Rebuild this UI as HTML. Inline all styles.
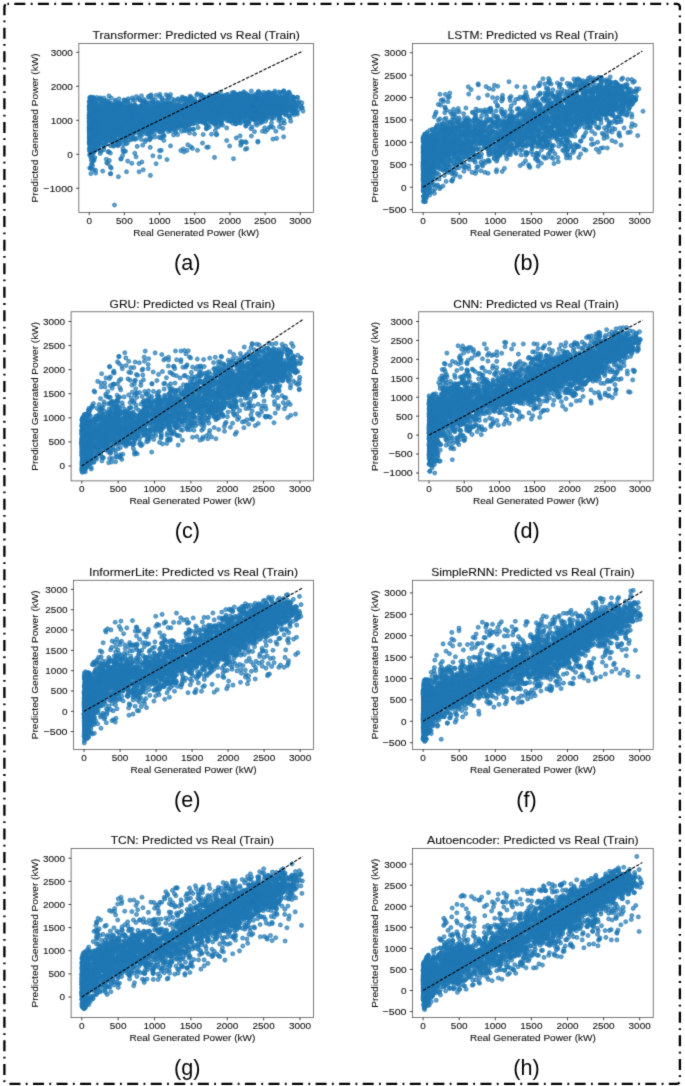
<!DOCTYPE html><html><head><meta charset="utf-8"><style>html,body{margin:0;padding:0;background:#fff}svg{display:block}text{font-family:"Liberation Sans",sans-serif;fill:#111;stroke:#111;stroke-width:0.1px}.sc path{fill:none;stroke:none;marker-start:url(#mk);marker-mid:url(#mk);marker-end:url(#mk)}</style></head><body>
<svg width="685" height="1086" viewBox="0 0 685 1086">
<defs><filter id="bl" filterUnits="userSpaceOnUse" x="0" y="0" width="685" height="1086" color-interpolation-filters="sRGB"><feConvolveMatrix order="3" kernelMatrix="1 6 1 6 36 6 1 6 1" edgeMode="duplicate"/></filter></defs><g filter="url(#bl)">
<rect width="685" height="1086" fill="#fff"/>
<defs><marker id="mk" markerUnits="userSpaceOnUse" markerWidth="1" markerHeight="1" overflow="visible"><circle r="20.4" fill="#1f77b4" fill-opacity="0.7" stroke="#1f77b4" stroke-opacity="0.7" stroke-width="9.1"/></marker></defs>
<clipPath id="ca"><rect x="78.85" y="43.35" width="234.65" height="169.1"/></clipPath>
<g class="sc" clip-path="url(#ca)"><g transform="scale(.1)"><path d="m1090 959 274 7 51-8 71 5 24-14 0 10 52-6 34 12 3-21 63 3 16 15 27-17 197 17 64-13 9-12 31 13 9 0 17 16 65-18 1 16 51-5 6-18 3 7 11-1 9 11 1-9 2 16 20 1 3-45 14 43 9-5 17 7 3-12 25-9 4 0 36 15 8-32 5 33 10-34 8-2 3 25 9-6 16 22 7-13 0 12 1-21 15-5 8-4 9 16 3 14 1-22 21-13 2-12 7 22 3 18 9-7 6-15 6 14 2 11 5-5 4 6 9-12 19 14 5-54 14 57 1-12 23-11 21 11 4-19 6-16 1 13 2-20 11 13 16 19 3 13 21-34 5 26 10-18 7 17 5 12 2-12 1 9 1 1 10-29 6-9 5 39 5-4 3-29 9 26 2 14 5-21 0 16 5-30 7 7 14 26 3-7 2-22 5-25 0 14 17 35 25-40 4 37 5-31 17 15 19-27 0 0 3-6 15 53 3-15 1 21 15-31 15 3 1-15 3-2 12 26 89 68-17-41-2-2-6 50-20 4-7 0-2-37-2-18-2 51 0-14-1-35-2 33-1 12-2-2-7-49-9 41-6-25-22 22-4-26-2 28-10-27-1 11-2 31 0-22-1-14-1 33-3-23-2 26 0 0-1-8-4-31 0 39-1-1-4-42-3 38-1-31 0 9-3-9-1 37-3-4-3 4-4-12-7 11-1-21-5-23-1 47 0-57-4 28 0 12 0-28-1 32-4-17 0 7 0 19-1-7-1-11 0-19-2 25-4-4 0 0-17-20-1 27-3-36 0 37-1 13-2-22-1-28-1 39-2-39-5 39-3-42-3 17 0 4-5-12-2 39 0 1-4-16 0-31-1 40-8 8-2-34-1 34 0-40-2 41 0 0-1-20-2-34 0 4-4 2-2-6 0 36-1 16 0 4-1-36-3-17-4 39-1-35 0 28 0 20-7-18-2 14 0-11-1-17-4-24 0 30-3 24 0-41-1 10-2-11-1 8-4 27-3-15 0 10-1 2 0-8-3-12 0 11-5 5-3-31-4-11-1 27-4 29-1-33-2 12 0 23-1-20-3-21-4-2-3 21-4-3-1 15-1-25-1 26 0-31-1 16-1 9-4-15-4-10 0 40-1-19-1 8-1 4-2 3-1-34-2 34-3-42-1 27 0-10-4-16-4 42-2-6 0 4-1 4-3-45 0 40-2-34-5 36-1-18 0-10-1 15-7-25-2 20-1 3 0-22-1 2 0 37-3-6-1 3-1-13 0 11-5-32-2-6-2 22-1 5-3 17 0-44-1 19 0-21-1 6-1-8-1 33-2-35-1 22-2 18-1 8 0-30 0-15-2 45-2-54-3 55-4-44-2-1-1 41-2-39-1-5-2 14-5 9-2 18 0-16 0-11-2 18-2-24-1 34-3-28-1 1 0 22-3-1-7 10 0-33-3 33-5-3-1-35-1 20-10 15-2-17-1-4-3 17-4-12-4 7-3-34-1-6 0 32-3-25-1 13-3 0-1 28-4-8-1-16-5 23-1-4-1-39-1 38-2-22 0 5-2-2-2-7 0 27-2-17-8 19-7-35-3-11 0 37-2 18-1-55-3 54-3-32-1 12-3-13 0 6 0 18-3-15-3 18 0-40-5 33 0 14 0 0-3-22-1-13-2 25-1-15 0 28 0-11 0-24 0 12-5 7-4-34-5 25-2-30-1 30 0 20-2-11 0 14-5-55-1 29-2 17-1 0-2-13-5 17-3-45-3 37-1-6-4-31-1 31-1 1 0 18 0-24-8-11-1 26 0-38 0 19-5 24-3 0-3-46-2-2-9 2-5 25-1-30-3 54-3-2-2-1-3-17-1-15-2-19 0 34-3 3-5-3-6-8-1 13-5 7-2 1 0-8-2-22-5 31 0-12-3-5-6-26-2-6-2 28-3 7-2-14-3 11-1 16-1-28-8 13-2-13-2 5 0-2-6 21-2-29-3 29-7-45-3 54-6-8-3-14-1-9 0-15 0 12-1 30-1-35-1-6-3 17 0 4-1 14-5-23-3 0-3-15-1 12-6 32-1 3-2-9-1 5-6 10-1-11-1 2-2 9 0-41-9 27-4-24-1 7-5-2-2 28-3-3-1 4-2-50-2 49-4 3-2-43-2 37-2-37 0 37-5-13-1-16 0 37-1-26-2 24-5-10-7-5-2-42-10 20-4 1-3 27-4-3-1 8-4 0-1-47-6 42-14-44-13 31-6-2 0-27-9 9-4 38 0-15-5 13-1 8-13-4-1-44-5 35-9 11-4-6-28 6-9-10 0 1-6-26-1 31-6 0-4 2-3-12-5 14-1 1-1-16-2 8 0 1-4-36-10-12-8 21-3 24-1-28-12 11-1 8-26-18-1-7-4 19-22-24-3 31-2-16-5-21-17 37-20-10-4-10-33 25-2-13-27-13-28-19-12 37-7-7-44 1-6-18-2 28-37 17-29-25-21 22-1-1-3-34-9 15-32-29-33 48-6-7-6-19-6 17-10 4-22-14-6-4-14-15-37 23-19-9-5-19-40 8-6 19-1 19-22-21-10 3-4-8-49 26-1-36-36 12-5 17-36-37-15 46-17-13-13-8-27-4-2-22-10 39-19-27-7 6 0-19-18 10-16-14-6 31-19-15 0 14-5 18-2-48-1 3-4 41-12-18-7-16-2-14-1 49-5-4-1-44-3 49-1-34-2 35 0-45-3 38-2-2 0 56 0-2 0 2 1-14 0 30 1-45 0 42 0-15 1-5 0 17 0-18 3 6 1-8 2-3 0 7 3-4 0 6 2-22 1 1 1 5 1 26 0-21 0 23 1 7 0-16 1-27 0 37 0-35 1 27 0-11 2-12 0 31 1-25 0 21 1-37 1-1 1 30 0 18 1-29 3 30 4-32 1 13 0-16 4 6 0-26 2 5 1 13 4 35 3-53 3 20 1 29 1 3 1-38 2 39 1-12 0 3 7-40 4 5 3 41 0-14 8 7 9-7 0 6 0-2 10-10 0-28 12 32 4-27 4 34 9-32 13 30 13-8 1 17 6-49 2 48 0-24 3-20 27 40 1-33 4 15 0 9 2-8 7-12 13-7 2 25 5 22 5-19 5 15 8-1 2-33 0 33 5-3 10-12 3-17 0-6 3 42 2-4 7-38 4 30 2-42 6 41 2 17 5-39 1 39 2-43 1 12 3 28 6-45 2 24 4 14 1-21 1-11 5 42 4-50 2 35 16-33 3 33 1-4 2 19 4-10 15-3 2 7 1-40 4 32 6-4 9-16 7 21 10-36 0 49 3-26 2 26 2 0 5-27 1 22 2-3 3 7 4-29 2 24 8-3 2-11 5 14 5-33 6 5 2 17 5 10 4-20 6 27 32-25 0 20 8-13 3-1 4-15 1 17 1-13 12 17 4-40 14 48 13-33 3 22 1-30 2 7 3-4 3 10 7-26 10 59 4-3 2-52 7 55 3-6 8-17 5-5 5-30 3 53 12-13 6-28 6 31 15 3 3-26 3 0 6-18 3 51 3-1 11-35 1 39 3-11 7-4 2-17 13-4 2 17 7 12 10-45 1 8 8 12 0-7 2 6 0 17 2-7 1 21 5-6 1-39 11 5 3 44 5-16 1-22 0-3 1 26 6 11 2-26 8-17 3-3 12 34 0-38 4 13 1-9 1 27 8 21 19-26 2-8 2 22 14 10 3-14 3 6 1-21 2-7 18 22 2-31 1 21 4-3 11 14 4 13 6-20 9 18 7-22 5-7 2-4 4 12 8 25 1-31 2 32 0 1 1-23 5-21 2 24 1 7 1-44 1 42 0-8 8-24 2 44 0-1 7-15 22 8 0-1 7-36 1-3 3 42 24 2 0 0 3-7 3-3 3-9 1-26 1 27 6 22 1-34 3 10 11-8 3 19 3-3 1-33 2 52 0-24 0-20 1 22 1-17 6 8 5 30 8-44 5 17 4-16 3 24 2-7 2-27 0 27 1-16 6 37 4-10 5-23 2 3 0 18 2 5 0 6 1-30 0 32 6-18 0-14 0 21 4 15 0-4 0-8 1 0 1-5 2 4 1-41 3-3 2 39 1-15 1-20 4 28 2-30 4 35 2 3 0 18 6-11 1 5 0-4 1-47 3 37 0 8 5-25 1-9 1 17 0-8 1 10 10 8 1 18 3-12 1-6 3-17 1 6 2-8 0-8 3-7 1 44 2-17 0-8 0 7 0 16 3-10 2 4 0 6 2-16 1 12 6-23 1-1 0-13 4 27 1-6 1 25 1 3 5-20 0 21 2-19 4-16 0 5 1-6 1 5 0-3 1-6 1 39 2-25 2 16 0-45 1 45 3-42 0 53 14-30 2-9 1-10 1 7 0 6 0 20 0-18 0 17 3-39 7 30 0-12 1 32 4-19 2 16 0 9 1-51 0 28 1 0 6 17 4-14 3-26 1 15 0-13 2-14 1 2 0 4 2 15 0-1 2 28 2 3 0-13 3-19 1-19 3 48 1-7 2-29 2 20 1 4 1 19 2-23 0-23 1 10 4 17 0 11 1-17 2-14 1-13 2 29 1-26 3 36 0-3 1 18 2-29 0 24 1-27 0-11 1 44 2-2 1-28 1 1 0-26 1 25 2 20 1-32 0 6 3 7 0-21 2 18 0 7 1-19 1 10 1 19 2-4 3 20 0-36 2 20 3 5 2-27 0-11 1-1 0 29 2-21 2-4 3 3 1 33 0-30 3 13 0 5 1-35 4 15 0 40 6 0 0-57 3 35 1-14 0-7 1 23 1 7 2-25 1 2 1 9 3-10 4 18 0 20 3-23 2-5 1-7 1-13 1 1 1 45 1-55 0 40 1-16 1 27 2-2 1-25 2 26 0-7 4-14 0-3 2-15 2 31 1-2 1 10 0-23 6 5 1 17 5-3 1-42 0 6 3 41 1-15 1-5 3-3 2 5 2-14 1 28 2-43 0 19 1 22 1 6 0 6 0-11 3 11 0-38 2 11 0-23 1 0 2 44 0-33 1 17 0-8 1 18 0-43 1-3 0 49 1-1 1-29 2 18 1 19 0-49 3 20 0 25 5-9 1-39 1 44 3-22 0-17 2 39 1 6 3-22 3-20 2 44 0 1 1-39 3-4 3 21 1-17 2 3 0-5 0 15 1-5 1-4 3 6 2 19 0-33 1-4 0 34 3-13 1 7 3 11 1-33 1 25 0 17 1-49 3-2 1 36 1 14 3 0 0-29 0 21 1-11 1-5 1-13 1 19 1 8 0-33 2 15 1-26 2 31 1-22 5 27 1-37 0 40 0-10 2-15 1 21 1 9 2-43 1 10 3 15 5-2 1 25 2 5 1-54 0 31 0-19 1 28 0-15 5 2 0-20 3 4 2 23 1-13 2 10 2-34 0 31 1 5 4-12 1 6 0-16 3 8 4 12 7-6 2-5 0 8 1-22 2-7 5 33 2-12 0-1 1 29 0 0 2-22 1 18 1-3 2-2 0-2 1 2 1-1 0-22 1 13 1 11 1 11 0-46 0 18 1-9 2 7 1-22 0 52 0-9 1 1 2 5 5 4 0-51 1 55 1-13 0-2 1-19 2 21 0-39 1 46 1-45 1 8 1 30 2-6 0 2 2-37 1 26 2-18 1-3 2 30 1 16 1-29 0-22 1 4 2 27 0 3 1-12 1-5 0-7 0-10 0 23 1 10 1-27 0 1 2 8 3-5 2 0 1 22 2-23 1-6 0 16 3-5 0-18 3 23 4-5 1 32 1-28 1 25 3-29 0 16 0 14 2 6 1-35 2 10 1 16 1-9 0-9 5 17 0-35 2 3 0 5 1 32 1-20 1 29 1-36 3 23 0 4 1-49 1 12 2-7 0 37 1 4 4-5 2-28 5-14 1 33 1 20 1-5 2-24 0 19 4-43 1 23 0-6 0-3 1 1 1-7 1 49 1-40 1 15 0 1 1-10 2-22 1 32 5-20 1 24 0-17 0-18 1 24 1-16 0 17 1-20 1 23 1-22 1 1 0 40 2-40 1 30 1 9 0-20 0 0 4 22 2-39 0 7 5 13 1-14 0-16 1 27 1 26 0-22 5 19 3-7 1-26 2-5 2 30 0 2 2-13 2-3 2-21 0 8 0 31 2-21 1 22 2-48 1 4 1 42 1 11 0-36 0 35 4-38 0 0 0 19 2-12 2 12 0-1 1-6 0-13 0-10 2 46 3-40 1 28 1 5 2 0 0-7 0-14 1 30 1-15 1-20 1 28 4-36 1-4 0 32 1 16 2-1 0-10 2-4 1 6 4-28 1-15 1 2 1 47 0-7 1-22 2 28 1-9 0-14 4 27 4-27 0 23 2-28 2 7 0-31 1 19 0-5 2 0 0 3 2-14 1 48 3-15 1-17 4 4 0 36 1-20 2 16 1-39 1 37 3-4 2-11 0 8 1-12 2 7 0-19 1-6 2 2 4-9 0 12 5 20 1-22 4-6 2 29 0-17 1 1 1-2 2-9 0 21 3 23 1-33 0 11 0-17 1-11 1 20 2-26 1-1 1 18 3 7 0 2 5-12 0-11 6 6 3 42 6-35 1-7 5 1 9 27 1-4 4-23 0 27 1 19 4-1 6-4 12-23 4 12 0 5 0-31 17 14 0 6 2-25 18 12 3 10 7-3 16-28 24 28 5 16 4-46 4 48 7 34-44-16-12 46-6-14-7 2-2-17-10-12-3 4-3 3-4-13-6 8 0 13-2 16-10 3-11-25-8-14-11 8-20 5-1-8 0-9-1 14-6 38-4-12-18-3-2-28 0 13-4-13-4 21-2-22-3 4-1-12-7 35-1 4-5-10-2-13-2-3-4 9-1-20-3 48 0-37-1 42-2-52-1-6-7 11-3 4-1 14-1 15-1-8-2-7-1-27-2 16-1 3 0 33-1-48 0 34-3-18-6-4-2 33-1-26-2-22-2 44-3-46-2 12-1-11 0 45-4-15-1-25 0 45 0-3-2-43-2 36-2 5-3-35-6 25 0-5-4-30-7 48 0-33-4 15-5 1-5-28 0 14-2-12 0 14-1 30-1-10-3-28-2 22-1 4-2-32-3-3-6-4-2 28 0 18-1-30 0 35-8-33 0-14-7 42-1-45-5 17-1-18 0 42 0-33-2 5-5-10-2 28-1-7-2 30-3-43-1-12-3 18-1-10-1 3-1-8-1 18-5 5-2-17-1 2 0 31-2-5 0-16-1 8-6 0-5-20-2 20-1-28 0 19-1-16-2 44-6-7-4 1 0-25 0-1-2-9-1 43 0-40-2 14-1 12-7-25-1-11 0 24-3 35 0-26 0-8-6 26 0-44-3 8-4 10-4-22-2 0 0 26-2-24-2 0-4 0-4 4 0 47 0-4-1-3 0 4-1-25-2-5 0 30 0-14-1-2-6-8-3 16-1-9-1-22 0 42 0-35-6-2-2-3-1 12-2-5-5 6-1-4 0 18 0-24-5 30-4-12-1-3 0-26-2 8-1 5 0 10-1-7-2-16 0 37 0-20-3 9-1-29 0 8 0 2-1 6 0 18-3-16 0-7 0 14 0-2-2-1 0 18-4-39-2-2-2 33-3 2 0 3-1-27-1 1-4 13 0-25-1 22-1 33 0-12-4-32-2 37 0-37 0-5-1 2-2-8 0-3-1 15 0-8 0 22-3-30-1 4-3 29-4 1 0-23-1-5-2 34-3-11 0-18-2 28-3-16-8 0-1 3-3 2-3-1 0 4-1 21-2-51-1 22-1 2-1 28-2 3-1-37-1 24-1-36-3 0-2 40-1-13-1-27 0 31-3 7-1-8 0-9-1-23 0 35-1 14-1-52-3 43-8-5-5-17-2 36-1-4-2-29-3-11-1 21 0 1-1-36-3 45 0-34 0 34 0-16-7-11 0 2-1-7 0 44-3-18-1 9 0-33-1 40-3-48-3 1-3 2-1 12-1 0-1-22-2 32-1-18-3 7-4-2-2 39-3-57-1 41-5 7 0-5-1 0 0 13 0-26-2 2-1-32 0 27-2-7 0 37-1-59-2 58-3-41 0 42 0-24-1-7 0 6-1-28-1-3-1-2-1 22-1 5-3 30 0-21-2-36-1-1-2 52 0-20-1-24 0 36-3-36 0 31-2-23-5 36 0-17-1-35-1 32 0-3-10 9-1-17 0-12-3 8 0-12-1 21-1 16-2 9-2-4-1-31 0 8-2-8-2 15-1-23-3 24 0 5-1-18 0-18-1 27-1-21 0 9-4-16-1 51 0-13-3-27-3-5-1 4-2 43-2-18-3-30-2 41-5-25-1 13-1-17-6-15-5-1-3 43-7-31-1-6-1 17-2-4-6 34-1-8-3-8 0-34-1 19-1 24-1-3 0-29 0 0-3-1-1 37 0-36-3-6-1 42-7-40-1-10-1 11 0-9-1 40 0-42-4 29-4-29-3 23 0 13-1 18-2 0-1-4-2-15-1-35-3-1-1 26 0 19-3-43-2 22 0 13-1 5-1 3-4-12 0 14-2-30-5 18-1 1-2 6-2-29-1 23-1-2-1-16-1 36-4-43-7 4-1-6-1-5-1 35-1-36-2 12-3 3 0 13-1 16 0-20-1 16 0-12-1-9 0-2 0 16 0-10-1 4 0-11-5-2-2 34-3-29 0-7-2 23-1-1 0 13-3-27 0 13-1 8-2 12-2 3-5-56-7 41-3-43-2 49-1-48-3 20-2-17-1 48-6-51 0 35-3-36-1 57-1-23-1-25-2 0 0 42 0-19-2-22 0 29-1-14 0-18-2 44-1-3-3 10 0-47-2 9-4-20-5 20-1 32 0-9-1-23-2 12-1-7-9 0-1-20-1-3 0 49 0-14-2-13-2-7-3-1 0 29-1 12 0-32-2-3 0-18-1-5 0 5-1 13 0 11-3 28 0-39-1 11-5 19 0-40-1 21-2 21-10-44-1 31 0-36-7 5-2 36 0 5 0-20-5 12 0 9-3-17-1 2-1-12-3-17-1 45-4-38-1 8-1-13-3 30-1 18-3-33 0 36-5-45-1 8 0 34-2-12-1-9-1-4 0 30-1-14 0-12-7 22-3 2-2-42-1 4-4-1-7 25-1 0 0 0 0-34-4 19-1 24 0-51-3 12 0-3-1 19 0-17-2 32-3-8-2-7 0-14-3 33-4 6-2-16 0-29 0 37-1-2 0-16-1 16-3 9-2-3-10-22-1-13-9 27-1 15-3-52-2 38-1-17-1-20-1 41-1 1-1 9-2 0 0-23 0 20-1-37-2 3-1 37 0-29 0 27-2-27-2-10 0 6-2 11-1 12 0 6-8-25-3 21-5-24-2 5-2 13-1-43-1 36-1 14 0-41 0 45-4-27-1-11-2 39 0-8-1-15-6 25 0-30-1 14-2 0 0-14 0 12-1 13-1-38-3 13-1-22-2 9-1 40-1-26 0 1-2 12 0-39-2 49-3-5-1 0 0-7-2-31 0 42-2-30-1-12-2 43-1-16-1 13-2-44-8 10-1 21-6-2 0 11 0-32-7-10-3 46-1-25-1 28-7-13-8 0-3 17-4-20-2-3-4 16 0-32-2 24-3 14-3-24-3-24-1 21-1 17-6 7-2-44-2 7-1-1-3 38 0 5-7-11 0 9-3-18-2-13 0 34-12-3-6-47-3 32-5-9-4 24-1 4-2-52 0 52-2-43-1-8 0 7-8 21-2 19-5-5-4-3-3 12-7-23-5 8-4 14-9-31-1-15-4 28-1 10-1-36-2 26-3-11-5-6-6-1 0 9-1-16-2-10-1-1-2 34-6 14-3-13-1 5-1-42-5 9-4 42-3-4-2-10-4-38-3 0-3 57-1-26-3 21-7-9-4 1 0-35 0 38-6 12-1 0-1-31-4 26-1-19-4 16 0-7-3 0-1-6-1-13-4 23-4-28 0-17-5 11-6 31-7-9-7-27-3 45-1-13-1 1-5-30-2 25-9-33-10 42-7-14-1 15-1-39-2 19-2 11-1 10-3-47-6 4-5 9-1 27-3 0-3 0-4-19 0 17-4-20-3 37 0-54 0 36-9 15-10-4-5 5-1-4-12-43-3 17-5-19 0 27-5-16 0-16-1 32 0 8-1-27-1 8 0 22 0-42-1 36-2-27-1 38-1-48 0 57-3-22-2-2-2-23-2 14 0-16-5 7 0 1 0-8-7 15-2 33-1-17-1-1-16-32-1 18 0 16-1-21-1 33-3-31-2 28-1 7-8-1-4-36-2 7-3-19 0 18-4-21-1 12-3 40-8-51 0 54 0-1-1-36-5 17-3-15-1 30-2-3-1-20-11-17-8 27-2-28-1 34 0-14-2-6-3 32-2-53-2 33 0 12-3-38-1 9-1 33-3-16 0 5-5-24-2 30-6-38-1 23-2-10-4-6-4 21-1-18-10-12-6 42-2-14-5 12-4-38-4 11-5 17 0-13-2-22-5 19-2-14-1-9 0 37-3-33-7 23-5 25-1 6-5-4 0-29-1-12 0 42-8-37-1 34-4-25-1-1-4 32-3-14 0-39-4-5-3 34-1-29-4 11 0-3-2 7 0-12-3 38-1-32-5 5-1 14-1-13-3 33-3-14-2 7-3 9-1-28 0-6 0 31-12-22-3-6-1 24 0-49-3 0-2 26-2-18-1 32-7 3-5-4-4 10 0-45-3 10-3 31-2 9-2 0-2-37 0 15-1 27-3-2 0-33-3 11-2-10 0 8-1 5-1-11 0-15-1-4-2 30 0 13-2-13 0 18-2-22-1-23 0 46-1 0-1-53 0 24-1 2-4 20-1-14-1 20 0-9-1-36 0 17-1 14 0 1-4 5 0-10-1 12 0-31-2 17-1-1 0 22 0-7 0-36-1 14 0-22-2 23-1 17 0-25 0 37-1-17 0 13 0-37-2-1-1 31 0-37-1 38 0 2 0 3-2-18-2 15-1-23-1 12 0 6 0-24 0 13 0-11-1-3 0 6 0 7 0 24-2-26 0 26 0-52-6 43-1-14 0-28 0 15-1 24 0-13-1 12 0-21-1-13 0 42 0 0 0 7-1-39 0 15-1 13 0-5 0-13-1-17-1 45 0-43-1 43 0-49 0 42 0 8-1 0 0-27-1-21-1-4-2 2-1 45 0-12-1 53 1 20 0-40 0-5 0 23 0-12 0-16 0-3 0 26 1-18 0 18 1 4 0 17 1 0 0-29 1 38 0-52 0 39 0-6 1-32 1 5 1-9 0 45 1-13 1 16 1-44 0 41 1-27 0-21 0 29 1-6 0-12 0 21 0-31 0 22 0 8 1 10 0-32 0-4 0 23 0-3 0-14 1 27 0 11 1-34 0 6 1-2 0-1 1 40 1-55 0 13 1 26 0-8 0 24 1-10 0-29 2 24 0-40 1 5 0 2 1-4 2 45 0-27 0 20 0-14 0 25 1-50 1 12 0-4 0 35 1-2 1 13 0-25 0-9 1 23 1-1 2-46 0 11 1-4 0-3 0 46 0-29 1-22 0 56 1-26 0-22 1 9 1 12 1-11 0-17 0 28 1 16 0-37 0 12 3 24 1-31 1 25 0-30 1 48 2-1 0-32 1 4 0 7 1 15 0-15 0-7 3 25 1 3 2-15 2-38 2 51 1 1 5-1 0-24 2 1 1-2 0 23 1-33 3 24 1-41 1 34 2 19 0-52 3 32 1 6 1 5 0 0 2-24 2 6 4 1 4-9 0-18 5 35 1-1 0 19 0-7 1-23 4-24 0 56 7-18 2-16 2-10 3 41 4 0 2 6 6-34 1 2 1 0 3 12 6-16 1 27 7 6 1 1 0-50 4 14 4 23 1 9 2-34 1 14 4-33 3 30 0 10 0-6 6-8 0 27 2-26 0 6 5-23 2 44 4-4 5-9 0-3 1-10 1-15 6-1 1 35 2-46 0 57 2-31 4 10 1-25 1 43 0-47 2 33 0-34 5 36 1-20 2 14 0-6 0-8 2 10 1 0 1-23 1-10 8 36 4 7 1-11 1-27 3 38 1-20 0 29 3-15 3 12 0-38 3 30 0 13 2-2 0-7 1-5 4-13 0-13 3 17 1 5 2-18 1-17 1 46 1-30 2 5 2 14 0 6 3-22 2 38 4-11 0 0 1-18 1 5 0 7 1 13 1-28 4-22 1 21 1-6 3 19 2-30 3 43 0-23 2-3 2-1 0 11 0 2 5-29 2 33 2-27 2-3 1 20 1-4 1 22 0 2 1-16 3 11 1 7 3 2 2-38 6-3 5 35 1 3 1-3 0 0 0 4 11-35 0-8 1 11 3-3 1-3 1-9 1 43 1-3 2-24 2 14 1-10 1 31 5-29 0-20 0 23 2-10 2 32 0-45 7 39 2 10 5-3 1-34 2-1 1 7 5-12 0 39 1-49 5 3 1 11 2 2 6-19 3 52 9-30 2 18 2-28 1 15 1-12 3-3 9-9 1 54 0-10 0 6 2-10 3-37 4 51 1-46 1 45 1-37 2-16 3 10 11 16 3 1 4 4 0-33 5 49 4-46 1 4 9-6 6 47 10 3 1-10 6-20 2-20 4-1 0 31 4 5 0-4 0 23 4-20 0-18 8 1 0 11 4-9 1 36 2-46 0 30 5-2 3-28 4 27 2 8 1-5 2-32 2 31 7-30 0 1 0 4 3 5 0-1 1 8 1-1 3-26 1 55 2-24 2 0 1-30 3 6 1 35 0-22 0-9 4-5 4 9 9-4 1 24 4-35 0 36 5-24 6 3 1 1 4 19 4 16 1-28 5-21 5 45 0 2 5-15 0-4 2-30 5 30 4 17 2 5 4-43 3 19 0 9 1 16 1 5 1-39 1-18 0 28 5-15 4-15 0 48 4-19 1 24 0-44 1 11 0-17 1 47 4-2 2 3 3-22 1-17 1 8 1 13 2 20 2-52 6 55 2-15 2-37 1 33 2-7 1-26 5 35 2-10 0-14 1 17 2-7 2-21 1 46 0-18 7-25 5 1 4 19 1-19 9 50 4-33 0-4 2-15 0 52 2-52 1 44 3-40 6-8 2 45 2-30 0 22 1 9 1-38 4 33 1 12 0-33 1 34 0-32 0-4 8-10 1 28 4-21 11 15 2 10 1-20 2 35 3-36 0 10 2-2 1-10 1-3 1 35 3 5 14-50 1 7 0 41 4-46 9-2 0 27 3 3 1-4 4-25 1 42 0-40 1 49 1 0 2-19 0-39 1 0 1 54 2-3 10-29 1-18 4 30 0 10 1 8 1-13 6-34 2 19 0-24 1 26 1 7 1-27 1 29 11-17 2 11 0-18 1 23 0-20 7-12 3 39 0 3 0-37 2 22 6-9 9-14 2 14 3 13 5-2 5-8 0-22 1 3 3 11 0-12 0 35 5 20 1-9 4-2 1-47 1 34 7 19 1 0 1-19 2 25 0-20 2-35 1 14 0-8 1 3 1 21 4 8 2 15 2-54 4 37 11 2 6 0 2-22 2 0 6-20 3 34 3 13 4-25 2 6 2-13 3 21 2-33 5 15 4-4 1 17 0 8 3-7 1-9 1-22 8 13 4 9 1-10 1 46 17-38 0 2 1 9 6 4 5-22 3 33 5-39 2 39 4-34 0 9 1-18 3 30 7-25 4-2 1 23 1 19 5-2 5-21 0-21 3 25 1-10 2 14 2-6 2-12 0 38 1-46 0-7 1 24 1 10 4-35 4 51 0-44 12 24 1 15 3-31 3-11 5 13 2 22 4-31 3-2 1 16 2-11 4 29 1-38 0 53 1-55 2 26 4 1 1 26 10-51 7 51 2-39 4-3 2 33 3 10 0-36 2 25 10 15 2-8 1-45 1 16 2 31 6-22 7-27 1 21 3-23 2 4 1 26 3 26 1-27 0-25 9 16 1-18 6 48 1-40 1 4 2 30 2 4 2 1 0-35 1-8 1 7 0-13 0 45 10-9 12-7 4 14 2-40 16 20 10-21 5 14 1 19 1 23 1-51 8 21 2 25 3-32 11 32 0-53 7 1 0 14 0 17 2-24 1 15 13-2 4 3 0-25 6 23 1 35 3-48 2 13 2-2 1 22 2 7 5-34 0-9 1 37 3-17 1-4 3-8 4-1 2-6 6 0 4-1 10 50 8-18 2-2 3 8 1-13 1-14 4 11 4-14 3 0 0-15 2 39 6-16 0-19 2 18 5-2 6 12 9-25 1 7 7 5 2-16 0 20 20 0 0-21 2 5 5-6 7 1 3 4 3 37 7-15 13-11 2 24 3-18 1-23 21 38 2-31 0-1 0 37 4-9 1 16 6-6 5-37 5 34 1 1 0 17 8-59 6 7 5 12 8 11 5 6 2 2 1 9 6-13 1-4 12-20 4 4 1 44 1-58 6 2 0 21 4 23 3-33 3-1 0 20 0-3 4-15 2 7 2-5 2-5 0 21 8-11 5-15 7 36 4-38 3 11 7 9 21-24 17 41 4-13 18 4 12-25 37 15 0 34 6-17 1-25 5 16 6 4 34 24 13-58 34 16 8-6 8 22 41-32-36 64-64 20-33 0-95-2-6 36-55-53-32 8-12 0-14 12-28 18-9-18-62-23-10 26-5-9-5-7-17 36-1-12-1 17-4-46 0-5-3 1-30 4-17 17-8-9-15-13-14 21-3 6-12 2-26-8-18-19-12-1-70 41-10-31-4 13-6-3-1 17-22 19-11-51-12 19-1-10-6 5-8 13-1-8-13-24-14 14 0-8-14-5 0 6-26 35-7 13-12-25-5-6-3-4-23-9-2-7-16 3-14-4-24-2-2 20-31 0-3 4-15-5-5-21-14 7-6 33 0-4-3-8 0-28-10-1-5 36-14-3-2 8-2 8-1 4-7-7-1-7-5-40-1 7-7 37-7-18-4 26-1-11-1 11-1-51-5 42-12-20-6-7-3 24 0 12-4-33-7 19-2-23 0-14-5 40-2-33-3 11 0 26-1-21-4 28-2-29-9 30-1-39 0 17-5 3-3-33-7 52-10 5-2-57-2 14-1 27-3-8-4 24-4-52-18 14-3 15-1 14 0-16-1-29-3 47-6-27-6-8-2-8-8 18-7 10-4-11-5 0-2-23-4 14-8 1-3 14-1-17-5-12-9 56 0-55-1 48-10-2-2-43 0 29-6 4-4-34-13 48-1-32-1 5-5 23-3-22-1-20-3 4-5 40 0-14 0 9-2-23-6 21-2-2-2-36 0 19-7 26-1-16-1 16-1-34-2 37-5-24-8-7-1-15-1-6-1 33 0-16-5-1-3-12-2-1-3 51-3-14-5 17-2-51-2 39 0-43-1 39-1-25-4 3-2-10-2 11 0 35-8-21-6-7 0-26 0 6-8 3-8-11-2 22-1-23-5 3-1 37-2-10-1 4-1 18-2-18 0 24-4-47-1 47-4-37-1-11 0 3-4 19 0 5-2 4-6-7-1 18 0-44-2 23-1-2-1-16-6-7-2 35-2-38-6 35-4 12-1-7-3-40-5 5-5-8-6 32-1-23 0 31-10-7-5-31 0 11-1 21 0-31-12 1-1 32-2-8-2 14-2-12-2 18-2-35-2 14-3-26-1 40-7-33-9-7-3 36-2-16-3 4-4-12-7 28-1-39-1 18-2 4 0 18-1-25-4 36-2-21-2 3-5-29-4 47 0-33-1 3 0 7-2-27-7 23-2 9-1-13-5 12-2 20-1-23-4 20 0-42-6 45-3-3 0-47 0 17-1-21 0 16 0-16-1 55 0-33-2 22-1-17 0 13-3-28-4 5-3 9-2 13-3-1-1-38 0 43-1-36-1 50-1-23-2-9-1 18 0 1-1-12-1 13-6-43-1 51-1-32-4 21-4 11-1-41-1 14 0-2-7 21-1-2-2-26-2 25-2-8-1-17-1 21-6 17 0 3-7-54-4 41 0-7-5-13-2-15-3 3-5 26 0 5-3-42-2 45-1-13-1-8 0-20-3 38-1-32-1 3 0 29-5 15 0-7 0-2-4-23 0-20-7 41 0-22-3 29-1-34-2 28-2-13-3-5-5 6-2-26-2 23-1-14-1 34 0-30-2-13-3-3-2 49-6-53-5 5-1 28-5-10 0 8-2-24-3 1 0 13-1-6-2 8 0-14 0 21-1-6-1-11-1-4-2 30-8-31-3 5-2 0-1 37-1-25-1-3-3-21-4 20-3 15-1 17-5-43 0-8-6-1-3 19-2-15-5 19 0 23-4-8-2-19 0-3-1 30 0-4-2-19 0-17-2 15 0 23 0-13-1 8 0-24-1 18-2 20-1-4 0-13 0-22-1 18 0-5-3-30-1 55-1-1-1-39-2 31-1-25-1 27 0-29-1 17 0-3 0-13-2 20-2 14-2-2-1-36-2-7 0-5-3-3-1 50-6-6 0-8-1-4-1-14-2 29-3-26 0 22-3 3-1-1-2-44 0 28 0-32-1 15-2 38-1-29 0 26 0-12 0 0-1-14-1 8 0-15 0 40-1-10 0-26-1 16 0 1-1-13-2 8-1-6-1-27 0 40 0-35-1 1 0 44-1-22 0-27-1 48-2-40-1-1 0 16 0 24 0-18 0 28-1-26 0-7-1 30-1-3 0-30 0 14-1 16 0-20 0 17 0-25-1 25 0 10 0-31-1 13 0 7 0-39 0 38 0-45-1 40 0-30 0-6-4 52 0-54-1 49 0-43-1 1 0 40-1-26-1 8 0 21 0-45-1 32 0 10 0-50 0 38 0 13-1-52 0 41 0 14 0 3-1-55 0 44-2-37 0 11-1-3 0-13-1 54 0-41 0 15-1 19 0-16-1-13 0 32 0-7-1 6 0-25-1-26 0 49 0 4 0-56 0 3-1 55 0-26 0 12 0-13-1 11 0-11 0 6-1-30 0 32 0-2 0 22 0-16 0 5 0-9 0-35-1 14-1-17-1 43 0-6 0-10-2 5 0 13 0 1 0-42-1 37 0-19-1-23 0 3 0 38 0 15-1-39 0 32-1-47 0 15 0 18-1-30 0 35 0-32 0 8-1 67 1 25 0-4 0-42 0 8 0-2 1 2 0 7 0 10 0-26 0 20 0-11 1 10 0 15 0 10 0-8 1-35 0 10 0-5 1 51 0-37 0 34 0-34 1 1 0-1 1 21 1 7 1-10 0 19 0 1 0-19 1 16 1-15 0-27 1 36 0-45 0 23 1-26 0 22 0-14 2 5 0 10 0-20 0 20 0 0 0-7 0 15 1-9 0-7 1 11 0-13 1 40 0-50 1 22 0-8 0 8 2 19 0-6 0 6 0 2 0 1 2-43 0 44 1-45 0 39 1-21 0 31 0-38 2-3 0 26 0-21 0 4 1 20 0-37 0 49 1-13 1-31 0 7 1 20 0 14 0-50 1 25 2-19 0-5 0 2 0 20 1 13 0-8 1 14 2-20 0 18 0-32 0 34 0-34 0 32 1-32 1 28 1-32 0-1 2 1 0 11 0 26 0-39 0 44 2-25 1-6 0 12 0-22 1 16 1-22 0 59 0-12 1-17 1 25 3-22 1-3 0 7 1-26 1-3 2 35 1 6 1-29 1 0 0-17 1 49 0 2 4-44 1 9 0-15 5 30 5-12 2-10 3 42 0-22 1-21 0 35 2-20 4 3 0-10 4-7 1 22 1-17 1-4 1 23 2-11 2-5 1 1 0-11 0-6 2 3 5 48 3-14 1-40 2 52 0-26 1 3 0 15 5 9 0-52 1 55 3-10 0-18 2 24 0-4 1-19 1 14 0-15 0-15 2 13 0-8 2 1 1-14 1 30 1-16 1 15 2-31 5 24 1-2 0-23 0 16 7 18 1-15 0 28 2 5 3-4 1-34 4 19 0 11 1-23 0-2 1-1 5 21 5 6 2 7 1-34 0 28 2-41 3 2 5-2 0 38 0-45 2 27 0 9 6-31 6 24 3-6 2-6 1 33 0-49 2 10 3-3 5 6 2 19 1 8 2-23 0 37 4-22 1 17 3-48 1 40 2-8 2 10 5-36 2 39 5-37 3 27 0-36 2 39 1-6 5 22 0-39 0-10 1 13 6 18 1-16 0-16 0-5 5 3 6 14 4 24 1-13 1-23 0 19 6-2 2 28 0-49 3 37 0 10 1-29 0 37 1-14 2-40 0 9 0 0 1 41 2-11 13 6 1-43 0 42 2-4 1-4 8-2 3-37 2 56 1-26 3 23 0-22 1 25 4-29 2-19 2 26 2-20 5-14 1 44 1-35 4-10 1 1 2 27 4 24 2 3 2-2 2-6 8-18 7-24 1 41 2 1 2-24 13 14 2 8 6-26 5 14 0-6 2 26 5-37 1 29 1-18 2 2 4-25 4 27 1 3 3 8 0-22 0 2 2-13 1 20 7 18 1 10 8-41 5 3 0 25 3-23 13-3 8-2 0 15 14-3 2 11 2-37 17 13 1-4 1 1 4 42 5-17 14-5 9 18 2-29 15-6 2-8 3 14 3-21 11 4 5 33 16-35 4 50 1-2 2-23 5-12 2-7 10 27 10-10 16 9 1-18 6 3 13 13 18 16 1-27 4 5 3 27 10-13 6-1 2 2 16-24 1 14 2-7 6-3 3-4 5-12 13-4 13 16 4 30 11-30 0 13 4-1 11 13 11-38 11-1 7 23 7-17 7-5 3 34 2 17 23-54 12 13 24 31 22-44 5 38 15-21 5 20 30-7 3-7 35 0 3 1 46-18 83 13 4-3 5-9 22-6 59 38 10-36 104 7 242 8 11-18 25 47 80-4 22-33 6 38 21-20 20-23 38 1 27 37 36-44 33 15 8 85-70 16-252-24-113-1-38 20-195-37-4 6-49-6-83 3-87-5-49-10-120 16-40 4-96 5-2 8-8-26-15 40-7 2-16-6-43-2-6-31-31-8-2 40-4 11-10-20-9-32-1-1-1 8-6-2-11 3-43 6-22 14-7-15-14-14-12 51-38-35-4 25-9-28-1 0-3-4-24 6-3 13-6-8 0-3-5 4-10 19-11 10-3-14-1-3-12-17-1-6-5 14-12 18-17-39-1 9-1 29 0 11-6-37 0-10-2-2-4-5 0 6-3 12-7-1-1-1-13 2-6-15-5 15-1 18-1-32-6 39-1-28-3 43-2-46-6 7-3-11-6-8-1 35-1-26-1-8-13 17 0 21 0 20-5-27-1-18-2 7-2-13-9 27-1-6-2 2-10 1-1-9-2-3 0 36-5-8-1-16-4 18-4-10-5 18 0-57-2 41-1-26-8-2-1 41-2-19-4 22-2-33-2-23-1 16-6 2-2-8-1 1-3 22-1 5-6 10 0-33-9 29-5-25-1 13-1 23-2-23-7 18 0-7-2-19-4 9-2-1 0 0-2-21 0 29-1-11 0-11-1-11 0-2-3 20 0 2 0 16 0-15-1-11-1 15-3-9-5 21-1-26-6-10-1-4-2 33 0-5-3-16-4-14 0 8-2 39-1-31-1 26 0 4-1 5-1-1 0-43 0 7-1 6 0 6-2 20-3-26 0-20-1 9 0 19 0-24 0 32-2-40 0 15 0 32-1-1 0-6-1-18-1-15 0 35-1-35-1-4 0 27-1 11 0 18-1-8-1-32-1 31-1-45 0 22-1-22 0 43-1-38 0 28 0 3 0 2-1 6 0-5 0-29 0 17-1 9 0 4-1-28 0 0-1-9 0 31-1-14-1-1-1-19 0 42 0-10-2-18-2 39 0-15-1-5 0 20 0-10 0-34 0-4-1 32 0-41 0 46-1-33 0 34 0-31 0-9-1 24-1-22 0 18-1 0 0-26-1 4 0 26-1-12 0-16 0 7-1 19 0 16 0-22 0-13-1 0 0-1-1 7 0 14 0 18 0-29 0-8-1-7 0 53-1-47 0 1 0 46 0-7-1-22 0-25 0 31 0-24 0 10-1 21 0-10 0-31 0 5 0 43-1-29-1-18 0 49 0-2 0 58 0-8 0-14 2-25 0 7 1 36 0-10 1 0 0 14 1-4 0-6 0 6 1-33 2 21 1 17 1-46 0 48 0-19 1-31 0 3 1 49 1-13 0-19 1 35 1-10 0-41 1 17 0-17 1 8 1-9 0 13 0-16 1 49 0-2 0-25 1 3 0-22 0 34 1-10 0-22 1 16 1 32 3-25 0-5 1 8 0-27 2 16 1 32 2-13 2-8 1-31 1 38 0 7 1-10 0-2 1-21 2 1 0 43 1-38 2-11 0 42 1 10 1-35 0 28 1-45 0 7 1 39 0-47 2 36 1-23 0 30 3-39 2 2 11-4 2-8 11 34 0-21 3 6 1 19 9 16 7-18 6 1 0-12 2-25 2 48 10-39 25 49 5-42 3 32 3 10 2-15 2 6 4-4 3-20 2-23 11 7 8 14 16-8 17-14 2 29 5-9 10 4 6-16 20 16 10-16 6 38 3 6 2-37 12 9 3 30 6-11 7-21 29 32 7-44 1 5 16 34 3-35 13 28 21-32 17-4 16-5 20 1 6 0 60 4 37 22 9-19 36-6 0 5 143 8 386 26 242-26 141 11 6 22 8-20 31-1 10 8 115-4 1-8 150-22-261 94-14 7-47-39-111 7-213 11-16 2-92 30-51-19-16-17-30-19-8 56-38-14-23 16-104-47-92 45-18 2-93-32-75-22-55 12-143 20-48-28-8-3-36 9-6-9-1 1-25 3-63-1-3 14-1 27-29-46-20 15-6-13-7 40-15 2-3-32-4-9-1 1-6 14 0 7-6-5-2 23 0-20-2-11-3 0 0 44 0-31-3 26-1-44-4 46-1-56-3 49-3-11-3-36-2 12-6-12-2 2-1-2 0 29-1 1-2 18-1-49-2 54-1-43 0 26-4-3 1 28 3 41 2-9 9-6 1-23 10 49 8-26 7-23 5 7 62 14 4-22 6-3 69 8 7 0 16 13 122 25 4-45 14 4 11-3 93 20 181 26 312-39 494 68-190-13-475 22-73-27-178 51-58-52-84 43-65-22-4 0-115 16-26 22-4-35-115-16-8 29-2-14-8 15-17-5-3-25-13 104 10-1 3 6 5-38 5-18 5 26 154-20 24 34 10 12 205-48 72 3 171 1-129 61-41 20-126 0-158 20-3-1-77-26-70 20-2-28-21-7-25 40 275 31 320-13-359 296"/></g></g>
<line x1="89.2" y1="154.3" x2="302.84" y2="51.08" stroke="#000" stroke-width="1.1" stroke-dasharray="3.38 1.46"/>
<rect x="78.85" y="43.35" width="234.65" height="169.1" fill="none" stroke="#444" stroke-width="0.7"/>
<path d="M89.2 212.45v2.7M124.39 212.45v2.7M159.57 212.45v2.7M194.76 212.45v2.7M229.94 212.45v2.7M265.13 212.45v2.7M300.31 212.45v2.7M78.85 188.3h-2.7M78.85 154.3h-2.7M78.85 120.3h-2.7M78.85 86.3h-2.7M78.85 52.3h-2.7" stroke="#000" stroke-width="0.73"/>
<text x="89.2" y="223.65" font-size="9.5" text-anchor="middle" textLength="5.55" lengthAdjust="spacingAndGlyphs">0</text>
<text x="124.39" y="223.65" font-size="9.5" text-anchor="middle" textLength="16.64" lengthAdjust="spacingAndGlyphs">500</text>
<text x="159.57" y="223.65" font-size="9.5" text-anchor="middle" textLength="22.19" lengthAdjust="spacingAndGlyphs">1000</text>
<text x="194.76" y="223.65" font-size="9.5" text-anchor="middle" textLength="22.19" lengthAdjust="spacingAndGlyphs">1500</text>
<text x="229.94" y="223.65" font-size="9.5" text-anchor="middle" textLength="22.19" lengthAdjust="spacingAndGlyphs">2000</text>
<text x="265.13" y="223.65" font-size="9.5" text-anchor="middle" textLength="22.19" lengthAdjust="spacingAndGlyphs">2500</text>
<text x="300.31" y="223.65" font-size="9.5" text-anchor="middle" textLength="22.19" lengthAdjust="spacingAndGlyphs">3000</text>
<text x="72.85" y="191.7" font-size="9.5" text-anchor="end" textLength="29.5" lengthAdjust="spacingAndGlyphs">−1000</text>
<text x="72.85" y="157.7" font-size="9.5" text-anchor="end" textLength="5.55" lengthAdjust="spacingAndGlyphs">0</text>
<text x="72.85" y="123.7" font-size="9.5" text-anchor="end" textLength="22.19" lengthAdjust="spacingAndGlyphs">1000</text>
<text x="72.85" y="89.7" font-size="9.5" text-anchor="end" textLength="22.19" lengthAdjust="spacingAndGlyphs">2000</text>
<text x="72.85" y="55.7" font-size="9.5" text-anchor="end" textLength="22.19" lengthAdjust="spacingAndGlyphs">3000</text>
<text x="196.18" y="39.05" font-size="11.4" text-anchor="middle" textLength="207.38" lengthAdjust="spacingAndGlyphs">Transformer: Predicted vs Real (Train)</text>
<text x="196.18" y="235.85" font-size="9.5" text-anchor="middle" textLength="125.87" lengthAdjust="spacingAndGlyphs">Real Generated Power (kW)</text>
<text x="38" y="127.9" font-size="9.5" text-anchor="middle" textLength="149.05" lengthAdjust="spacingAndGlyphs" transform="rotate(-90 38 127.9)">Predicted Generated Power (kW)</text>
<text x="187.3" y="269.6" font-size="21.6" text-anchor="middle" fill="#000" style="fill:#000;stroke:none">(a)</text>
<clipPath id="cb"><rect x="412.5" y="43.35" width="240.7" height="169.1"/></clipPath>
<g class="sc" clip-path="url(#cb)"><g transform="scale(.1)"><path d="m5090 817 310 11 30-40 55 34 1-37 10 20 126-13 117-2 12 31 15-24 5 20 9-29 17 10 1 11 34-2 2 18 37-12 0-2 13-28 16 19 3-29 25 42 9-29 3 21 0-4 23-12 24-17 10 3 3 16 11 24 2-41 6 36 0-27 31 31 14-19 6 15 1 4 20-8 7 11 4-49 13 54 34 2 3-3 6 1 58-30 10-13 51 14 40 0 12 28 15-9 44 75-24-2-92-41-1 25-1 5-12-29 0 22-22-12-5 23-16-17-13-1-3 25-3-2-1-7-3 8-3-8-2-11-9-25-1 11-1 24-1 0-9-12-2-4 0-25-1 31-14 10-6-1-9-26-13 37-2-8-8-44-10 35 0-34-13 27-2 21-12-30-2 24-3-7-5-15-6 22-22 6-6 1-2-9-15-26-6-14-2 41-6-28-3 40-7-28-13 18-6 6-1-32-8 35-13-11-3 7-2-8-15-39-22 24-24 15-6-26-7-5-6 19-10-16-9-9-9 4-1 1-3 38-11 5 0-25-4 16-2-36-13 12-3 12-10-9-22-4-20-4-5 15-16-1-10 8-14-24-2-9-10 22-17-26-68 7-8 10-2 20-20-41-62 10-18-6-16 50-15-2-15-41-54 15-10 3-45 22-90-11-80-5-192-2-33-11-53 34-30-20-78-17-2-10-98 29-283 75 54 1 44-13 189 10 24-45 221-2 327 29 141 19 1-12 47 1 18 6 13 9 2-48 1 27 30 7 9 8 8-42 48 22 15 19 13-12 12-33 9 48 19-30 24 31 4-25 26-16 4 47 8-7 12-5 3-15 4 14 9-15 24 7 8-27 14 3 33 0 12 29 7-29 4 18 2-24 4 31 1-29 0 43 3-2 0-37 23 7 10 29 1-21 10 1 3-8 1-2 1 9 3-23 13 17 0 32 9-5 1-43 2 29 3 14 1-48 5 19 27 11 2-28 1 10 4 1 4 9 6 28 3-28 1 32 0-21 11-23 1 16 3 24 4 5 3-3 9-20 1-3 0 12 2 9 10-33 1 15 2 24 3-22 8-10 1 28 2-10 9-31 2 8 5 2 3 30 2-48 2 18 1 1 1-9 9 34 6-29 2 20 2 1 9 15 2-43 0 28 1-2 2 10 4-40 7 22 12 20 4 0 2-30 13 3 14 8 1-31 4 44 6-3 1 14 6-27 2-16 12 12 3 5 2 7 0-6 1 28 6-56 1 14 8 1 2 35 3-23 2 21 2-39 14 28 6 7 3 8 27 0 2-33 7 6 11 20 0-40 10 21 3 28 0-54 23 30 13-9 20 4 4-10-2 56-8 28 0 11 0-23-5 16-12 7-2-7-4-3-1-10-5-14-1 38-4-37-2 2-8 33-10-4-10 6-10-17-7 2-2-26-1 0-8 14-1-27-17 54-12-24-1-31-1 42-5-35-5 39-1 3-7-27-2 22-4 13 0-42-8-14-4 20-1-7 0-8-3 15-3 18 0-31-1 12-9-20-8 12-8 43-2-51-4-1-2 31-10-8-3 4-2 5-5-3-2 20 0-40-3 24-2-13-1 16 0-10-4 19-5-7-1-33-6 25-2-12-1 5-7-28-1 42-2-27-1-5 0 2-4 27-1-28 0 13-4-18-2 34-5-30-3 4-2 14-4-22-1 1-2 50 0-42-3-9-1 11-5 21-1-1 0 18-1-22-2-28-1 43-1 6-1-44-1 13-1 4-1 3 0 12-2-27-10 11 0-13-4 43-2 1-11-4-6-12-11-13-6 27 0-45-7 30-1-11-6-28-4 16-15 12-1-5-3 26-9 1-1-5-1 2-2-10 0 7-7 14-6-16-1 14-4-38-1 40-7-36-1 16-2 3-8-9-1 9-4-10-1 27-2-30-3 9-6 15-1 5-6-25-1-3-17 27-9-42-6 43-1-33-6 6-5-21-1 46 0-6-1-45-4 54-7-18-4-35-7 53-4-1-11-2-2 2-2-30-1 1-11 4-2 7-6-20-4 35-2-52-1 47-1-34 0 39 0-31-6-22-9 25-2-23-2 31-7-31-2 27-2-14-6 32-8-43-6 15-5 6-7-8-8 38-4-7-8-24-8-22-9 23-15 20-1-22-1 26-6-1-4-3-41 4 0-19-3 8-2 1-8-32-15 30-2 10-6-8-1-13-1-20-4 16-11 24-7-32-12-3-1 3-34 39-6-22-8-33-17 49-6 0-5-44-8 23-14 12-7 1-41-38-21 38-39 14-45-13-9-32-10 42-9-50-6 23-11 8 0-12-33-1-14 18-29 7-48-30-8 40-6-26-70 14-1-39-1 25-50 0-48-4-51-23-90 27-291-11-14 7-50 22-18 6-28 41 23 7 28-36 44 2 476 1 18 34 4 11 40-52 95 48 33-29 134 36 3-25 9-7 25 26 6 7 5-50 16 29 9 3 7-17 1 9 1-30 1 50 10-5 7-10 0-25 20 17 2 11 5 8 38-45 23 48 9-48 4 33 6 2 4 12 0-21 4 8 21-3 0-3 5-12 4 9 8 26 25-50 10 48 3-6 1-16 2 23 5-43 1 15 12-16 7-6 5 14 1 31 6-9 0 2 1-1 8-21 1 37 9-2 40-38 1 42 0-14 0-39 3 5 6 49 8-39 9 14 1-3 5-22 1 4 2 27 4 15 3 1 1-32 0-3 12 8 0 29 4-30 0-21 3 51 9-39 3-7 4 10 2-20 2 8 3 21 4-12 1-17 2 51 1-34 6 40 5-36 4 16 3-11 4 18 1-7 1-5 0-31 2 50 1 2 4-46 3 15 2 28 2-32 2 31 1-23 2-27 2 5 5 35 11-34 4 6 2 4 0-10 0 26 5 11 9-40 1 2 6 6 3 41 1-15 1-4 0-20 2 24 3-26 1 32 11-36 9 40 1-35 2 23 3-35 0 3 2 19 0-15 3 19 6-12 0 17 9-7 0 8 0-18 1 30 2-4 14 14 0-33 3-8 2 29 2-5 1-36 1 14 2-8 1 27 1-19 3 6 3 36 0-16 1 12 0-4 3-11 1-34 2 50 4-22 0 6 1-13 2-12 5 36 4-40 1 2 0 13 1-3 16 22 2 10 2-52 7 16 4 15 1 8 0-25 0-8 3 42 5 1 3-37 3 41 1-52 2 8 3-2 1 49 10-23 12-28 0 3 1 32 4-2 1 19 1-55 6 20 9 33 2-16 1-37 1-2 0 55 1-42 3 24 1-27 7 28 1-7 3 27 2-13 9-44 1 54 5-32 4 4 2-27 3 12 5 40 5-4 6-25 0-20 3 54 1-46 3 17 1 22 2-49 2 2 6 12 3-14 3 6 0-6 2 31 1-23 1 11 1 11 5 24 3-49 1 11 6-16 4 49 25-10 7 12 8-32 4 26 0-35 2 47 2-13 9-43 1 37 4-29 4-3 1 28 20-29 5 13 7 19 2-28 5-7 0 27 6 27 15-31 8-9 6 19 11-11 4-15 98 91-132-36-12 12-1 23-18 15-22-52-11 28-1-15 0 13-1-7 0-3-15 29-10-20-5 30-7-57-7 5-2 41-5-41-9 12-2-6-5 3-8 2-2 12-19-11-2 8 0-24-9 7-4 16-2-22-5 26-2-21 0 44 0-27-6 19-1 0-1-3-1-9 0 22-3-51-1 13-14-15-1 26-6-6-4-13-2 32-1-39 0 18-4 17-4-35-5 16-2 34-2-3-3-40-9 14-4 10-11-6-4-13-2-8-1 15-5 16 0-2-2 5-3-32-2 46-1-45 0 42-2-20-5 27-11-38-1-7-4-8-2 19-8 29-3-32-14 31-6-41-16 17-2-24-3 53-7-54 0 18-2 13-2-31-3 15-7 8-1 1-8-22-2 38-1-35-1 13 0-1-2-12-1 11-8 31 0-31-8-17-2-1-2 45-4-4 0-15-3-13-2 37 0 3-8-54-1 6-11 2-1 14 0-13-1 6 0 11-5 10-13-8-5 14-10-2-3-8-3 11-4-32-2 19-5-7-1 17 0 4 0-21-4 9-2 25 0-39-1 8-5-9-2 13-4 18-4-33-2 44-4-9-3 1-1-13-1 7-3-13-3 17-2-48-5 31-3-24-3 8-1 14 0-14-3 28-1-32-6-5-2 15-10-6-3 37-1-39-1 19-19 6-3 4-1-29 0 43-1-57-2 15-1 42-1 2 0-15-1-8-5-35-1 58-4-20-2-3-6-22-1-11-1 4-2-2-5 3 0 38-2-30-3 34-1-45-2 14-2 33-3-29-9 18-7-23 0 17-10 12-9-45-2 57-7-41-16-2-2 3-4 14 0 24-12-46-2 18-1-19-15 13-12 32-3-30-12-5-11 27-1 11-4-29 0-22 0 25-4 2-1-24-1 13-5 13-2-20-30 2-8-13-3 53 0-9-5 10-9-11-8-29-1 15-18 20-4 1-6-26-3-16-4 23-17-9-44 19-7-38-1 47-23-33-3 31-8-14-29 14-7-33-20 24-1-8-42-11-4-9-14 5-51 27-18-23-50 24-36-25-3 22-53-7-46 11-4-21-3-17-9 6-2 26-4-22-39 25-4-19-17 22-20-15-27 1-25 16 0-31-26 34-11-1-64-44-67 38-10-33-11 31-35-24-34 26-37-18-13-17-2-12-3 56-86-6-18 47 11-27 44 48 62-7 55-42 15 31 6-37 9 12 12 29 31 3 49-40 6 42 32-3 73 2 7-19 0-8 6 33 55-27 48-24 2 29 72-10 16 14 14 3 6 15 3-20 47-35 0 6 12 30 1-30 22 21 10 24 29-19 1 22 6-39 2 24 9 13 1-3 6-10 8 18 5-20 3 2 26 11 9-22 7-9 9-14 7 6 19-9 4 40 2-38 12 4 6 28 17-18 5 30 5-24 11-20 18 35 8 0 4-11 13-20 2 9 10 20 0-8 11-22 0 7 9 4 1 32 1-38 2 46 1-14 2 14 0-46 2 18 3 2 24-24 0 30 2-17 1 1 1-21 3 21 2 14 3 10 2-14 9 27 7-2 6-10 8-26 11 20 9-36 1 26 3 4 5 11 2-19 3 6 4 12 2-41 13 50 20 1 13-33 1 0 2 13 17-27 2 31 1-3 3 12 9-44 1 44 13 11 0-13 6-24 0 14 2-33 2-1 1 23 2-4 4 23 1-11 0-18 0 17 6-26 1 37 3-6 3-18 2 38 1-1 2-11 8-9 1 4 2 10 14-27 10 1 4 20 0-30 3 19 7 18 5-8 14-30 5 2 0 3 1 25 2-31 1 44 2-32 5-12 1-8 2 27 1-25 2 42 1-41 9 22 9-24 2-3 2 57 7-22 13-31 7 45 10 3 5-37 5 42 7-36 5-23 6 30 5 8 1-24 21 27 4-40 0 43 1 4 3-12 10 22 2-48 6 38 3-9 2-32 15 39 4-45 5 13 5-6 3 14 7 32 1-22 2-9 11-23 1 22 8 13 1 19 0-19 0-27 13 42 16-35 8 17 3-5 16 18 1-41 0 32 11-13 6-7 0 41 0-7 9-35 14 44 1-51 2 6 2 24 13-31 17 9 12-2 11 7 5 28 3-41 1 0 19-3 4 4 22-4 3 3 2 13 11-16 1 18 19 16 30-1 8 1 8 3 26-37 15 7 31 11 3-7 48-4 1 28 4 67-110-40-3 20-31 3-14 5-7-33-12 15-29 22-21-10-3 13-23-34-59 31-1-35-63 40-3-24-9-17-13 24 0 10-13-20-4 5-27 19-1-36-1 6-1 27-4-16-29 20-2-15-15-16-11 40-2-47-9 50-2-52-6 17-2-3-4 22-3 11-12-15 0 8-1-11-18-18-9 2-4 22-3 7-1-43-2 31-8-26-3 28-4 16-9-30-2 10-1-7-21-11-1 8-3-11-6 29-2-5-3-9-5-22-1 53-3-37-3 27-9-36-2 3 0 29-2-10-5-9-4 8-11 16-5-29 0 38-4-31 0-15-5 22-14 6-11 11-1-25-7-20-15-2 0 25-1-25-4 27-6-22-1 7 0 45-4-44-1 22-4 16-5-1-4-6-20-25 0 17-8-34-9 50-12-30-7-9-6 21 0-10-2-15-23 10-2 32-2-16-8-22 0-11-2 22-2 6-4-7-2-5-4 30-6-9-6-1-3-29 0 13 0 11 0 20-3-24-3 8-3 3-6-8-3-21-5 32-1-12-4-13-2 3-1 21-1-23-5-10-2 6-3-15-3 6-4 14-9 22 0-34-1 45-1-20-3 19-5-25-9 6-6-34-1 3-6 14-7 26-3-3 0 11-12-42-3 32-5-14-3 1-6 20-7-37 0 21-10-24-1 51-7-46-5 1-16 2-5 24-16 18-8-39-8 39-2-20-12-13-1-9-5 35-1-12-1 20-11-14-21-22-5 36-8-39-5 3-6 14-6-23-3 25-2 14-3-49-4 52-10-47-4 24-7 14-1-4-2 0-1 12-7 2-2-1-7-24-2 7-4-4-11-13-5 7-2 17-3-17-2 5 0 14-9-18-5 28-15-46-15-2-12 15-1 11-1 14-8 4-7-23-14 13-7-17-1 30-11-22-10-31-4 1-10 18-8-21-22 23-7-18-2 31-18 7-2-12-5 25-9-6-7-14-6-3-10-33-6 42-14-18-10-6-17 32 0-52-8 46-14-33-1 4-31 9-2 31-9-49-10 18-7 29-6-43-2 26-1-15-6-12-3 45-6-36-5 17-12 20-2-18-12 13-22-44-14 20-10-1-2 1-6 29-20-49-19 28-3-28-1 37-19-12-14-4-17 9-25 16-3-50-11 45-9-3-26 12-14-44-86 99 25-9 3 3 29-17 9-12 1 5 6-22 6 50 1 6 14-31 18 27 7-23 1-25 1 36 8-3 6-3 11 11 11-16 2 2 7 8 2 2 2 9 3-1 0-16 1-20 1 9 7 18 9 17 9-32 6-22 3 52 9-25 9 6 6-12 3 18 0-41 12 37 0-15 7 19 1 13 11-30 13 12 11-32 0 28 1 0 3-16 10-18 2 10 0 48 0-31 5-26 29 19 4 16 6 21 0-30 9-15 4 41 14-35 6 3 5 30 0-6 1-33 11 40 6 6 5-40 1 40 14-51 16 43 9-24 2-2 6 5 23-13 4 41 4-55 20 22 1 5 4-24 2 6 4 24 7 20 15 4 1-58 10 6 2 28 12 11 27-30 1 16 7-17 14-2 7 30 32-28 14 6 8-4 24-14 8 43 4-44 18 49 7-38 3 0 4 23 14-8 0 14 0-13 1 11 4-32 0 50 4-58 5 10 2 11 8 19 2-27 6-6 0 3 24 4 1 6 4-3 1 22 4-12 24 21 3 6 3-49 1 18 15 6 6-22 3 30 3-3 10 11 2-36 7 49 1-33 6 25 6-34 3-11 3 20 1-2 13 10 20 0 1 24 9-11 0-43 2 53 7-4 5-4 1 0 1-22 2-4 1 20 6 11 6-5 8-41 1-7 3 7 6 51 0-12 8 4 9 8 1-35 2 13 7 13 1-47 14 12 2 13 6-9 1 22 3-34 10 50 5-2 5-4 1-1 19-29 11-1 4 5 17 16 8-32 0-6 2 21 3-8 1 14 1 9 1-11 5 6 3 21 4-30 1 9 2-10 3-6 12 5 1 15 2-16 1 11 3 6 13 7 1-16 6 9 4-1 11-29 5-7 6 9 10-7 11 10 7 26 15-27 5 24 2-28 0 0 1 25 1 1 2-29 1 44 1-5 7-13 11 4 7-20 0 23 2 10 5-4 6-10 0-27 4 45 8-8 1-34 18 49 9-20 19 18 3-6 2-46 4 10 3-1 1-6 15 27 6-9 27 11 0 11 1 11 10-16 4-25 2-8 21 10 56 3 24 7 8-25 13 21 10-4 1-12 63 8 19 14 3-12 57 7 18 26 17-39 6-8 8 51 30-25 25 9 92-12 72-11 38-15 26 103-74-35-24 5-81 36-7-33-2 19-70-27-54 23-31 3-11-13-74 4-32-26-58 13-17 31-93 6-2-41-27 38-10-37-1 24-13-16-19-10-1 14-3 25-17-28-1-15-10 7 0-10-3 27 0-19-11 12-3 29-8-39-1 6-5 3-4 16-3-18-16 22 0-14-4-1-10-1-2 2-7 30-1-53-16 27-5-12-14-3-4-11-2 14-4-14-4 37-4-36-2 11-1 16-2-15-3 27-9-4-5-41-1 0 0 51-8-39 0-8-4 2-17 14-19 2-1 14-6 22-10-50-19 44-13-34-3-2-4 35-3-20-7 9-4-41-5 10-10 28-24-7-2 4-16 19-3-10-2-31-1 7-6 21-14-31-16-10 0 23-5 34-3-5-10-32-6 14-2 24-5-39-3 25-11-10-4-22 0 45-5-21 0 2-4 1 0-23-3 29-2-18-3-13-1 20-10 14-5-8-10-28-8 4-2 37-4-50 0 17-2 4-6-9-11 9-1-14-7-10 0 17 0 31-9 3-1-18-3-8-4-6 0-16-1 45-7-26-10 22-2-2-2 5-1-42-2 11-4 34-3-42-5 9-1 23-3 11-4-23-1 26-3-11-4-10-1 3-5 23-1-17-4-15-5 21-9 11 0-54-6 16-5-2-10 33-2-23-2 10-5 16-5-54-12 58-6-12-1-29-5 11-6-28-17 37-4-21-10-8-2 41-18-44-11-4-3 3-3 42-3-35-2 8-3 9-2-12-5-5-2 7-5 27-7-27-1 34-10-45-1-2-1 33-2 20-19-5-7 1-5-2-3-49-4-1-5 44-3-25-5 25-1-12-2 11-1-9 0-11-5-12-1 34-5-20-3 16-4-31-10-6-1 23-2-22-3 42-6-7-1-39-1 34-1-35-2 29-3-21-7-1-2 21-5-21-1 35-1 0-1-40-4 22-5 11-1 7 0-44-3 51 0 5-3-31-5 23-1-31-10-10-8-4 0 44-7-17-2 22-7-34-2-4-9-3-4-3-2-9 0 1-3 50-5-12 0-31-1 50 0-48-3 30 0-15-6-7-5 11-1 15-1-29-5 23-9-26-4 23-3-5 0-20-9 36-1 2-7-37-4 2 0 25-7-27-1 1-1 34-1-6-6 6-11 10-1 1-3-4-14-50-1 11-5 42-7-40-1 41-1-56-4 26-20 8-6 10 0-37-14-2-2 18-3-13-5 47-1-41-6-8-10 30-8-11-7 8-2-20-3 12-3 23-3-42-10 1-4 14-6 19-2-12-3 28-6-48-9-8-4 13-5 26-2-23-15 12-8 16-4-17-5 7-12-8 0-10-1 29-8-46-18 31 0 17-1-28-18 25-2 9 0-8-5-2-6 10-13-1-12-44-3 16-15 3-3 1-4 19-3-17-10 22-4 44 0-21 0-9 1 30 0-26 2 17 2-10 0 14 2 17 2 4 0-39 1 11 1-20 2 9 0 25 0 10 1-13 4-37 2 37 0-11 1 23 1-22 1 23 1 3 0-28 1 18 1-43 3 54 0-11 3 12 0-6 4-47 12 42 2-38 4 1 1 47 1 4 5-42 12 36 5-22 1 19 1 8 6-9 0-35 13 20 6 0 5-15 5 28 1-28 10-10 0 30 4 12 0-30 3 3 1 17 9-11 2-7 1 23 3 8 1 3 2 2 2-29 0-16 7 11 1 23 4-17 7 14 16-30 2 16 1-30 7 2 6 48 2-32 5-10 3 9 0 36 1-34 5 4 5 35 1-49 2 23 0-15 4 9 1 5 7 23 6-50 5 43 1 3 17-21 0 20 3-41 0 39 3 5 2 2 4-20 7 9 3-19 3 2 6 23 6-46 5 41 6-38 1 7 1 0 5 6 2-18 2 31 6-16 6 42 2-25 1-33 21 15 4 8 0 32 6-21 1 10 3 6 6 8 21-55 8 42 9-3 3-20 0-21 4 10 4-3 14 37 2-45 1 19 12 22 1 7 8 1 6-8 9-4 7 15 7-25 1-17 13 36 5-13 1-4 4 1 0 11 2-12 7-23 26-4 0 51 8-16 2-18 6 36 2-1 3 1 7-21 1-32 0 8 1-4 1 39 0-25 3 1 4 14 7-20 0 11 3-17 7 27 1-27 2 1 13 41 0 3 4-9 17 3 3-22 8 31 1-1 5-32 5 16 5 15 8-5 3-29 4 28 6-23 6-9 4-13 15 6 9 7 1 4 8-17 9 11 2-10 2 37 1-17 2 10 4-29 0 7 3 1 8 29 10-12 1-12 15 33 1-47 27 28 3-26 0 51 0-23 2 10 2-10 0 5 14 0 4-13 1-13 5 0 2 12 9 25 2-49 16 28 10-16 2 1 4-15 6 19 4 4 1-14 2 26 15 6 4-42 5 47 10-45 9 9 2 5 1 39 10-52 6 50 0-36 7 22 8-2 0-24 4 6 18 27 7-32 2-14 3 9 11 50 10-45 12 7 13 5 10-16 9-5 1 46 3-18 3-18 1-8 0 23 4-5 0 4 2 29 2-54 3 23 6 25 5-5 5-46 30 18 0 38 7-19 6 20 0-35 4-16 1 18 25-3 1 6 3-11 3 9 7 9 0 22 2-57 3 2 6 2 4 5 1-8 1 53 3-3 14 1 10-38 7 37 23-45 31-6 9 8 9 17 13 23 20-19 8 5 9 23 20-55 18 23 9 11 0 2 10-34 6 36 16 18 106-17 6 0 21-39 83 20 62 30 64-38 32-12 48 34 35 14 56 30-138 30-43-3-22 6-71-45-22 7-124 21-18 2-2-13-1 6-1 3-19-19-32 14-13 8-24 19-9-51-10 30-3-7-10-25 0 31-33-22-29 20-51-7-18 2 0 1-3 31-40-45-1 15-5 17-5-29-13-5-16 28-4 1-16-18-6 11-13-29-15-3-2 22-7 14-47 0 0-37-3 33-3 25-6-37-2-11-23-9-19 17-3 12-19 0-13-12-10 10-5-17-16 9-19-15-2 19-3-18-3 15-2 10-1-18-1 40-29-2-1-33-4 40-21-9-2-35-8 18-11-3-13 19-9-20-12-22-15 36-3-40-6 12-5 20-1-30-9 43-14-10-4 0 0-1-7-25-1 25-17-34-6 19-13 1-14 25-14-39-9 49-10-47-4 3-5-2-4-11-7 12-6 33-1-3-5 4-8-31-3 20-1 20-5-52-2-4-5 13-9 31 0-9-5-28-3 40-1-30-40-3-21-6-15 42-4-37-23 5-8 36-17-16-1-35-1-2-1 3 0 13-3-6-2 10-6 9 0-7-8-5-8 36-1-41-15 37-3-39-7 15-8-15-3 4-6-7 0 2-2 9 0 39-12-34-1-1-4-17-1 12-2 30-3-8-2 11-1-48-1 55-2-50-6 26-6-34-5 27-4-4-2-14-1-2-3 12-5 12-8-6-8-15-3 14-5-12-13 21-1 5-2-17-1 31-1-28-1-1-3 36 0-55-1 48-3-5-15 0 0 12 0-48-8 3 0 12-1-3-5-18-5 37-3-2-2-27-1 42 0-29 0 17-1 12 0-37-7 12 0-26-7 36-1-36-8 18-1 13-1-32-1 49-4-10-1-6-3-32-6 53-8-3-1-45-1 47 0-15-6-17-6 30-6-21-2-2-4 8 0 15-3-23-2 27-3-36-5 37-6-19-1 14-1-11-2-25-3 3-1 33-2-2-3-8-2 0-10 1-3 3-1-15-6-14-2 36 0-41-10 20-9 23-2-4-2-9-1-29-1-10-3 43-5-34-7-11-5-1-4 48-4-26-1 19-1 8 0-41-3 13-1 14-9 9-1 3-2-3-6-8-2-18 0 7-1-8-1 19-1 8-3-41 0 8-1 17-4-26 0 26-1-15-1 44 0-12-1 10 0 1 0-18-3-25-2 8 0 34-1-1-1-51 0 51-1-33 0-22 0 27 0 30-1-44 0 30-1-38-1 51 0-25-2 15-1-44-1 31 0-2-1 18-1-26-1 21-1 14-1-35-1 15-2-34-1 27 0 19 0-39-2 33 0-1-1-17-2 12 0 8 0 8-2-19 0 52 1 6 0-33 1 35 1 12 0-2 0-37 0 10 1 7 0 10 2 21 1-37 0-19 1 55 1-43 1 31 0-32 2 5 1 26 3-21 0 31 1-26 0 0 1-6 0-5 0-4 1 26 0-29 1 25 0 9 1-20 0-5 0-2 1 28 0-13 0-11 2-15 0 11 0 24 0-17 2-21 1 10 0 17 0-12 1 9 1 6 1 27 1-59 0 2 3 54 1-31 2 34 0-49 2 42 1-2 2 4 0-3 1 8 1-14 1 2 0-19 1 7 1 19 0-13 1-18 0 0 5-17 1 10 2 38 2 2 2-14 4-24 6 40 6-39 3 38 1-13 2 3 3-23 1-13 8 30 0-27 5 28 0 15 3-34 0 0 10 8 4-1 3 27 1-50 7 37 0-18 2-3 3 4 3-11 2 17 1 3 3 14 1-19 1 16 3 8 1 4 7-26 3-24 1-4 3 25 1 28 17-17 1-4 12-8 4 3 1-30 2 46 3-26 3 26 2 9 2 1 1-18 0 7 4-38 3 12 0-20 2 15 2-2 1-11 2 50 5-16 4-1 1 15 0-6 2-42 3 17 1 16 0 22 3-36 3-17 4 40 0 8 4-23 7-18 4 18 4-18 0 6 2 20 2 8 1-2 3-16 3-6 4 1 2 5 4-22 12 15 2 24 1-34 2 33 4 9 5-26 2 12 5-14 1 15 5 18 6-30 4 1 3-18 1 1 8 13 4-17 2 41 8-28 2 34 3-37 1 11 4-10 3-7 6 31 6-10 5 9 0-1 0-14 9-25 3 47 7-21 4-17 9 36 9-27 1-13 2 46 1-25 2-18 0 29 26 8 5-47 11 12 4 15 5 12 0-16 0-20 2 12 1 2 6 34 2-49 7 51 25-46 9-6 24 3 15 48 72-18 2-19 0 44 1-23 0-32 1 27 2 18 4-38 4 28 24 13 10-51 3 43 4-19 13-6 9 6 5 18 1-38 6 16 1 11 11-22 12 41 3-27 1 11 21 2 7-29 4 24 4-9 6-21 13 12 23 39 9-5 1-39 12 49 3-27 14-19 35 24 6 8 41-30 9 45 9-52 36 31 7-5 3 13 6-3 42-18 13 31 39-13 1 1 19 2 27-35 69 41 13-15 9-28 21 8 23 30 78-36 11 6 20 34 9-39 7 8 58 15 2-21 10-10 63 46 33-48 19 10 105-10 26 29-202 53-89-24-1 30-26-28-8 27-87-4-45 11-21-14-45 6-18 4-15-14-51 37-1-51-13 14-10 9-3 14-97-38-3 55-187-20-6-32-62-2-16-4-8 23-1-11-1-2-2 34-6-34-22 24-3 0-55 21-7-3-70-29-18-22-4 21-8-8-12 6-14-13-9 46-12-2-1-27-35 26-5-13-5-33-20 10-19 7-3-1-17 16-18 23-7-35-2 16-4-4-19-5-2 5-14 8-8-23-4 22-10-28-24 39-5-30-3 33-20-44-1 38-1 8-2-49-9 39-15-28-9-14-7 14-3 36-11-10-12 7-3-23-2 25-2-26 0 28-6-53-5 4-2 26-2-35-8 24-4-6-3 2-1 39-1-38-9 7-1 13-5-29 0 20-5 26-2-50-1 37 0-38-10-5-4 27 0-27 0 6 0 28-5 10-3 2-6-32 0 43-2 0-1-54-1 0 0 50-10-14-4-13-1 26-1-49-1 38 0-16-3 0-2 26 0-29-2 24-4 4-1-1 0-22-2 2-3 5-2-12 0 17 0 4-1 3 0-12 0-13-1-4 0 15-1 6-1 19-1-55-1 5 0 7-1 14-3-7 0 21-1-13-1-30 0 5-1 2 0 19-2 1 0 3-2 16 0 9-1-20 0 9 0-17 0-8 0-5 0 14-1 12-3 17 0-40 0-2 0 28-1-12 0 17 0 7 0-52 0 21-1 2-1-5-1 30 0-27-2 17 0-21-3-12 0-7 0 48-2-43 0 26-1-26 0-6 0 47 0 5-1-3 0-11 0 11-1-50 0 54 0-7-1-24 0 4-1-24 0 24-2 30-1-5 0-19 0-27 0 8-1 13 0-13 0-7-1 38 0-15 0 12 0-21-1 37 0-56-1 11-1 1-1 7 0 11 0 4 0-4-2-8 0 19-2-27 0 33-1-10-1-6-2-27 0 36 0-20-1 51 0 30 0-24 1 26 0-10 0 21 1-35 0 28 0-44 1 26 0 24 0-15 0-7 1-33 1 53 0 6 1-32 0-25 1 22 0 10 0 19 0-15 1-25 0 4 0-5 1 3 0 17 1-13 1 30 1 0 0-25 0 30 0 5 1-8 1-11 1-3 1-35 0 27 0 21 1-16 0 3 1-35 0 28 0-29 0 11 0 20 1 14 0 4 1-8 0-18 1 21 0-2 1-22 1 1 0-9 1-7 1 1 1 29 0-5 1-17 0-11 0 11 1 4 0 17 1 18 1-45 0 47 0-53 1-1 0 31 0-2 1 25 0-28 0 15 1-25 0-13 2 55 2 0 1-31 0 18 1-2 0-6 0-27 0 6 0 39 1-50 2 43 1-41 0-7 0 43 1 11 2-31 0 9 0 24 0-8 0-7 1-25 1 13 1-13 0-9 8 8 1-16 1 54 1-6 2 2 1 6 2-32 6 35 1-19 1-10 0-5 3-21 0 16 1 29 0-42 0 33 1 0 5 12 1-46 2-3 2 24 1 27 6-20 6 2 3-8 3 29 4-19 2 9 0-34 4 3 1 43 3-46 1 2 10 35 3-40 14 41 4-12 2-10 1 26 9-5 2-46 14 26 2-25 4 7 14-12 0 10 4-5 2 2 3 39 1-25 3 11 0 6 7 0 2 1 1-24 19 21 2 11 9-2 25-18 29-7 12 8 9 7 8 8 6-31 22-4 4 4 7-2 17 6 5 39 15-29 42 22 67-35 25 44 31-43 11 23 7 12 12-46 16 14 38-12 73-3 235 44 32-21 54 13 4 15 88-50 3 50 31-30 127 3 43-19-284 57-255 10-22 31-56-17-2 20-115 5-40-15-41-36-5 36-42 16-32-36-32-14-11-4-7 43-49-37-25 5-23 20-11 28-3-56-11 44-22-14-6-32-7 53-12-18-7-2-8-14-4-2-2-14-12 28-4-25-4 25-25-17-2 6-25-17-7 4-2 51-25-11-3-14-5 24-1-4-12-16-1-6-4-23-3 27-2 4-3-32-1-5-2 49-6 6-2-19-1 19 0-47-1 14-1-15-1 12-4-14-2 15-1-20-1 7-2-4-2 51-2-35-1 9 0 16-2-15-4 17 0-33-2-14-2 3-1 25 0-12-2 16 0-21-1 25 0-15 0 4-1-9-1 4 0-5-1 16-1 16-1 8-1-28-2 19-1-43-1 18-1 31-1-43 0 20-1-29-1 20-2 21-3 13 0-33-2-17 0 8-1 16-1 25-1-1-2-27-1 24 0-29 0-16 0 53 0-38 0 2-1 28-1-10 0 7-1-30 0 23 0 3 0-16-2-27-1 9 0 18 0-20-1 22 1 44 0 16 1 21 0-46 0 16 1 0 0 33 1-5 2-1 1-23 0-25 4 36 1 18 1-35 1 17 0-25 2 11 0-14 0 47 1-51 0 38 1-38 1 34 1 20 1-17 1 6 4 5 0-3 1 9 1 0 1-5 2-35 0 31 2 9 1-45 3 18 1 18 0-8 0-4 1 15 1-30 0 1 1-19 5 19 2-4 1 35 0-8 6 0 1 8 1-49 0 30 1 10 3-35 1 9 3-7 2 43 8-32 5 34 10 2 2-35 3 5 4-22 13-3 7 22 36-12 6 45 51-33 78-19 8 52 22-34 9-18 40 31 154-34 126-1-357 78-8-4-54 7-109-21-13 53-22-20-1-32-7 24-13-13-3 1-3-14-3 53-3-9-5-23 0 22-3-4-1 1-3 17 0-9-4-19-4-26-1 14 0 15-1 14 0-18-5 6-1-1 0 4-1-6-1 23-9-31 0-21 0 49-1-6 0-37-1-6 0 11-2 4-1 12 0-14-2 26-1-22-5-16 0 23-1-23 3 62 1-4 0 35 0-15 0 23 2 4 0-42 1-8 0 19 1 31 2-26 2 32 1-51 6 0 0-5 3 49 10-48 9 1 0 16 3 8 9 21 2-38 8 26 3-2 30-30 21 39 19-34 9-8 21 36 7-12 26-14-86 73-17-21-28 11-1 27-11-25-4 4-16 39-8-10-9-13 0-28 0-3-1 45-8 1-5-1 0-44-1 50-3-54 2 104 5-29 2 15 3-19 4 34 6 0 6-31"/></g></g>
<line x1="423.12" y1="187.2" x2="642.27" y2="51.09" stroke="#000" stroke-width="1.1" stroke-dasharray="3.38 1.46"/>
<rect x="412.5" y="43.35" width="240.7" height="169.1" fill="none" stroke="#444" stroke-width="0.7"/>
<path d="M423.12 212.45v2.7M459.21 212.45v2.7M495.3 212.45v2.7M531.39 212.45v2.7M567.49 212.45v2.7M603.58 212.45v2.7M639.67 212.45v2.7M412.5 209.62h-2.7M412.5 187.2h-2.7M412.5 164.78h-2.7M412.5 142.37h-2.7M412.5 119.95h-2.7M412.5 97.53h-2.7M412.5 75.12h-2.7M412.5 52.7h-2.7" stroke="#000" stroke-width="0.73"/>
<text x="423.12" y="223.65" font-size="9.5" text-anchor="middle" textLength="5.55" lengthAdjust="spacingAndGlyphs">0</text>
<text x="459.21" y="223.65" font-size="9.5" text-anchor="middle" textLength="16.64" lengthAdjust="spacingAndGlyphs">500</text>
<text x="495.3" y="223.65" font-size="9.5" text-anchor="middle" textLength="22.19" lengthAdjust="spacingAndGlyphs">1000</text>
<text x="531.39" y="223.65" font-size="9.5" text-anchor="middle" textLength="22.19" lengthAdjust="spacingAndGlyphs">1500</text>
<text x="567.49" y="223.65" font-size="9.5" text-anchor="middle" textLength="22.19" lengthAdjust="spacingAndGlyphs">2000</text>
<text x="603.58" y="223.65" font-size="9.5" text-anchor="middle" textLength="22.19" lengthAdjust="spacingAndGlyphs">2500</text>
<text x="639.67" y="223.65" font-size="9.5" text-anchor="middle" textLength="22.19" lengthAdjust="spacingAndGlyphs">3000</text>
<text x="406.5" y="213.02" font-size="9.5" text-anchor="end" textLength="23.95" lengthAdjust="spacingAndGlyphs">−500</text>
<text x="406.5" y="190.6" font-size="9.5" text-anchor="end" textLength="5.55" lengthAdjust="spacingAndGlyphs">0</text>
<text x="406.5" y="168.18" font-size="9.5" text-anchor="end" textLength="16.64" lengthAdjust="spacingAndGlyphs">500</text>
<text x="406.5" y="145.77" font-size="9.5" text-anchor="end" textLength="22.19" lengthAdjust="spacingAndGlyphs">1000</text>
<text x="406.5" y="123.35" font-size="9.5" text-anchor="end" textLength="22.19" lengthAdjust="spacingAndGlyphs">1500</text>
<text x="406.5" y="100.93" font-size="9.5" text-anchor="end" textLength="22.19" lengthAdjust="spacingAndGlyphs">2000</text>
<text x="406.5" y="78.52" font-size="9.5" text-anchor="end" textLength="22.19" lengthAdjust="spacingAndGlyphs">2500</text>
<text x="406.5" y="56.1" font-size="9.5" text-anchor="end" textLength="22.19" lengthAdjust="spacingAndGlyphs">3000</text>
<text x="532.85" y="39.05" font-size="11.4" text-anchor="middle" textLength="170.66" lengthAdjust="spacingAndGlyphs">LSTM: Predicted vs Real (Train)</text>
<text x="532.85" y="235.85" font-size="9.5" text-anchor="middle" textLength="125.87" lengthAdjust="spacingAndGlyphs">Real Generated Power (kW)</text>
<text x="378.1" y="127.9" font-size="9.5" text-anchor="middle" textLength="149.05" lengthAdjust="spacingAndGlyphs" transform="rotate(-90 378.1 127.9)">Predicted Generated Power (kW)</text>
<text x="526.5" y="269.6" font-size="21.6" text-anchor="middle" fill="#000" style="fill:#000;stroke:none">(b)</text>
<clipPath id="cc"><rect x="71.1" y="311.8" width="242.5" height="169.1"/></clipPath>
<g class="sc" clip-path="url(#cc)"><g transform="scale(.1)"><path d="m2443 3471 67 5 11-40 2 7 44-1 24 6 49 24 37 10 2 2 8-51 34 9 15 43 24-51 62 8 5 34 20 16 9-31 60-26 15 29 47 88-71-37-1 13-5-13-17-14-3-3-4 39-1 12-7-50-4 29-45-8-4 8-6 14-17-7-2-39-5 17-20-14 0 40-1-10-9 7-6-9-12 15-2-44-11 22-8-10-10-4-7 33-9-28-2 35-2-53-11 47-16-45-4 45-21-30-5 11-9-8-26-12-4-1-7 13-5 18-6-18-15 31-8 7-7-54-51 21-24 26-64-9-67 9-37-26-417-10-23 31-15-34-35 5-55 0-137 35-67-16-99-18-204 16-60 39 2-2 68 15 184-8 44 16 152 12 17-14 30-13 0 27 81-2 44 1 85-28 11 9 67 12 63 4 61-14 56-8 59-10 3 7 68 32 43 10 1-25 38-5 32 23 10-3 4-35 20 17 11-8 0 25 13-44 15 23 25-2 3-14 5 15 0-24 8 31 3 5 6-4 3-26 3 0 2 46 0-7 14-9 3-21 0 37 2 3 9-24 4 3 6-31 11 52 4 0 10-54 9 43 9 1 0-40 19 42 9 8 1-23 6-22 8 31 1-14 1 11 0 18 1-11 1-10 0-32 0 31 4-3 6 1 17-29 3 41 9-26 12 39 6-57 7 21 0-11 4 42 0 4 4-44 3 29 4-24 6 14 2-22 7 21 18 17 3-49 0 15 3-10 10 54 0-35 11 1 9-23 2 24 3 10 5-35 18 48 35 1 12-41 2 16 10 24 23-4 2-6 6-12 5-25 4 20 4 11 4 16 5-35 59 12 11 4-11 41-4 13-31-24-7 31-4-14-15 14-1 20-9-4-9-39-6 28-9-8-1-3-4 25-3 8-7-38-5 9-1 28-3-28-22 27-5-14-1 16-3-39-8 2-3 28-12-8 0-17-1 5-4 16-2-1-10 15-1-57 0 53-8 2-6 2-3-40 0 25 0-15-1 30-1-13 0 13-4-45-5 35 0-21-1-12-1 29 0 12-2-40-2 21-4-30-2 30-3-19-2 13 0-6-6 21-1-25 0 36-4-16-2-16 0 16-4 1 0-39-2 3-6 32-2-3-2-9-6 14-5-23-1 17-2 11-4-42-1 27-9 17-2-13-5-8-1-18-5 46-5-7-2-43-1 50-1-32 0 30-2-19 0 2 0-20-1-11-6 50-1-17-1-35-2 46-1-17-3-23 0 23-1-18-1-4-2 29-1 14-4-41-10 3-1 38-2 1-1-45-1-4-3 41-8-28 0 8-3-8 0 16 0-26-3-3 0 53-5-49-2 49 0-29-4-2-1 9-1-14-2 21-4-19-1 26-1-20-3-26-1 53-1-32-2 30-9-2 0-44-8 50-1-31-1 21-2-7-2-5-4-29 0 5-6-3 0 28-1 7-1-13-1 8 0-36-3 55-11-16 0 6-2-2-3 1-5-33 0 18-3 13 0-6-2 6-4 12-3-1 0-28-4-18-4 28-6 1-4 5-2 0-15 12-3-2-3-34-1 38-2-8-5-32-6 10-16 8-21 17-10-1-4-11-5-20-2-1 0-6-2 43 0-19-12-3-11 11-4-30-12 0 0 22-5-3-2-8-1-11-5 0-1 19-11-8-2 12-34-30-10 37-11-11-2-28-29 36-20-9-7-8-15-2-20-18-16 31-1-34-48 9-94 40-32-4-11 0-24 3-49 5-55-22-7 12-9 12-26 0-21-55-68 46-6 2-51-5-201-15-37-32-52 15-41-8-65-7-26 42-43 5-28-25-15-18-78 51-2-2 40 57 3-13 4 20 81-43 66 36 19 3 0-49 30-1 83 25 7-10 54-4 50 33 92-4 75 8 48-38 166 38 45-34 37 33 7 9 5-40 63 37 18-11 49-27 10-9 6 43 4-15 13-22 10 43 10-6 0-23 4-24 2 42 14-12 12-26 7 12 3 24 24-24 11 14 2 12 8-42 6 38 7-9 13 12 0 12 1-40 6-11 17 50 3 1 5-18 37-27 10 9 1 35 8-19 12 20 2-29 0 19 2-23 10-18 10 39 0 7 7 4 2-57 5 51 2 3 19-24 6-6 3-23 10 54 5-33 3 9 3-1 1 20 1-47 3 22 4 19 5 2 2 13 0-40 12 27 4 1 1 5 0-4 3-35 4 46 2-7 5-6 3-27 0-4 7 22 2-3 1-26 11 2 1 25 1-5 0-6 2-11 1 15 3-7 1 34 1-21 1 3 6 20 0-13 2 11 2-28 2-17 13 43 2-42 7 37 2 0 7 1 3 10 0-19 4-2 14-27 3 39 6-10 2 12 2-30 5-4 2 6 2-24 4 35 1 21 1-45 0 4 2 36 2-30 1-1 0 31 2-46 3 53 3-54 1 30 7-5 1-28 2 36 1 2 3-16 0-6 6-14 2 13 12-10 2 9 5 19 2 23 1-36 10 11 0 3 10-3 6-13 1-9 5 19 5 9 6-34 2 19 2-2 1-11 1-1 6-9 1 16 1 23 2 4 7-29 4 8 6 3 0-9 3-11 0 28 2-11 3 33 2-26 3-7 1-15 0 21 3-4 10 15 4 6 3 6 2-14 2-32 2 38 5-13 1-5 13 3 3-17 6-9 7 7 0 30 24-31 1 43 11-24 11-2 16 18 7-41 9 52 1-5 2-18 1-5 8 18 12-1 19 57-92-6-10-18-4 43-25-30-1-6-14 19-2-34-2 12-7-2 0 14-6-24-9 9-1 33-3-13-7-7-4 9 0-34-8 18-1-22-2 35-3 1-9-27-6 29-4-18-1-7-7 43-2-8-6 3-2-29-2-17-5 41-1-26-10-16-14 27-2 14-5-35-11 24-3-25-7 28-3 5 0-42-9 34-2 16-1-26 0 11-2 0-5-10-2-4-10 4 0-9-8-2-4-8-1 8 0-13-1 19-12-18-2 33-1 18-2 1-1-49-10 33-13-15-5 6-2-7-10-11-1-12-15 12-4-10-1 1-3 26 0-24 0 17-3-21 0 10-4 25-9 1-4-20-4 36-1 5-3 1-4-53-2 18-9 29-2-53-5 34-8 22-7-43-4-10-6 8-5 36-5-34-1 45-3-53-5 6-5 5-1 21-4-6 0 26-1-12-4-4-2-33-5 40-1-26-1 31-1-26-1 30 0-53-6 23-1-16-5 10-9-5-9 22-7-30-2 27-8 17-1-2-12 0-7 8-3-21-13-18-1-1-2 14-18-4-4 13-3-26 0 19-7 21-6-45-1-10-5 53-4-49-1 54-1-11-3 3-2-7-6 4-2-29-4 39-1-38-2 27 0-10-5-5-2-2-1-5-8 19-4-2-2-38 0-3-1 27-18 20-3 9-1-33-5 29-8-18-1-6-2 8 0 23-9-4-2-16-8-21-12 14-3 11-3-43-3 8-1 12-23-9-9 4 0 2-4-6 0 19-5 19-26 10-4-8-1 3-5-8-8-37-6 37-25-13-8-11-5 20-13-42-26 4-12 19-7 1-16-1-5 1-26 10-14 20-23-23-3 27-38-16-29-20-8 3-41 21-37-21-29-9-18-16-53 44-79-33-157 7-52 2-12-8-84 44-71 2-105-23-10 18-34-7-44-42-39 77 33 16 37-1 85 13 1 1 8 0 34-4 17-33 110-3 18 48 24-13 2-31 8-4 56 18 25-23 84 38 1 4 49-34 69 32 9-5 59 5 44-7 85 17 32 4 1-2 33-2 2-30 18-1 2 27 33-7 2 6 9-12 6 10 4-39 4 38 15-30 3-2 1-2 1 16 27 9 0 1 13-21 1 29 10-42 1 46 2-2 12-22 1-22 19 49 6-39 7 38 5-35 1-9 4 18 2-15 8-1 11 41 3-42 7 44 1-33 18 28 7-14 3-1 1-13 17-1 11-5 2 25 4 15 2-46 7 26 3-27 3 26 1-13 1 20 1 14 1-42 0 41 0-21 5 26 6-9 15-8 3-34 0 48 3-9 11 5 8-48 2 0 2 37 1-39 10 40 2-4 11-9 5-9 5-18 9 12 1 21 8 8 2 16 5-59 8 47 3-22 6-19 6 16 3 6 1-4 2 9 3-11 3 27 11-6 3-39 4-2 3 37 3-30 3 22 7 20 1-26 2-20 1 16 1-7 0 27 0-23 1 38 3-31 0-23 9 23 0 28 1-25 0 15 3-12 1 20 2-45 1 4 3 6 2 14 4 26 6-24 5 10 4-38 2 34 1-36 22 4 3 42 1-10 4 12 5-37 2 45 8-26 11-2 4-3 6-7 2-17 2 9 8 43 1-48 2 30 1-35 0 41 6-5 0-1 7-29 14 51 8-31 3-1 1 5 1-20 6 13 2-8 5 25 2-1 0 13 6-22 1-22 6 26 6-5 3 0 9 2 2 8 16-28 5 5 4-14 9 4 7-3 4 12 7 16 18 8 4-28 2-4 8 11 2-12 2 8 21 11 14-8 9 3 2 1 2 36 11-32 31-21 17 6 1 3 51-5 11 11 19 37 27-41 22 21 20 14 16-9 2-34-1 88-1 7-88-18-105-22-7 52-4-36-4 28-22-27-5 2-6 31-18 3-23-39-2 6-46-18-1 26-9 13-3 5-11 0-8-2-5-43-11 30-13-31-11 1-15 19-8-9-6 9-29 2-16-16-11 23-4-21-3 33-7-21-23 1-1-6-2-17-1 32-4-10-2 1-8 31-17-10-17-8-4-20-4-4-1 8-1 36-10-34-3 10-1-33-14 50 0-50 0 3-4 45-5-4-1-16-1-1-3-12-1 40 0-24 0-28-1 35-3-26-1-5-6 11-1-5-5 12 0 31-9-47-1-10-6 59-2-28 0 2-2-15-5-6-15 0-1 2-1 6-7-14-8 28-5-15-9 37 0-19-4 16-1-39-4 5 0 2-3 38-1-23-3 15-2-20-5-29-1 38 0-2-2-8-4-26-10-2-14 28-3 11-12-31-3 42-1-46-6 42-5-27-3-3-1-11-1 39-7-12-25 9-24 14 0-32-10-22-24 12-3-3-1 15-3 23-4-50-6 28-1-6-5-13-1 3-16 23-3 2-1-3-2-28-17 32-11-11-1 3-4 9-7 8-4-6-9-14-12 2-1 18-2 8-10-32-1 28-22-11-1-8-8 8-7-17-5-22-13 23-2 15-23-1-4-31-6 36-3-16-3-25-1 57-7-40-1 3-5 17-15 12-39-23-22 30-4-11-27 3-8 9-24-27-3 23-9-7-9-12-14-32-44 34-157 18-77-55-51 33-150 12-8-22-77 6-17-27-55 14-38 0-72 40 8 9 110 24 2 18 19-46 2 54 21 3 69-20 15 19 11 1 44-3 46-20 36-27 24 28 16-19 4-1 28-4 26 39 26-50 16 26 1 0 25 13 27 11 19-51 37 40 4-26 6 37 8-50 1 56 1-8 53 3 2-13 27 18 12-30 13-9 0 1 14 34 17-8 19-36 5 1 6 38 14-2 40-19 1-7 1 13 5-6 10-12 1-9 11 21 2 25 3-27 0 17 11-7 3 5 6-7 1-23 0-6 8 33 3-36 1 20 2-10 0 2 4 30 2-6 1 4 2-11 3-9 16-22 11 25 4 10 0-7 2 26 6-32 5 7 40 7 7-30 0 27 5-28 1 14 1 35 5-36 29 40 4-50 7 44 4-35 3 0 9 3 10 16 8-33 0 20 9 11 1-25 2 25 10 8 0-22 3 6 9-2 0-7 2 16 1-23 3 8 1-17 2 3 3 29 0 12 4 14 0-43 5 1 4 33 1-15 2 12 11-7 3-10 0 21 6-2 1 3 8-22 2-5 4-16 7 19 3 0 0-16 8-8 0 0 0 1 4 7 1-6 4 45 2-27 0 18 6-32 1 26 4 10 0-43 8 50 7-48 8 31 5-31 4 33 18-6 10-18 2 10 1 12 2-9 1-24 0 14 7-13 8 32 2 11 8 8 2-34 2-6 2 35 8-13 2-36 1 7 3-8 4 7 7 37 3 4 4-20 11 8 1-24 12 33 10-30 6 1 18-4 5 24 1-21 3 4 1-15 1 25 3-23 2 30 7-21 7-5 2 12 5-20 1 35 1-11 7-18 7-8 0 31 14 13 7-6 5-3 3-34 16 7 48 44 0-26 13 20 70-43 6 35 2-31 98 35 15-27 74 29 63 65-25-45-14 0-11 49-58-50-30 39-104-5-133-20-12 35-24-45-18 2-48 23-45 12-6 4-2-19-9-3-23 18-5-34-23-6-11 53-5-21-4-32-10-3-18 11-4-5-1 39-5 7-6-40-6 38-1-42-17 47-3-31-6-25-10 57-2-52-14 26-1 24-2-51-4 44-3-3-3 11-1-48-8 41-1-30-2-8-2-5-3 6-2-5-33 4-6 31-1-7-3-19-20-13-5 37-2-34-6 40-4-33-19 0 0 4-4 26-8-16 0 5-6-16-5 37-1-24-14 7-5-8-4 2 0 19-1 8-8-24-2-17-7 34 0-38-5 6-3 30-1-12-16-18-1-17-6 36-1-33-3 1-7 52 0-19-1 14-5-8-5-21-4-7-4 9-6 32-10-11-6 5-7-29-1 16-6-19-7 14-3-10-3-6-6 11 0-24-4-1-29 45-7 5-8-22-5 6-1-16-3 27-2-19-9-13-14 38 0-18-1 22-7-19-9-23-2 10-25 26-1 0-8-14-1-28-11 6-4-11-2 45 0 2-3-47-13 47-5 7-2-31-5 8-19-10-6-3-16-4-11 28-1-10-1-4-22 5-6 0-2-3-1-16-2 22 0-22-10-4-2-5-2 38-3-19-17 3-5 14-9-7-29-24-5 33-18-3-1-17-8 19 0-28-18 14-21 0-7 15-3-3-63-45-26 37-7 17-16-20-5-25-13 44-80 2-41-18-3 13-2-31-11 16-14 18-23-11-12 1-3 10-1 5-20-57-51 45-35-33-115 97 22 0 9-25 7 7 6-30 36 47 21-37 15 33 4 6 17-10 11-27 44-10 9 53 7-55 20 42 0 7 8-49 2 12 24 38 2-15 3-15 12 30 1-24 8 17 2 1 5-14 12 23 29-30 66 22 9-2 10-2 50 6 1-32 49-9 26-2 3 45 5 8 2-23 7-18 1 37 0-6 2-11 7-7 10 6 8-33 18 37 9-30 1 26 0 20 3-56 2 53 0-34 0 1 37 29 6-18 9-13 1 28 4-30 6 21 1-37 7 16 5 3 1 36 3-16 5-26 1 23 10-21 4 38 2-50 3 42 9 11 5-10 22-31 1-9 7 42 2-39 2 48 4-26 8 2 6-10 0-16 11 34 5-21 9-10 0 1 4 37 28-28 10-7 3 32 2-23 7 30 2-28 1 24 1-45 4 21 5 12 0-21 4 10 1-19 10 22 7 23 12-36 5 23 4 19 5-9 2-41 5 24 8-7 2 9 28-4 1 25 13-37 1-10 7 16 6 2 2-7 1-17 3 20 2-10 0-2 1 15 0 17 3-40 8 21 2 16 9-35 1 25 5-7 4-8 8 0 2 18 14 14 2-44 6 32 1 22 7-48 4 35 4 11 1-25 3 5 1-19 8 28 1-6 6-2 2 0 2 21 9-23 2-6 4 24 1-17 3-15 12-18 6 12 1 28 6-27 6 5 10 0 4 35 3-40 6 13 18 7 2 17 4-51 5 33 1 6 0-22 5 20 0-20 8 22 0 15 1-40 1-12 0 20 2 29 5-49 3 50 0-35 2-2 1 27 1-15 4-20 6 41 20-20 5-5 0 10 7 16 6 5 13-13 4-26 3 5 1 35 0-4 21-2 4-12 1 0 7-15 11-21 35 24 12 7 5-3 3 1 2-29 5 31 4 5 14 22 10-38 10 12 2-28 11 34 51-22 20-5 19 41 24-53 6 49 2-18 13-5 31 0 45-16 34 44 7-28 31 2 8 30 85-46 34 40 5-26 59 29 14-33 44-10 53 96-203-10-137-11-40 15-54-26-12 38-112-42-30 33-31 3-9-27-47 7-49 31-5-7-10-1-5-27-5-15-19 43 0-13-17-22-9-11-7-1-3 13 0-7-5-7-2 4 0 31-17-5-1 5-1-29-25 43-2-23-1-3-1 7-4-30-1 20-1-7-4 10 0-7-6-6-4 10-10-20-15 34-6-32 0 48-24-21-5 7-8-7-15-27-7 28-12-20-14-1-22 25-2-13-2-19 0 9-7 8-2 36-7-16-32-24 0 24-3 9-1 2-29-38-1 34-5 8-1-44-1 45-16-18-2 1-3-20-10 31 0-20-8 7-8-17-6 13-6 10-3-3 0-40-5 53 0-14-10 6-1-12 0 2-3-24 0 25-3-14-3 12-6 4-3 0-14-33-10 36-1 15-3-47-5-6 0 33-2-35-4 50-4-52-3 8-28 35-2-26-1 33-11-46-5 23-4-7-2 8-2 17-2 11-1-7-1-47-9 28-3-26-5 38 0-19-6 3-5 16-11-18-3 26-9-7 0 2-6-32-1-6-1-2-4 8-1 8-1-23-2 6-1 18-2 9 0-33-4 33-6-5-4 1-1-15-5 14-12-20 0 26-4 7-3-16 0 24-2-9-3-5-5 11-2 1-20 4-15 6-1-23 0 20-8-48-6 20-2 7-2-11-2 15-7 2 0-16-1 1-4 15-6-2-1 6-3 2-14-2-5-25 0 4-14 30-2-27-7 27-8 5-7-46-36 46-21-27-1 4-11 18-12 2-8 3-8-14-5-11-1-5-6-5-26 35-1-27-4-29-2 23-1-2-3 15-34-4 0-8-10 22-4-23-1 20-6-2 0 2-2-41-8 48-9-18-2-7-11 15-1-14-2 23-2-28-12 20-7-23-13 28-18 4-1-32-6 10-5 28-1-17-17-5-25-17-13 40-4-2-2-6-9-47-9 17-15-11-1 42-94-36-4 44-2-54-5 37-1-4-4-25-13 33-22 4-2 5-2 4-24 51 3-9 0-6 4-11 0 25 0 8 0-3 5-16 1-14 0 26 0 8 1-20 6-25 0 44 2-48 11 23 4-6 4-3 4-9 2 37 7-45 2 5 9 40 2 7 17-54 0 48 20-10 15 7 4-7 2-5 11-26 1 41 6-14 5-20 10-16 2 39 2-10 3-1 0 2 2-19 0-5 6 25 3 14 10-26 4 6 2 5 9-7 9-14 0 43 12-11 19-21 1 7 3 10 6-16 6 22 0-44 10 25 1 11 5 9 15-21 10 17 2-40 8 42 3-36 4 36 0-6 9-36 3 29 7 6 3-8 5 10 1-7 0 7 9-30 5 6 2-7 4 20 8 15 2 10 3-6 5-20 8 16 9 1 9 9 3 0 4-47 4 36 0-8 11 18 3-29 0 0 1-12 7 6 6-17 4 31 1 9 13 15 2-5 0-24 0 27 6-52 6 3 0 40 3-12 1-1 3 26 0-53 5 37 5-22 1 6 0 6 5-10 1 3 1 23 5-46 2 33 6-14 3 1 2 37 22-55 8 12 6 13 6 11 1-23 5 15 12-17 3-14 4 50 1-16 1-7 4 28 14-40 0 37 6-9 9-42 1 36 2-14 7-23 1 20 2 17 5-26 8 46 1-52 19 3 0 29 11-37 2 3 19 17 5 28 12-15 10-28 5-4 0 58 13-22 3 13 5-36 9 33 7-43 0 25 2-8 0 32 7-24 4-22 5 51 13-9 4-25 5-13 0 6 4 29 1 5 27 0 2-46 2 49 1-25 1 0 3 7 1-34 0 4 1 13 5 2 1 23 4 9 11-10 3-9 2-7 1-26 8 50 2-1 7-41 11 22 8-21 2 6 10-12 5 10 4 35 1-36 24 30 4-20 5 9 0-15 1 26 21 16 7-12 6-25 12 35 11-39 2 13 7-14 1 37 32-28 10 19 6-9 27-28 1 12 1-4 1-7 13 9 4 39 30-32 15-24 1 41 18-22 8 27 5-34 20 43 13-30 14 24 3-24 12-4 48-18 2 9 1 1 15 30 8-17 0 8 7-20 4 8 10 3 42-14 45 2 74-12 28 40 12-20 81 23 40-10 15-1 2 7 65-39 60 8 5 8 12-5 15-3 19 9 176 4 29-22-167 73-158 8-29 21-67-14-40-26-22 3-98 13-65-8-10 13-8 29-155-35-46 25-10-23-13-5-5 21-6-36-35 23-17 21-20-32-9 29-4 4 0-42-12 18-14-6-2 34-14-28-2 33-24-52-1 47-30-43-2 0-5 31-24-27-7 39-12 2-12-39-1 10-3-12-2 27-2 21-4-17-13-2-6-36-8 1-15-2-7 51-4-45-6 25 0 16-3-4-1-21-4 19-3-17-9-7-27 37 0-25-7-31-4 44-11-14-12 25-4-51-1 13-4 22-25 9-3 1-4-21-3-19-1 5-2 34-4-39-2 50-9-10-12-49-12 29-4-23-6 12-5-16-11 15-17 12-17-14-3 5-2 8-13 19-5 7-5-19-9-25-2-9-3 19-2-17-2 29-2-19-10 44-1-47-5 27-7-4-3 18-6 6-6-25-5 15 0-23-1-21-1 4 0 13 0 28-4-29 0 32-1-25-7-15-4 9 0 35-2-13-1-32-2 40-2-36-8-10-3 12-11 41-2-45-2-3-2 5-5 21-2 15-8-17-10 1-8-9-1 22-6-43-1 25-5 26-1-7-10-17-3-16-5 24-2 9-3-31 0 7-2-6-29 37 0-53-12 49-1-23-3 27-4-26-6 4-2-10-10 31-1-45-1 10-3 22-3-41-8 58-4 0-4-21-2-25-2 21-3-2-10-21 0 1 0 27-1 18-1-32-7 25-1-1-1-14-5-9-3 16-1-9-7 15-2-12-8 21 0-19-1 22 0-30-5-10-7 9-3-13-1 40-2-20-1-24-6-4-4-6-2 45-3-19 0-9-4 12-2 8-1 14-6-45-1 33-7 6-4-17-1 2-1 15 0-38-1 6-2 32-2 12-1-8 0-22-1-18-1 0-1-8-2 42-1-2-4-3-7-22-2 22-1 14-1-27-2 24-2-7-20-33-4 36-1 3-2-4-6 3-17-16-9-31-11 18-1 25-6-27-2-7-10 5-11-3-5 29-2-12-1-19-6 22-4-27-4 48-4-43 0 49-1-43 0 21 0-24-3 26-7 3-7-4-1-8-1-30-1 29 0 7-2-20-2-3-1 36 0-18-3-29-2 24-1-14-1 47-1-12-1-32-2 37 0-43-1 36 0-28-3 38 0 4-6-47 0-2 0 19-1 30 0-49-2 42-2-25-2 3-1 17-1-47 0 50-2-37-1 8 0-5 0 10-1-2-2 7 0 20-1-23-1 15-1 9 0-4-1 49 1-11 0 7 1 24 0-24 1 11 1 12 1-1 1-29 0-1 2 4 0 12 1-19 0 27 1 6 1-51 1 49 1-14 1 20 0-5 1-15 1-11 3-8 1 14 0 11 0-41 2 17 1 4 0 22 2-3 0-40 0 54 1-6 1-14 1 15 1-33 1-20 4 52 1-5 3-32 1 7 0 33 1-43 1 38 0-17 1-6 3-5 0 20 1-38 0 52 1-27 0 22 1-31 0 16 4 22 2 0 0-42 1-12 1 8 4 31 0-8 4 5 1-6 4 18 1-20 2 10 0-28 1 3 2 13 1-1 7 16 2-35 0 44 2-25 4-18 2 48 1-20 17-11 1-20 2 50 0-26 10 1 1-12 4-13 2 45 1-50 4-1 2 52 1-7 1-4 1-12 2 21 0-8 2 15 1-57 5 28 8 12 0-7 0 7 6 7 1-40 6 40 7-16 3-19 8 18 1 24 0-55 1 24 9 10 0-15 0-15 5 54 6-32 1-21 0 47 1-38 0-12 4 25 1-28 1 38 1-17 1-17 1 25 3-13 3 1 9-12 5 26 4-18 0 5 3 3 0 10 4-22 10 21 0 22 12-11 4-19 4 33 1-23 0 24 5-24 1-21 3 28 3-37 2 32 1 13 4-21 3-26 4 27 3 13 1-27 4-6 2 5 2 14 7 28 10-29 0 4 3 19 2-5 4-36 4 34 0 5 5-30 0 9 2-25 0 19 5 38 11-34 6 14 1-15 1 36 7-20 5-17 5 31 3-47 1 4 17 48 1-54 1 32 5-25 2 4 4 45 3-2 0-31 0-13 11 7 5 1 5 23 7-41 8-3 6 18 2 18 3 8 17-31 4 6 6-13 8 31 7 13 1 7 9-47 23 24 4-3 2-19 1 24 9-26 6 1 1 38 1-45 2 24 5 2 6-16 3 13 16-9 2 38 10-41 4 1 0 19 6 14 9-19 7 3 11-2 17 0 2 11 0-35 4 28 12-34 18 20 13 9 3-13 2 19 12-14 9-19 14 39 1-40 14 32 0-11 6-3 10 3 6-23 48 57 13-49 6 14 3-14 9 11 7 37 7-8 20-6 21-39 11 0 37 21 16 6 45-19 6 13 26 1 38 5 78 0 16-17 64 19 45-29 45 19 58 18 59-40 61 49 74-45-87 66-193 44-44-18-23-35-14 53-14-29-36 14-2 19-58-25-42 6-130-13-23-6-3 0-26-18-26 7-16 43-31-33-56-15-3 22-1 9-1 14-53-28-20-11-22 22-16-27-6 30-3 18-8-9-4-19-5-19-20 12-9-2-5 2-30 10-16 27-15-41-3 16-1 2-5-32-4 42-3-12-4 12-7 1-5-37-8-4-4 17-5 28-8 1 0-48-7 44-1-5-4 7-16-29-4 42-4-42-2 4-1-7 0 30-5-27-6 28-4 5-6-26-1-24-2 59-7-3-4-47-5 49-7-37-14 37-2-1-1-46-4 30-5 8-8 4-6-49-6 9-4 26-4-21-8 14-13-21-4 2-2-10-1 55-6-12-3-7-4-12-1-10-9-12-8 0-3-1-3 11 0 31-12-5-7-40-3 33 0 5-5-39-1 14-1 19-2 26-6-35-9-10 0-6-4-7-5 48-1-12-2 0 0-12-1 7-2 6-1-2-2-30-2 38-2-33-5 41-4-49-1 5 0 16-9 16-1-17-6-3 0-19-8 13-1-10-1 36 0 19-3-15-1 1-9-2-5 10-1-34-1 40 0-27-9 16-3-45-1 50 0-15-1 7-5 2-1 5-6-50 0 44-11-7-4-28-2 30-1-16 0-11-1 2 0-10-2 3-5 19-4-3-2-18-4 8-1 19 0-18-4 38-6-20-6 0-9 24-1-36 0 24-6-33-3-13-1 50-1-23 0 16-3 0-2-2-1 14 0 4 0-16-2-11-1-9 0-20-3 53-1-46-1 1-1 28 0-12 0-15-1 22 0 8-1 7 0-22-1 14-2-8-2 19 0-3 0-10-1-2-1-34-1 22 0 6-1 26-1-27 0-23-2 24 0 19-1-27 0 25-2-48 0 55-1-31 0 5-1-28-1 45-1-31 0-7 0 3 0-3-1 51-1-15 0 0-1 13 0-4-1-49 0 34-1-18 0-19 0 18-1-17 0 52 0-36-1 33-1 2 0 3-1-5 0-2-2-5 0-39-1 27-1-16-1 17-1 3 0-29 0-1-1 43 0-35 0 19 0-13-1 37 0-43 0 32 0-10 0-27-1-2 0-1 0 14-1-19 0 11 0 21 0-10 0 14-1 14 0-15 0-9 0 32-1-22 0-24-1 39 0-30-2 8-1-4 0 16 0-6-2 9 0-45 0 26-1 22 0 7 0-6-1 6 0-10-1-29 0 27 0-7-1-11 0-4 0 31-1 7 0-27-1-16 0 24-1 9 0 2 0-33 0 40-1-47 0 44 0-55 0 22-1-14-1-2-1 43 0 27 0 21 0 7 1-30 0 4 0 19 1-6 0 5 1 17 0-12 0-22 0 13 1 21 0-8 0-44 1 39 0-4 0-4 2-26 0 3 0 30 3-26 0-5 0 27 0-4 0-16 0 39 1-35 1-5 0 0 1 8 0 22 0-16 0 8 0-17 1 14 0-18 1 12 0 30 0-14 0-22 0-3 0-8 2 3 0 16 0 28 0-49 0 31 1 11 0-37 1-12 0 12 0 6 1 33 0-43 0-3 0 8 1 42 0-23 0-5 1-1 0 27 2-12 2-10 2 21 0-3 0-50 0 56 1-37 0 29 1-13 1-27 0 5 2 31 1-23 0 5 0 13 1 11 0 8 1-52 1 30 0-33 0 30 1 6 1-13 0-18 0 14 1-4 0 2 4 16 0 2 1-26 1 31 1-28 0 40 2-1 2-26 3-2 1-14 1-2 1 10 1 33 0-40 1 41 8-17 1-29 2 14 1 31 1-39 3-4 1 3 4 2 4 26 0-6 3-13 2 32 3-40 5 1 2 3 5 27 1-10 1 24 0-46 3 9 2 23 11-24 7-2 2 20 29 19 4-16 1-39 2 2 5 37 2-21 16-13 9 8 2 17 7 18 1 2 5-28 1 23 1-5 6-5 2-3 1-18 3 10 1 1 1 28 0-6 15-46 1 29 3-20 1-5 6 21 1-22 4-6 4 28 1 4 0 2 4-24 2 39 10-46 19 8 2-6 1 35 4-19 15 4 2 21 2-20 8-9 11 2 2 2 3 29 6-33 5 24 10-31 1-3 9 13 1-10 0 27 13-8 15-10 0-20 10 51 5-26 4 4 13 14 0 10 8-29 9 22 1-46 9 29 3 12 4 1 30 12 2-15 7-7 8 14 7-46 1 11 46 35 6-14 20 22 43-28 7-26 11 17 54-16 59 30 29 16 42-6 7-35 10-6 7 6 12 2 79 50 42-49 176-1-590 56-77 25-73-20-57 15-23 12-30 13-20-30-3 26-25-3-20-22-3 23-3 16 0-43-16-6-3 35-10-19-13-15-2 5-3 25-7-26-15-10-2 3-10 40-10-46-2 34-7-36-2 30-3 26-1-24-7-28-6 20-5-23 0 20-3 1-12-15-1-1-6 42 0-32-10 20-8-4-1 16-13-3-1-22-7 20-1-18-2 9 0-23-2 15-2-26-4 38-1-19-2 28 0-35 0-3-5 26 0 12 0-1 0 2-1-27-1-17-2 1 0 10-2-7 0 27-2-24 0 24-1 11 0-11 0-7 0-10-1 25 0-20-1-11-1 11 0 33-1-18 0-7-3-13-1 20 0 12-1-32-1 12 0 11 0-17-1 7-1-6 0-22 0 18-2 5-1-22 0 4-2 32-2-4 0-28 0-5 0 37 0-38-1 52-1-18-2-16 0 28-1-30 0 27-1-9 0-5 0 26-2-41 0 3 0-14-1 46 0-37 0 9-1 13 0-30 0-2 0 35-1-28-1 22-1-1 0 19 0-34-1 30 0-45 0 35 0 22 0-47-1-9 0 42 0-9 0-1-4-35 0 8 0 43-2-31-1-3 0 10 0 17-1 13-1-19 0-13 0-20-1-5 0 101 0-26 1-13 1 30 0 10 0-30 2 30 1-25 2 23 0-5 1 16 1-3 1-46 0 30 1-11 0-17 1 27 0 4 1 23 1-54 1 41 0-21 1 20 0-43 2 14 0 41 2-45 0-4 1 52 1-14 2-31 0 5 4-15 0 43 1-31 0 0 0 25 1-15 0-6 1 8 3-12 1-8 0 50 0 1 0-10 2-14 0 7 1-41 0 28 0 24 3-29 0 23 0-38 0 21 0 14 3 13 0-24 0 18 0-48 1 27 1 4 0 13 0-30 1-6 3 9 3 24 3-1 1 14 1 1 1-11 2 5 2-25 1-4 13-22 0 45 11-20 0-1 9 31 4-45 9-4 9 12 5 37 9-4 15-46 10 17 6 4 10-6 5-13 6 8 0-12 5 16 8 38 83-40 6-14 1 14 53 6 2 34 13-3 30-19 1 10 23-17 117 0 1-26 9 15 17 6 145-16-299 73-15-17-47 41-35-36-5 38-19-35-10 42-52-49-9-4-7 35-54-17-1-17-18 14-7 34-5-3-20-31-4 36-4-8-1-33-3 46 0-20-2 21-1-37-1-16-13 35-1-11-2-7-6-11-4 45 0-24-9 10-2-1-1-4-7 1-1-7-1 18-2-8-4-13-1 14 0-38-1 43-1-31 0-1-1 13-1-4-1-22-2 43-1-2-1-41 0 19 0-6-1 23-1-34-2 48-1-4 0-30-1-17-1 56-2-13 0-1 0-10-2 12-1-27 0 24-1-35-1 47-1-16-2 74 1-50 1 30 1-16 1-6 1 28 2 20 3-57 2 24 1-12 6-12 0 53 1-36 2 30 2-5 0-40 0 2 7 13 0 4 1 35 0 1 1-14 2-34 1 0 5 19 3 13 0-2 2-1 10-28 1 19 3-24 9 12 17-17 7 40 2 16-59 27-17 0-8-10-5-5-2 21-3-25 0 9"/></g></g>
<line x1="81.8" y1="466" x2="302.59" y2="319.77" stroke="#000" stroke-width="1.1" stroke-dasharray="3.38 1.46"/>
<rect x="71.1" y="311.8" width="242.5" height="169.1" fill="none" stroke="#444" stroke-width="0.7"/>
<path d="M81.8 480.9v2.7M118.16 480.9v2.7M154.52 480.9v2.7M190.88 480.9v2.7M227.25 480.9v2.7M263.61 480.9v2.7M299.97 480.9v2.7M71.1 466h-2.7M71.1 441.92h-2.7M71.1 417.83h-2.7M71.1 393.75h-2.7M71.1 369.67h-2.7M71.1 345.58h-2.7M71.1 321.5h-2.7" stroke="#000" stroke-width="0.73"/>
<text x="81.8" y="492.1" font-size="9.5" text-anchor="middle" textLength="5.55" lengthAdjust="spacingAndGlyphs">0</text>
<text x="118.16" y="492.1" font-size="9.5" text-anchor="middle" textLength="16.64" lengthAdjust="spacingAndGlyphs">500</text>
<text x="154.52" y="492.1" font-size="9.5" text-anchor="middle" textLength="22.19" lengthAdjust="spacingAndGlyphs">1000</text>
<text x="190.88" y="492.1" font-size="9.5" text-anchor="middle" textLength="22.19" lengthAdjust="spacingAndGlyphs">1500</text>
<text x="227.25" y="492.1" font-size="9.5" text-anchor="middle" textLength="22.19" lengthAdjust="spacingAndGlyphs">2000</text>
<text x="263.61" y="492.1" font-size="9.5" text-anchor="middle" textLength="22.19" lengthAdjust="spacingAndGlyphs">2500</text>
<text x="299.97" y="492.1" font-size="9.5" text-anchor="middle" textLength="22.19" lengthAdjust="spacingAndGlyphs">3000</text>
<text x="65.1" y="469.4" font-size="9.5" text-anchor="end" textLength="5.55" lengthAdjust="spacingAndGlyphs">0</text>
<text x="65.1" y="445.32" font-size="9.5" text-anchor="end" textLength="16.64" lengthAdjust="spacingAndGlyphs">500</text>
<text x="65.1" y="421.23" font-size="9.5" text-anchor="end" textLength="22.19" lengthAdjust="spacingAndGlyphs">1000</text>
<text x="65.1" y="397.15" font-size="9.5" text-anchor="end" textLength="22.19" lengthAdjust="spacingAndGlyphs">1500</text>
<text x="65.1" y="373.07" font-size="9.5" text-anchor="end" textLength="22.19" lengthAdjust="spacingAndGlyphs">2000</text>
<text x="65.1" y="348.98" font-size="9.5" text-anchor="end" textLength="22.19" lengthAdjust="spacingAndGlyphs">2500</text>
<text x="65.1" y="324.9" font-size="9.5" text-anchor="end" textLength="22.19" lengthAdjust="spacingAndGlyphs">3000</text>
<text x="192.35" y="307.5" font-size="11.4" text-anchor="middle" textLength="165.53" lengthAdjust="spacingAndGlyphs">GRU: Predicted vs Real (Train)</text>
<text x="192.35" y="504.3" font-size="9.5" text-anchor="middle" textLength="125.87" lengthAdjust="spacingAndGlyphs">Real Generated Power (kW)</text>
<text x="38" y="396.35" font-size="9.5" text-anchor="middle" textLength="149.05" lengthAdjust="spacingAndGlyphs" transform="rotate(-90 38 396.35)">Predicted Generated Power (kW)</text>
<text x="187.3" y="538.2" font-size="21.6" text-anchor="middle" fill="#000" style="fill:#000;stroke:none">(c)</text>
<clipPath id="cd"><rect x="418.7" y="311.8" width="234.5" height="169.1"/></clipPath>
<g class="sc" clip-path="url(#cd)"><g transform="scale(.1)"><path d="m5988 3324 11 7 67-34 51 22 31 12 8-5 5-38 18 46 21-54 14 36 18-39 2 50 32-51 3 52 30-19 30 6 34 15 32-13 1 73-31-51-3 49-2-1-1-20-2 1-5 6-16 2-2-21-24 35-2 0-11 0-9-35-9-18-9 5-1 43-11 1-4-34-22 37-1-21-3 7-2 18-3-21-3 19-1 3-17-40-4 38-8-25-1-26-8 5-7 39-15 3-9-41-15 17-4-12-8 41-2-29-30-20-36 12-3 21-50-14-6-4-10 21-5-43-20 4-1 32-45-14-28 13-2-10-20 13-1022 65 203-17 12 3 78 19 97-5 106-2 32 4 125-10 114 17 49-22 80 16 3 1 5-18 22 6 5 11 48-22 22 19 60-3 5-39 33 31 3-1 7-31 4 40 7 18 8-18 11-31 6 35 8-22 6-12 5 39 1-23 33 4 0 12 1-36 1 36 10-21 3 21 6-28 0 40 2 4 1-16 6-14 4-2 3-18 2 16 0 8 4-15 1 13 4 3 3-9 1 13 1 13 1 2 0-41 2 36 0 3 3-9 1-23 10 36 0-40 1 25 1-19 9-16 0 14 4 27 1-5 14 16 0-34 3-4 5 21 4-27 2 44 2-1 0-12 6 12 4-12 8-12 5-26 3 43 4-42 8 27 0-12 2 33 2-32 8-11 4-5 3 39 1-28 6 4 1 4 1-24 3 19 17-2 6 17 1-31 5 2 3 26 1 18 2 4 6-3 0 0 1-47 3 32 4 12 7-26 6-5 9 20 2-20 0 9 9 28 7-12 6-4 2 1 5-39 20 28 0-6 10 3 5-9 10 16 3 4 12-25 2 20 14-31-19 97-3-30-6 18-1 21-2 10-40-22-3-13-2 26-2-42-3 29-1-6-1 20-17-29-3 29-3-37-1-1-1 31-8-23-1 34-1 3-2 0-1-51-3 52-2-5-4-33-3 28-9-29 0-2-2-15-9 22-1 35 0-23-1-6-4 28-3-42 0-7-1-8-3 9-1 2 0 30-2-31-1 0-5 16 0 0-7 11-14-27-3 32-6-23-2 12-2-29-3 52 0-2-4-30-3 18-1-17-1 16-4-30 0 34-1-17 0 11-1-6 0 0-3-1-8-23-2-2-1 41-2-28-4 34-5-12 0-16 0-19 0 39-5 12 0-35-2-1-4-11-1 38-2-38-3 15-4 18-2 0-1 7-3 8-4-44-1 32-8-39-2 52-1-11-1-30-2-13-3 11-5 7-1-18 0 27-2 5 0-3 0 15-5-47-2 30 0 18 0 1-7-10-3 14 0-19-8-26-4 38-11-41-1 34-4-8-2-25-1 1-2 50-2-38 0 37-3-16-1 13-4-7 0-1-2-22-6 35-1-13-12-40-2 1-3 15 0-17-2 32-6 18 0-19 0 13-2-32-10-1-2 43-4-59-3 33-4-32-22 42-5-39-17 48-4-8-26-37-8 23-2 29-3-35-3 31-2-21-22-33-12 53-20-30-10 6-36-16-47 13-4 24-23-51-59 7-23 47-35-22-67 19-33-14-46-37-14 19-5 7-48 4-264 4-66-22-185 19-131 28-1-20-27-20-18 1-6 36-19-24-13 1-24-29-9 32-36-34-112 73 125 43 9-17 34-27 115 23 32-22 0 13 91 8 13-18 28 20 21-7 32 8 0-36 48 14 167 8 107 32 35-54 21 1 7 52 27-33 12 25 14-23 6 27 50-13 1 1 19 10 26 6 6-36 42 34 26-35 27 33 15-9 1 13 10-5 7 8 4-54 1 13 3 2 3 26 5-2 11-37 0 44 4-44 23 26 10-2 2 22 30 1 10-42 10 33 6-19 3 23 3-11 13-7 8 1 5-20 7 19 25 0 0 26 7-36 22-3 4 25 3-33 2 24 8 3 0 11 2-27 6-15 1 51 5-35 4 36 5-2 1-17 5-37 1 57 3-7 2-10 4-40 1 5 9 43 5-9 2 11 0-7 1-32 0 17 2-19 2-3 10 42 5-19 2 7 0 18 4-13 0-31 0 12 1 19 1 6 10-26 3 28 0-27 1-10 3 36 3-5 5-3 1-35 4-5 1 12 6 12 1 20 2-44 2 12 3 11 0-7 1-6 0 24 2-11 1-8 4 29 13 3 4-43 1-6 1 38 1 11 1-7 2-26 2-16 6 7 0 18 1-25 4 50 6-37 1 33 0-18 1-13 0 31 4-18 0 21 3-22 0-1 1 23 1-47 2 4 1 45 4-19 1-29 4 20 0 14 1 2 2 7 4-39 0 32 8 3 0-42 0 2 0 54 2-47 1 4 1-1 4 13 2 20 3-32 14 38 0-32 3 11 0-15 2-1 5-13 2 3 3 42 2-36 1 8 5-1 1 31 11-36 0-12 4 14 0-8 6 43 4-9 1 0 1-35 1 33 1-25 3 38 2-5 5-46 1 12 0 12 6-14 2-2 6-1 1-7 0 18 6 16 3-26 15 4 2 32 6-12 0 17 7-12 15-3 2-18 7-3 6 45 37-9 12-28 3-11-73 57-7 34-26 5-15-21-4-21-3 2-7 8-2-14-3 4-18 14 0 2-12 8-13-15-1 15-1 16-14-28-3-4-6 10-9-5 0 21-1-18-6 18-1-15-6-8-1-11-1 7-4 22-8 7-8-27-1-8 0 39-1-19-5 24-3-32-4 11-11-1-2-27-2 17-3-8-2-5-2 3-7-7-3 44-4-42-1 39 0-23-2-5 0 17 0-4-1-15-4-5-1 50-1-52-3 1-1 8 0 21-1 15-4-37-5-10-3 49-2-2-4-41-2-7-5 4 0 36-3-4-3-16-1-11-3 41-2-1-1-38-1 31-1-38-1 45-1-43 0 42-1-17-2-5-1-14-1 25-3-8-10 21 0-7-7-22-4 19-8-20 0 1 0-9-5-2-1 3 0 29-1-3-2-7-1 25-10-45-3 40-2-24-1-3-4 32 0-47-6 4 0 31-15-38-6 24-5 4-1 21-2-35-11 4 0-7-2 2-2-18-8 46 0 9-11-39-1 11-1-21-4-4-2 14-1 31-1-2-2-47-1 57 0-50-1 5-6 44-3-17 0 16-2-43 0 31-4 3-1-28-4 2-10 30 0-48 0 36-1 19 0-30-2 5-3 1 0-10 0 19-2-35-2 5-5 20-7 17-2-38-8 27-5-25-3 43-3 2-19-42-3 6-9-4-1 15 0 14-1-3 0-18-9 6-3-18-5 11-1 8-3-34-5 15-1 1-5 17-4 9 0-14-3-6-2 31-2-43 0 33-2 15-18-39-2 16-3 16-2-21-5 7-6-2 0 12-6-36-6 40-3-38-7-9-4 7-1 40-7-47-9 28-2 1-5 2-2-2-4-25-7 30-9 16-1-19-11-6-4-3-3-15-12 12-2 10-6-11-17 24-7 0-3-43-1 51-10-29-8 20-13-28-2 17-3 4-1 4-26 4-3 10-2-14-22-14-1-19-2 5-6 17-15-24-10 6-22 9-17 0-7-13-2 43-28-47-84 34-15 15-217-16-88-3-54-23-109-6-34 20-15 24-55-28-1 29-9-33-45 32-32-13-82 21-20 61 20-1 10-53 50 11 82-12 30 46 57-48 50 52 96-12 10 0 98 3 4-23 37 17 131-33 49 29 5-6 6-25 4 55 9-36 42 7 2 22 20-51 11 58 8-48 29 36 3-5 5-2 18-37 0 44 20 3 13-49 1 34 13-26 1 11 8-3 2 0 14 29 3 8 9-26 1-10 9 19 0-8 7-15 15 15 0 0 3 26 8 4 15-3 10-34 12-17 1 8 1 17 8 5 1-23 1 25 1 20 8-38 6-8 9 34 7-26 5 33 0-14 7 14 5-10 4-24 0 17 7 18 3-8 2-19 1-5 2 3 3 31 2-24 6 25 1-27 2 13 4 13 4-20 2-11 2-22 0 57 2-17 4-8 1-25 2 40 0-16 0 1 0-31 3 52 4-2 0-10 3-15 2 30 0-54 3 43 3-15 1 7 2 1 4 11 3-42 3 12 1 10 8 24 2-27 3-21 5 52 0-9 3-25 4 14 1-24 6-10 5 52 5-51 2 25 5-2 2-27 5 39 3 1 3 4 2 11 2-34 3-21 0 18 1 21 0-12 3 10 0 11 2-36 0-13 2 54 1 1 1-9 3-38 11 50 5-37 1 13 2-24 3-4 0 5 1 30 5-31 1-7 5 18 1 15 3-24 3-8 5 26 0 18 1-37 1 11 1-16 2 49 2-37 0-15 2 25 4-28 10 55 1-24 4-30 1 12 1 13 1 6 3 15 6-27 4-15 4 22 10 22 2-50 2 4 7 22 0 32 1-2 4 0 1-24 1-30 6-2 0 28 5 27 0-39 0-4 1 42 13-49 3 13 1 31 8-38 4 0 4-1 1 44 3-16 5 12 1-22 7-18 6 24 1 8 9-35 2-1 6-1 6 6 2 19 0-21 1 13 0 14 7 11 1-34 3 24 0 6 2-19 4-13 7 15 3-26 11 17 2 14 8-15 3 20 0 20 7-2 1-19 0-31 1 19 1 35 0-19 1-9 0 15 0-15 5-18 2 13 4 1 7-17 0 43 3-6 1 2 6 9 3-6 3-40 5 11 1-1 5 7 17 29 10-25 6-27 0 35 21-12 18 25 46-40 19-8 13 40 14-19 15 10 2 16 35-32 103 51-3 10-10-16-57 38-1-29-99 10-9 4-7 19-22-23-14-18-14 16-30-5-34 26-2-29-22 5-6 10 0-1-18-15-3 0-11 20-1 22-8-44-3 20-16-22-4 33-3-37-1 38-6 15-1-3-8-54-2 56-10-39 0-8-1 29 0-22-1 21-1-17-1 17-11-26-5 18 0-11 0 17-7 16-1 5 0-55-1 56-3-2-2 0-2-32-1-10-13 18-3-30-1 20-9 5-13-8-3 27 0 12-7-24-2 21 0-41-15-10-7 41-4-19-1 27-5 3-1-34-4 0-1-3-1 17 0-23-2 7-3 39-1-10-4-9-1 6-1-7-2 17 0-47-5 26-1-21-1 45-2-14-6-5-8-11-1 6-8-27 0 49-1-44-1 43 0 2-4-43-1-13-4 43-3-39-9-1 0 49-2-9-12-35-2-10 0 20-4 30-1 8-1-39-3-12-1 38-2-13-8 14-4-15-2-4-5-18 0 40-1-37 0 24-4-9-2-19-7 17-1 34-1-3 0-46-2 0 0 41-3-23-1 21-4-24 0-8-4-4-1-7-4 41-1-45-2 31-1 1-2-31-1 2-1 15 0-8-10 2-5 0-2 26-1 4-1 0-3 2-6-9-2-24-4-5-3 32 0-9-7 14-7-39-3 36-2 11 0-28-4 27-2-35-4-3-4 19-1-25-1 32 0-38-2 56-9-13-2 8-1-50-8 56-5-4-2-7-2-47 0 28-4 11-1-20-6 9-2 11-6 1-3-39-3 24-8 6-14 13-1 12-2-10-4 5-6-8-5-2-3 3 0-31-3 21-1-22-1-9 0 53-3-55-9 21 0 11-6-16 0-10-1 34-5-21-4 2-6 27-2-48-4 30-12 8 0 6-7-8-4-26 0 10-4 34 0 2-6-41-4-11-1 21-4 19-1 9-13-49-4 41-3-1-8-15-4 22-4-3-2-43-10 25-2-14 0 33-6 2-17-7-9-14-6-15-2-7-6 30 0-33-23 2-4 31-38 9-8-33-2 43-5-54-23 37-11-10-1 2-13 13-14 1-9 11-1-31-13 27-5-7-15-44-14 32-13-10-3-11-11 43-11-52-8 0-27 30-40-20-13 19-9 12-48-20-41-10-29 41-3 0-20-17-17-1-34-21-20-14-47 44-10-39-2 7-5-14-15 46-84-40-23 45-81-2-12-29-54 67 20 5 1-33 4 44 8-23 14-11 13 34 12-34 33 47 47-40 53-4 12 1 6 17 11-28 2 45 2-19 30-30 24 26 1-22 94 27 35-7 19 17 4-9 7 17 2 2 16-11 61 2 33-42 10 45 3 4 11-26 20 19 8 1 2-29 16 15 1-22 18 32 2-9 13-19 15 39 4-29 8 35 3-15 22-4 2-21 12 17 10-33 14 28 9 20 5-13 4 20 16-50 3 39 8-16 13 28 3 2 3-4 21-26 5 22 12-30 1-17 2 19 12 7 1 14 0 3 1 4 1 4 19-5 8 9 0-58 4 1 0 31 1 6 2 8 3-36 4-6 4 18 0 36 2-18 0-4 1 17 0-40 0 35 2-4 0-28 1-16 0 56 1-11 1 6 2 2 3-30 4-6 4 31 1-32 1 10 8 4 3-2 0-29 2 30 3-23 7 33 2-39 1 51 3 2 0-48 1 6 0 31 5 14 5-35 2 24 1 9 1-12 3-43 3 10 4 35 6-25 8 36 1-48 1 15 2 34 4-48 3 45 2-37 14 2 2 16 1 21 3-5 3-7 6-8 5-23 2 6 2-17 1 24 1 31 11-11 2-38 1 37 3 7 1-52 3 28 8 30 3-52 11-2 5 22 2-11 3-12 3 51 0-28 0 10 1-3 6 4 2 10 5 12 4-37 3 28 7-28 1-2 1 7 4 5 0 4 2 10 1-38 3-4 0 22 4 14 0 3 1-18 6 0 3 1 0 26 0-52 22 50 7-8 2 4 3-40 3 22 2 5 1 6 10-19 1-6 1 10 8-4 2 7 5 23 0-38 5 17 2 10 3 8 1-42 3 31 1-27 0 45 0-13 2-10 2-15 5 7 14 7 1-29 5 50 9-21 7-30 8 1 8 36 2-31 0 17 3-4 15-3 0 24 2 8 4-48 1 8 8 9 4 28 3-23 2 0 7 10 1 4 8-18 1 8 3 20 3-16 8-27 1 11 7 19 8-17 6 32 8-29 1-13 12 9 31-9 3-5 4 51 3-3 4-48 14 3 0 33 3-24 4 11 4 0 5 12 0-21 4-13 14 54 14-36 8 16 2 5 10-26 5 37 10-48 10 7 6 22 52-33 29 46 1 13 25-3 12-2 14-18 13-20 17 17 33 5 21-6 115 11-177 47-109-12-31-1-153 0-7 9-1-22-5 20-6-14-5 17-20 27-1-47-9 21-3-21-10-6-6 9-33 1-9 14-21 9-5 7-6-6-1-12-4 10-6-11-14 5-18-2-23-20-14 36-4-38-4 35-13-7-3 10-1-37-5 21 0 30-7-2-1-49-6 18-14 5-4 25-1-20-5-10-9-12-1 7-4 32 0-15 0-29-1 51-14-1 0-45-5 35-3-19 0 3-8-21-3 4-6 5-8 29-12 1-11-35-2 26-4 1-2-30-2 22 0 2-2 6-6-3-6-14-13 27-3-26-9 18-1 9-5-14-6-8-7 18-10-9-13-10 0-17-3 20-5-28 0 11-1 2-1 15-1-14-1 34-27-17-10-7-1-9-10 0 0 6-2 30-1 0-1 2-11-48-5-2-7 22 0-18-3 3-10 0-7 15-6 27-3-47-13 46-5-37-16 10-2 2-5 23-3 8-1-15 0-18-2 16 0-22-1 12-1-29-11 33-3-1 0 7-2-8-3 23-1-43-7 32 0-27-23 11-1-2-3-19-5 38-9-5-11 9-4-31-5 1-1 30-1-50-1 36-2-18-4 37-11-53-4 34 0-22-4 13-24 1-24 25-1-22-1-14-3 9-4-12-5 0-2 10-3 18-9-2-2 13-6-22-4-13-8 36-5 0-10-32-6-9-9 38-14-11-12-9-10-1-12-31-4 35-1-20-10 44-20-2-5-31 0 17-8-27-4-6-1-1-10 2-5 34-1 4-23 0-1-45-5 8-8-10-9 56-24-37-15 18-10 8-16-13-5-6-8 13-17 2-17-36-21-1-9 3-12 32-12-23-2-1-2 17-18-19-8-10-16 8-17 10-9 4-6 26-2-8-2 5-4 1-2 6-3-36-1 36-3-16-7-10-2 11-6-20-5 27-11 7-16-27-42-18-5 25-28 23-4-48-29 27-12-29 14 60 24 6 6 31 1-19 3-23 7 30 5-2 1 3 5 14 13-19 1 16 1-28 4-8 0 37 2 2 13 0 1 9 3-26 5-25 5-1 0 5 1 1 9 5 8 32 3-27 20-11 0-3 5 37 1-22 4-13 2 27 1-18 10 25 5 10 6-33 2-3 3 29 3-46 2 23 2 11 1-14 7-5 1 3 3 4 3-2 13 36 3-40 5 14 7 10 1 10 7-9 3 10 6-5 4-35 1 16 5 29 10-47 0 9 3 14 11-31 0 2 7 34 4 20 0-24 10-1 18 4 0-2 7-5 6-29 4 44 3-6 3-2 6 15 0-15 11 15 2-6 13-16 0-24 4 8 1 24 0-26 2 21 1 6 29-5 13 1 21-34 3 8 1 23 2-27 4 54 0-47 0 35 2-13 2 0 7 6 1-13 1 21 4-2 2 8 2-30 0 13 18-33 6 17 13 28 5 4 15-9 2 5 1-18 3-31 4 38 9 0 3 3 3 4 1-17 2 23 1-20 5-3 0-3 8 32 2-10 7-25 0 18 1-9 4-18 9 12 2 14 1-1 3 12 7-48 1-1 7 57 4-46 5-8 8 10 2 34 7-8 0-34 3 11 2-11 0 31 1-9 0 23 5-10 2 15 1-1 1 0 2 4 10-10 1 5 6-21 1 25 1-22 6-7 4 7 4 1 5 13 3-20 7 3 4-22 2 24 2 12 4-25 3 24 2-29 13 29 3-42 1 29 0-33 3 27 3-2 2 23 5-30 4-5 3-1 3-8 1 9 4 35 1-37 0 27 0 15 3-8 1 7 8 5 8-25 4 27 2-40 5-9 7 33 4-21 2 7 3 14 14-19 1 1 7-6 5-3 1 19 3 12 3-2 3-29 5 31 4-26 9 22 8-2 1-36 10 6 4 45 0-23 2-10 3 4 2-16 4 42 2-7 6-44 4 46 2-9 3-38 0 25 4-15 10-2 18 46 3-41 2 38 8 6 5-54 0 9 1 21 5-20 4 37 6-15 5-23 0 46 1-57 16 26 6 23 9-27 0-13 2 26 10-24 12 14 1 32 15-16 13-36 12 14 4-18 4 12 3 40 3-53 23 15 8 0 10 8 0-2 11 0 10 32 5 4 14-43 4 29 41-23 12 30 13-35 0 18 1 4 6-21 1 33 8-35 9 32 9-46 3 53 4-20 19-2 16 23 9-3 16-47 1 2 16 4 3-11 42 20 85 2 36 29 39-4 68 6 36-40 70 5 0 4 126 18 16 5-147 15-31 39-32-20-9 5-32-14-46 36-6-14-4-18-164 14-72-20-20 12-3-19-3 22-10-15-61 41-61-22-5 5-11 4-7-6-34-23-48 36-22-33-3 47-13-31-41-18-5-5-19 55-6-47 0 7-2-7-13 39-13 3-15-7-12-5 0-19-13-14-15 19-2 8-3 16-2-48-1 2-3 22 0-7-12 32 0-30-8-22-5 28-10 16-1-30-1 21-8-14 0 10-5 19-5-27-3-6-5 4-1 6-2 16-4-9-3-23-1 5-1 14-1-30-5 24-6 28-1-7 0-13-2-24-19 40 0-35-4 1-1 31 0-9-9-26-5 6-3-17-5 13-4 42-1-40-2-10 0-5-1 9-5 22-4-27-12 1-1 11 0 29-4-15-16 11-5 10-3-25-1 12-5-18-4-4-8-2-8-1-5 17-2-5-12 32 0-13-4 13-2-15-24-41-2 44-2-36-3 50-3-36-5-5-5 27-10-27-2 10 0 15-5-27-2-10-2 38-3-32-3 14 0 0-4-2-7-11-8 6-2-2-5-17-4 14-2 30-7-12-2-18-1 31-2-36-7-3-7 36-2-3-4 1-2 17-1-18-6 9-4-8-5-31-1 43-3 6-3-41-16 1-9 20-2 19-1-20-4-5-1 3-1-12-1 17-7 3-3-29-7 6-9 8-1 11 0-18-1 28-15-4-5-30-1 9-2 32-3-24 0 5 0 7-4-37-11 22-2 10-2-23-6 32-7 0-20 4-2-45-15 5-3-7-13 30-11-5-5-8-6 34-8-46-5 34-9-15-2 18-1-34-7-6-10 3-1 28-3 1-7-9-2 20-1-2-1-3-2-32-9 38-5-42-10 16-4 19 0 8-12-23 0-11 0 16-3-3-6 18-17-19-3 24-1-48-1 23-2-16 0 6-1 0-2 36-1-9-10-6-2-36-6 40-3 0-3-10-2 15-7-43-2 52-1-6 0-7-5-26-5-1-1 38-4-38-16 39-18-26-9 0-7 2-18-25-2 35-11-39-1 19-4-10-1 44-1-12-3-40-7 31-19 21-12-20-13-8-4-27-11 54-11-42-3-9-4 46 0-27-3-1-7 14-4 8-5 5-9 8-6-17-4-19-1 72 1 17 1-18 0 5 1-23 0 37 1-44 1 14 1 35 1-18 0 7 1-13 0-15 1-14 1 43 2-26 0-20 18 25 0 0 3 27 1 3 5-44 3 24 0-14 4 27 3-16 4 17 1-13 9-20 9 8 3 9 1-6 7 1 1 4 3 19 3-44 4 11 9-2 2 30 0-16 0-2 4 23 0-9 1 10 2-45 1 13 0 29 0 3 3 1 4-33 2-2 4 24 6-16 1 25 3-29 1 18 1-30 8 30 1 10 1-26 7 33 6-41 2 40 0-7 1-19 2 3 3-5 5-22 7 8 1 20 6 8 7-35 2 25 5 4 8 16 4-11 1-24 2 7 3-2 4 36 1-25 8-22 2 44 2-33 2 22 5-22 5 34 2-3 5-27 11-21 6 30 4 0 3-24 1 45 2-7 6-43 2 17 2-17 1 37 6-4 6-14 0 15 3 6 0-37 6 6 2-4 2 41 3-33 2-6 4 21 5 0 0 19 7-41 5 30 8-20 4 33 5 1 0-50 4 43 0-18 2 6 9 1 2 16 10-8 5-9 3-34 1 53 7-50 2 14 1 7 6 3 1 7 6 15 4-47 10 42 0-6 11-7 0-11 7-8 9 34 0-32 20-17 8 27 5 26 2-48 3 16 1 35 1-40 18 1 10 13 3-31 1 27 2-22 3 2 3 41 7-3 5-44 3 34 9-6 3 0 2 27 2-3 4-26 10-6 1 3 1 14 2-17 0-15 7 49 3-4 1-30 3 14 0-18 5-9 0 6 6 42 16-44 5 28 11-6 16 0 1 8 0-33 10 40 6-1 0-2 3-33 2 12 7 2 10-27 5 4 6 12 3-4 6 45 1-20 0-28 5 29 1 7 6-37 4 35 3-42 9 48 1-31 1-2 3 33 4-5 8-20 2 8 5-18 12-11 5 3 0 34 7 19 1-20 6-4 7 0 9-7 4-15 14-5 3-7 11 30 24-11 0-7 1 0 13 7 12 15 4-18 8-17 3 34 15-26 9 34 34-35 13 33 9-25 7 5 10 34 14-46 6 11 12 11 50-23 10 39 37-32 33 2 62 36 7-45 76 13 96 31 53-37 37-6 109 6 4 22-256 62-31-32-152 40-33 2-11 3-46-29-26 2-4-21-11 18-6 16-165 18-14-7-28-22-19 25-3-15-4 7-1-24-18 16-13 4-25-3-42 10-13-28-20-9-2 3-11 15-7 6-1-28-5 54-1-10-3-26-10 16-12 14-2-52-24 22-2-13-16 47-20-1-4-43-26-3-4 20-12 19-1-5 0 0-4-18-25 4-13-15-4 27-7-33-4 5-4 14-4 1-1-26 0 25-2 0-11-7-2-2-3 5-1-10-2 7-1 26-8-24-7 35 0-8-5-13-12 11-13-27-3 24-4-30-4 27-2-41-2 5-3 29-3 14 0-2-8-9-6-16-6 26 0-4-1-13-6 12 0-8-2-8-1-6-4-17-1 4 0 24 0 24-3-19-1 6-3-27-1 4-1 1-1 7-1 23-5-35-4-6-1-5-2 51-6-22-2-5-1 12-3-5-3-33-2 49-1-33-2-14-10 46 0-39 0 46-2 1-1-54-3 13-6-9-3 17-2-3-5 31-16-23-2-27-4 0-9 51-1-33-9 1-1 25-2 1-1-40 0 46-6 4-2-19-10 16-14-37-2 7-1 25-1-23-8 24-1 5-2-11-6-24-4-9-1 22-2 15-6 6-2-1-2-26-7-18-1 4-2 32-5-11-4 3-1-25-3-7-9-4-11 43-1-5-2-6-2 19-1-5-5 6 0-22-2 23-4-28-3 7-15 8-1 9-1-19-2-27 0 39-6-41 0 41-3 2 0-1-2 4-9-12-2-5-1-9-2-13 0 12-4 29-1-22-3 10-3 12 0 1-1-23-3-24-2 27 0 25 0-50-1 10-2 33-1-10 0-16 0 5-1-1 0 24-1 4-1-6 0-36 0 20-1-4-2 8-1-5-1-18 0 4-1 12-2 5 0 72 0-26 1 20 1-33 0 8 1 14 0-14 0-4 1 36 0-18 1-9 0-12 1 22 1-3 2 14 0-3 0 6 2 2 0-8 1 0 0 10 1-24 1 15 0-37 3 35 0 10 0 0 1-23 3-6 0 14 1 10 1-35 1-9 1 36 1 11 0-24 1 17 0-23 0 9 0 10 1 5 0-33 1 3 0-8 0 27 1-20 0 43 1 0 1-17 2-6 1 14 1-12 0-22 5 2 2-13 0 23 0-5 4-17 2 56 4-42 2 39 2-23 0-5 0 22 5-4 2 8 1-29 9-10 1 4 0 22 1-24 0 1 2 5 4-12 0 35 11-11 8-14 7 32 1-26 5 14 9-7 0 9 15-10 2 14 3-41 2-4 5 25 2-3 0 17 1-24 1 1 3 9 0 22 5-14 1-26 3-5 2 29 0-31 8 13 0-13 1 40 0 9 3-16 1-10 1 32 7-7 8-20 1 4 2 24 9-24 5 7 1-25 11 23 1 9 5-9 3-23 14 15 16-14 0 6 5 16 1 22 1-58 2 10 9 27 7 15 4-6 8-37 13 32 4 9 1-17 1-15 3 3 11 30 0-49 4 34 1-32 2 39 17 11 11-5 1-47 13 53 3-31 1 23 2-8 6-2 1-18 2-19 16 55 7-2 11-7 5 2 28-10 4-26 0-10 2 9 10 10 2 7 8-22 9 48 7-55 14 10 11 10 24 2 18-21 25 15 99-6 11-3 20 1 34 27 65 8 70-38 13 38 22 8 65-38 37 28 70 17 13-46-96 63-126 0-95 42-24-40-13 18-87-5-35 28-3-8-8-35-27-10-42 23-61 0-28-12-5 5-12-12-3 6-14 13-39 11-15-28-1 13-10-1-13-17-3 14-2-14-3 44-12-5 0-1-2 4-17-17-4 6 0-21-2 30 0-4-7-7-12 19-1-27-1-25-8 12-1 43-2-20-2 13-7-23 0 2-3 8-2-22-1 14-2 25-4-44-22 8-18-1-1-1 0 27-10 9-2 6-4-12-18-4-21-28-2 38-2-51-1 32-4-28-1 36 0 6-2-16-2 26-13-30 0 31-5-46 0-11-5 10-5 29-9 11-5-21-13 28-1-12 0-24 0 35-3-11-2-7-9-25-3-14-3 5 0 5-1 24-2 12 0-2 0 0-2-13-1-7-3-3-1 6-1 19-2-16 0-12-1-2-1 27-2 8 0-16-2-26 0 2 0 30-1-26-4-3-6 33 0-41-1 54-1-47 0 41-3 5-1-4-1-28 0 27-2-40 0-7-1 3 0 25-1-15 0-12-3 15 0 16-2-1 0 23-1-43-1 20-1-13-2-15 0-4-1 9-1-2 0 11-3-19 0 20-4 33 0-27 0-14-1 11 0 11-1-10 0 24-1-18-1 3 0 5-1-13 0 24-1-12 0-19 0 38-2-3 0-49 0 20 0 22-2-7-1 3 0 6 0 3-1-25 0 16 0-28-1 9-1 28 0-16-1 21 0-14-1-37-1 20-2 86 1-34 0 33 0-42 0 30 1 4 0-2 0-16 3 28 1-30 0 24 0-15 0-21 3 31 1-43 0 39 0 18 1-2 1-40 0-1 1 28 0-31 0 7 1 31 0-5 1-19 1 5 1-4 0-25 0 22 0 21 0-39 0 8 1 21 1 22 1-40 1 8 0-22 0 11 3 39 0-12 1-25 0-13 0 9 0 38 1-14 1-17 0 26 0-10 0 11 1-4 0-42 0 29 1 4 1-17 0 15 0-7 0 33 1-32 0 11 0-14 1-2 0-15 0 40 2-35 0 34 1-4 0 18 2-10 0-21 2-16 0 2 1 31 0-39 1 24 0 21 1-29 1-10 0 35 1-20 1 15 1 7 0 0 1-30 5 2 2 25 3-8 3 10 3-46 2 3 1 50 1-48 1 15 0 21 2-41 0 50 3-37 3-4 0-10 5 41 1-4 3-18 4 12 1-25 2 37 7-38 0 50 1-19 1 7 4-23 7 32 1-24 2 28 5-19 7 22 4-48 1 25 1-2 5 5 0-31 8 24 0 6 2-22 2-15 5 22 2-4 1-2 3-7 2 22 5-27 0 22 15-26 2 10 6 10 8 33 17-51 13 24 3 16 7 1 3-30 7-13 4 4 8 35 33 16 9-39 9-6 8-1 9-6 12-3 17 7 18 40 7-23 0 8 2 24 13-11 11-46 2 42 5 9 3-18 19-2 10-1 17-18 3-3 29 19 3 17 24-14 7 25 88-43 0 17 73-14 58-9-189 53-29 2-9 48-41-30-51 29-26-29-2-16-8 6-18-1-36 50-24-43-4-11-1 47-53-31-5-16-4 9-2-12-37 22-20 14-26-34-12 38-15-2-1-16-7 32-19-16-5-36-8 33-4 14-3-40-1 22-4 4-9 0 0-24-3-4-6 4-2 36-3 3-5-10 0 4-2-41-4 43-2-32-3 26-1 6-1-15-4 1-1-24 0 43-1-38-1-13-1 54 0-10-1-21 0 12 0-8-2-29 0 54-2 4-2-32 0 18 0-3-1 6-1 1-2-26-1 11-1 23 0-23-2 22-1-44 0 46-2-46 0 36 0-3 0-42 0 0-1 18 0-18-1-1 0 14 0-10 0 42-1-18 0-9 0-15-1 19-1-21 0 6 0 2 0-2-1 5-1 12 0-2 0 0-1 17 0-3-1-2-1-21 0 25 0 18-1-46 0 7-2 1-1 28 0-47 0 53-1 3 0-27 0-8-1 10 0-23 0 48-2-21 0-4 0-15 0 15 0 65 1-12 0 4 1-12 0-10 1 23 0-17 1-3 0 21 0 10 0-12 1 26 0-48 0 0 1-5 0 52 2-8 1-34 1 45 1-7 0-29 0 18 0 8 1 11 1-31 0-14 1 32 0-6 1-30 0-4 0 37 2 2 0-33 1 35 1 2 0 6 0-40 1 40 0-46 1 8 1 21 0 16 0-14 1-24 0 40 4-31 2 8 0-7 1 6 0 17 0-38 1 0 3 43 0 4 3-34 1 30 0-44 1 2 1 28 1 19 1-53 1 33 1 0 2-27 2 41 0 4 0-14 2 3 2-24 1 10 3-6 6 5 3-24 0 23 1-17 0 38 9-29 3 36 2-12 3 1 8-38 23-8 32 4 21 1 0 35 8-17 2 28 18-23 20-24 7 46 11-26 39 29 4-30 13-3 17 20 6-36 27 1 11 42 2 1 8-23-63 65-14-22-42 6-12 44-29-33-30 11-55-6-2 0-15-20-7 0-10 40-3-46-14 35 0-16-3-2-2 5-9-19-1 42 0-14-6-6 0-21-3 5-1 33 0-9-1-35-3 38-2-17 0 2 0 5-2 1-1 1-5 8 0-18-1-10-1 45-1-45-3 14 0-18-1 19-3-9-1 37 0-14 0-14 0-19-1 38 0-20-1 16 0-25-1 20 0 5-1-27 0 4-2 34 0-20-1-25 0 17-3 11-3-1-1 8-1-15 2 76 1-33 1 7 0 9 1-17 1 39 0-6 1-36 0 27 2-27 1 50 2-20 1-32 0 43 0-19 0-23 1 7 0-12 1 0 2 52 0-2 0-9 2 3 1-33 4 10 2 14 1 21 7-47 0 36 1-25 1 33 2-54 5 39 3-6 5-3 1-30 0 9 7 21 10-25 5 3 3 36 1-14 13 28 21-34 105-16 31 5-161 81-5-11-2-21-22-2-7 58-2-51-8 16-10 20-2-8-4-30 0 49-1-37-2 9-2 10-2-3-1-3 0-19-1-9 0 0-4 4-8 11 0 25-1-39-2 9 0 3 0 29 0 61 4 3 1-5 1-10 1-29 0 0 0 30 2-34 0 36 9-9 1-26 2 25 3-18 2-7 3 3 2 51 2-35 7 2 4 3 9 23 16-44 2 10 4-7 3 2 23 8 9-4 122-12-202 59 0 22-23 35 0-1 49 18"/></g></g>
<line x1="429.04" y1="435.1" x2="642.55" y2="320.14" stroke="#000" stroke-width="1.1" stroke-dasharray="3.38 1.46"/>
<rect x="418.7" y="311.8" width="234.5" height="169.1" fill="none" stroke="#444" stroke-width="0.7"/>
<path d="M429.04 480.9v2.7M464.21 480.9v2.7M499.37 480.9v2.7M534.53 480.9v2.7M569.69 480.9v2.7M604.86 480.9v2.7M640.02 480.9v2.7M418.7 472.97h-2.7M418.7 454.03h-2.7M418.7 435.1h-2.7M418.7 416.17h-2.7M418.7 397.23h-2.7M418.7 378.3h-2.7M418.7 359.37h-2.7M418.7 340.43h-2.7M418.7 321.5h-2.7" stroke="#000" stroke-width="0.73"/>
<text x="429.04" y="492.1" font-size="9.5" text-anchor="middle" textLength="5.55" lengthAdjust="spacingAndGlyphs">0</text>
<text x="464.21" y="492.1" font-size="9.5" text-anchor="middle" textLength="16.64" lengthAdjust="spacingAndGlyphs">500</text>
<text x="499.37" y="492.1" font-size="9.5" text-anchor="middle" textLength="22.19" lengthAdjust="spacingAndGlyphs">1000</text>
<text x="534.53" y="492.1" font-size="9.5" text-anchor="middle" textLength="22.19" lengthAdjust="spacingAndGlyphs">1500</text>
<text x="569.69" y="492.1" font-size="9.5" text-anchor="middle" textLength="22.19" lengthAdjust="spacingAndGlyphs">2000</text>
<text x="604.86" y="492.1" font-size="9.5" text-anchor="middle" textLength="22.19" lengthAdjust="spacingAndGlyphs">2500</text>
<text x="640.02" y="492.1" font-size="9.5" text-anchor="middle" textLength="22.19" lengthAdjust="spacingAndGlyphs">3000</text>
<text x="412.7" y="476.37" font-size="9.5" text-anchor="end" textLength="29.5" lengthAdjust="spacingAndGlyphs">−1000</text>
<text x="412.7" y="457.43" font-size="9.5" text-anchor="end" textLength="23.95" lengthAdjust="spacingAndGlyphs">−500</text>
<text x="412.7" y="438.5" font-size="9.5" text-anchor="end" textLength="5.55" lengthAdjust="spacingAndGlyphs">0</text>
<text x="412.7" y="419.57" font-size="9.5" text-anchor="end" textLength="16.64" lengthAdjust="spacingAndGlyphs">500</text>
<text x="412.7" y="400.63" font-size="9.5" text-anchor="end" textLength="22.19" lengthAdjust="spacingAndGlyphs">1000</text>
<text x="412.7" y="381.7" font-size="9.5" text-anchor="end" textLength="22.19" lengthAdjust="spacingAndGlyphs">1500</text>
<text x="412.7" y="362.77" font-size="9.5" text-anchor="end" textLength="22.19" lengthAdjust="spacingAndGlyphs">2000</text>
<text x="412.7" y="343.83" font-size="9.5" text-anchor="end" textLength="22.19" lengthAdjust="spacingAndGlyphs">2500</text>
<text x="412.7" y="324.9" font-size="9.5" text-anchor="end" textLength="22.19" lengthAdjust="spacingAndGlyphs">3000</text>
<text x="535.95" y="307.5" font-size="11.4" text-anchor="middle" textLength="165.44" lengthAdjust="spacingAndGlyphs">CNN: Predicted vs Real (Train)</text>
<text x="535.95" y="504.3" font-size="9.5" text-anchor="middle" textLength="125.87" lengthAdjust="spacingAndGlyphs">Real Generated Power (kW)</text>
<text x="378.1" y="396.35" font-size="9.5" text-anchor="middle" textLength="149.05" lengthAdjust="spacingAndGlyphs" transform="rotate(-90 378.1 396.35)">Predicted Generated Power (kW)</text>
<text x="526.5" y="538.2" font-size="21.6" text-anchor="middle" fill="#000" style="fill:#000;stroke:none">(d)</text>
<clipPath id="ce"><rect x="73.5" y="580.25" width="240.1" height="169.1"/></clipPath>
<g class="sc" clip-path="url(#ce)"><g transform="scale(.1)"><path d="m2648 6004 38-30 5 14 23 8 9-23 54 26 18-15 38 2 31-36 3 47 11-50 55 47 62-30 15 82-57 19-43-39-9 35-1-3-1-25-2 14 0 15-1-43-3 45-2-5-14-30-6-4-3 27-1-23-4 33-8-20-7-14-6 5-4 10-11 11-17-13-2-31-3 43-9-34-4 42-8-32-9 32-14-2-3-8-16-17-20 1-7-25-29 54-16-28-4 21-3-29-10 15-19-35-16 47-9 7-1-22-7 24-13-27-11 21-2-9-24-15-14 23-35-5-27 1-16 12-5-28-17 27-19 2-200 55 40-25 34-3 13 10 6-11 15 21 1 0 16-42 45 17 4 8 10 15 10-8 4-13 18 29 5-36 4 35 0-38 11 45 36-39 22 29 1-8 0 11 0-4 14-17 16 2 2-11 0-5 4 18 1-12 7-3 0 29 2-40 0 48 10 1 2 0 6-36 2 25 15-14 7 25 2-9 2-29 4-2 3-7 3 29 1 0 5 17 1-2 9-10 3 1 1-45 4 59 0-24 4-17 2-16 2 4 5 33 4-6 0-3 5-3 4 18 0-27 6 28 3-27 6-7 4 36 0 8 1-51 2 8 0 32 4-42 7 51 3-13 3 13 2-30 0 23 10-2 4-7 4-16 1-19 1 52 2-14 0-6 12 8 7-22 1 22 5 6 2-1 0-46 0 1 1 46 5-12 2 22 2-40 2 25 3-16 1 7 7-7 2-19 6 43 0-51 1 15 1 0 0 11 1-8 3 12 1-12 2 20 1-11 3 26 4-17 2 9 1 7 0-48 2 7 1 11 9 0 1 28 1-35 2 27 8 6 0-20 3 11 11 19 10-21 4-16 0-18 3 12 4 2 17 37 5-37 0 15 2-7 1-21 7 19 1 23 1-9 5-13 8-16 3 24 1-24 1 49 5-47 15 28 0-7 3 10 18-41 0 32 4 3 4-32 2 51 25-8 15 50-11-32-11 22 0 22-8-10-2 7-3-34-8 45-11-24-23-18-8 0-8 2-5 15 0-26 0-3-1 31-15-34-3 1-7 49-5 8-3-4-12-35-2-19-7 14-6 26-6-2-1-37-7 18-2 28-11-26 0-4-1-12-1-1 0 17-3-8 0 23-5-30-3 41-1 9-2-48-4 41-1-36-11-11-2 16-7 31 0-15-1-8-3 18-5-15 0-8-3 25-3-5 0-20-1 28-3-6-1-12-1-1-1-25-2 7-4 6 0 36-5-19 0 10 0-7-7-32-4 17-1-4-2 36-1-44-1-6-3 24-4-9-4 28-2 6 0-4-4-21-2-24-7 9-4 43-2-35-4 29-3-48-1 52-8 1-1-44-3-12-2 42-2 0-2-7-1-34-2 27-1 19 0-42-3 49 0-16-8-5-1-20-3 39-1-43 0 36-5 0-2-13-2-2-1 17 0-14 0 23-3-7-1-37-6 37 0-1-4-2-3 0-1 7-4-12-1 9-5-30-2-3 0 18-1-30-3-2 0 10-1 14-10 29-8-14-1 11-1-52-1 8-2 42-1 1 0-30-2-2-2 0-1 8-2 19 0-29-1 37-5-3-2-44 0 45-1-17-5 21-2-19-5 0-9 3-2-34-5 11-3 32-11-26-3 25-1-17-3 2-4 9-11-14-12-20-6 11-1-1-1 22-4 2-2-5-1-33-6 9-1 5-1 35-1-34-2-18-12 21-9-4-22-16 0 2-15 17-4 22 0 15-11-2-1-34-16 27-14-11-16-1-27 11-15-17-45-6-1 15-9 13-22 2-37-5-62-48-49 44-39 0-109 6-125-2-42-47-144 13-64 19-405 59 57-11 116-5 248 37 69-11 14-13 80 5 56 1 43-25 32-4 6 36 14-6 137-7 118-20 47 40 20 7 9-59 9 24 0-22 4 4 27 51 11-33 3-5 8-9 1-7 5 11 2 1 2 19 0 11 16 5 3-9 7-26 4-15 1 6 8 7 9 37 3 8 20-11 10-38 7 31 0 0 7 16 12-2 2-3 4-27 1-11 6-11 3 27 0 14 6 12 4-3 3-2 1-31 13 40 1-48 0-5 3 20 5 19 5-18 7 23 2-38 1 43 6-10 2-8 2-25 2 33 1-9 1-24 3 1 1 30 2 0 3-16 4-25 2 47 3-41 26-6 1 34 0 16 6-29 3 16 5 10 0-45 1 27 4 24 5-49 3-2 1 1 3 20 0 28 1-7 1-3 8 4 0-40 2 9 2 9 6 25 8-18 2 24 1-14 4-5 3 22 3-38 1-6 1 9 1-20 2 6 1-2 1 10 2 6 3 16 1 15 3-13 1 8 2-46 1 36 1-40 1 19 2 27 6-1 2-2 2-17 3 21 6-30 4-8 1 18 2 32 0-17 5-1 9 0 0-24 1 12 2-8 0 26 1-44 2 56 3-32 7-21 7 19 1-25 1 11 6 19 1-15 1-3 1 24 8-19 1 6 5-16 7-4 0 51 5-30 2 32 0-1 4-33 5 21 3 3 5-35 1 4 8-14 3 3 3 34 0 5 6-11 4-15 7 7 2 1 0-21 3 17 1 3 8-4 0-10 0-4 10 29 1-27 2 5 2 11 4 25 4 2 3-16 11 22 3-24 26-33 0 36 2-10 1-6 13-1 0-6 28 4 4 40 2-13 32-18 31-17 4 55-66 14-33 37-12-12-38 9-1-11-38-27-17 12-5 16-13-14-1 5 0-33-18 49 0-23-2-11-5-3-5-9-1 44-1-1-19-4-2-26-6-2-4 28-4-33-3 8 0 5-2 15 0-29 0 18-9-23-4 41-3 6-4-26-8-17-7 43-2-24-2 29-2-21-7-21-3 10-5-12-1-9-3 38-4 8-1-17-4-4-1 2-8 11-2 5-3-38-9 20-4-4-1-10-2 25-1 11-3-36-7 36 0-2 0-10-3-2-3-11-3-20-2 47-1 0-1-46 0 12-7 32-1-19-2-25-8-5-12 20 0 26-1-18-14 18 0 3 0-25-14 10-2-12-4-9-1 27-2-38 0 23-1 25-7 7-1-44 0 20-9-5 0 24-2-10-1 6 0-41-2 42-1-48-2 49 0-22-1-10-3-3-1 36-6-40-1 17-1 17-4-36-1 27 0 2-1-17-2 5-3 0-3-8-1 32-1-9-2-1-2-15-1-8-8 9-3-18-1 31-9-4-1 2 0-19-6 17-12-28-1 29-2-9-2-5 0 7-1 1-3-20-5 22-3 27-24-10-9-32 0 4-28 35-2-44-2 19-5 19-7-23-8 6-3-12-1 34-4-55 0 50-2 4-7-23-2 8-26-22-2 15-11 11-1-7-2-17 0-8-19 3-25 44-4-14-10-34-2 4-1 9 0 4-15-15-11 9-13 9-4-1-6-23-4 47-5-4-1-15-2 3-10-21 0-10-9 47-10 3-24-5-2-32-26 31-20 6-25-26-12-17-69 36-178-18-28-2-93-25-30 12-74 31-118-21-4-2-95 8-59 15-16-29-83 34-33-11-22 17 5 15 176 17 116-27 13 50 12-48 16-3 47 32 23 3 19-23 117 6 42 28 217-19 7-4 27 17 4-29 0-13 13 2 38 55 2-36 5-18 32 17 21 16 10 11 30-7 10-31 1 29 6 0 1-19 11 37 1-50 12 35 11-26 3 24 5-2 5-19 1 7 17-16 17 2 0 3 12 11 6 28 3-16 2-8 5-22 6 29 1-9 0 7 5-5 1 3 0 16 5-22 3-4 8-7 6-5 16 29 1 13 11-3 8 2 3-4 1-23 1 35 0-41 1 22 1-33 2 19 0 24 6-12 1-1 3 9 15 0 4 4 2-3 4 7 0-21 3-18 6-14 1 27 1-11 10 21 7 17 3-12 0 7 3-47 1 10 6 10 4 27 1 2 10-44 2 45 1-26 16 19 4-14 8-8 2-23 0 49 3-32 2-13 2 11 8 34 6-37 1-3 1 38 0-18 4-9 0 10 1 15 2-33 1 36 3-5 1-12 4 21 1 6 4-18 16-13 5-26 1 39 2-12 1-22 3 23 6-10 1 0 1 19 1 1 1 4 5-21 5 20 2-37 1 14 1-20 2 45 0 4 4-9 3-38 2 29 2 20 0-7 4 0 2 13 1-30 5 25 0-40 4 22 5-34 2 46 0-39 1 7 5 14 2 0 2 2 0-13 2-15 12 7 4 10 4 1 3 39 4-3 3-40 0-15 1 3 2 34 10 6 12-26 2 26 0-25 8 31 13-11 1 12 5-38 2 11 0 6 8-2 3-17 12 48 2-13 8-35 3 4 17 43 7-31 13 21 1-29 29 16 13-11 7-18 26 23 12-11 71 22 45-21 78 47-29 18-52-6-9 17-75-19-11 3-28 35-58-12-44-33-4 39-51-25-9 2-30 27-8-46-1 1-2-3-1 2-1-6-1 19-1-16-8 29-7-20-2 36-4 11-3-27-1 0-8-32-11 46-4-12-13 14-6-10-8 20-2-36-1-14-5 9-13-15-6 26 0-28-3 2-4 42-6-4-8-2-2-12-3 12-1-4 0-4-7-4-1 23 0-40-5 34-5-38-1 21 0 33-4-18-2 8-3-21-3 11-3-21 0 5-2 14-1-21 0-12-12 0-1 28-8 7-3-25-1 23-3-28-2 44 0-39 0-14-2 47-1-27-1-3 0 14-4 26-4-29-6-17 0 23-3 3-11 19 0-11-4-34-2 0-2 46-1-47-5 9-4 11-1-19-1 23-1-12-4 27-1-39-6 9-4 39-4-21-4-5-2-15-2 6-4-21-3 18-1-6-2 12-1-2 0 28-1-50-2 2-2 28-4-3-3-12-2 31-1-47-1 3-10 32-4 17-10-38-3 42-9-14-1-25-9 11 0 25-3-3-6 7 0-33-2-1-5-19-6 47-1-51-3 45-10-18-1-24-9 42-1-32-9 9-8 25-4-45 0 17-1 12-2 21-5-3 0-10-4-16-2 3-5 2-4-14-3 27-2-14 0 22-4 1-4-26-2 2-2 5-6-20-2-5-10 47-4-6 0-44-3 22-4-20-5 51-6-14-2-5-2-38-16 21 0 35-19-23-10-10-2-18-5 26-1 19-2-15-1-8-2 0-1 29-18-24-6 13-6-6-1 15-3-29-8 16-4 17-9-1-2-21 0-17-1 0-11 4-3-1-18 8-8-4-13 7-9 10-6-40-28 44-102-2-4-1-12-6-22 7-28 5-20-18-1 1-30-30-68 49-86-49-67 22-100 34-81-14-22 11-26-33-20 34-25-14-91 18 86 46 42-8 40-18 48-1 38 17 16-19 19 11 12-7 19-2 9 30 9-25 3-12 54-13 17 40 12-40 20 16 13-5 37 43 20-10 58 12 11-50 4 38 9-34 0-9 14 51 1-12 17 6 1-7 42-37 7 33 2 7 28-17 21 8 4-14 0 30 17-27 17 21 3 6 11-25 18 18 7 12 3 2 10-9 2-6 4-9 1 3 9 5 0 11 7-26 3 28 0-7 14 7 6-4 1-27 1-1 20 18 11 10 2 7 5-42 12 14 5 28 1-3 5-37 0 18 4-7 9 29 13-52 3 0 2 47 7-1 9-13 4-8 1 6 0-34 1 57 1-18 5-15 2 16 4-3 2-7 7-5 0 13 2-3 8-13 2-2 2 3 6 35 4-25 6-27 1 20 0 8 3-6 2-23 1 18 3 20 0-15 5-3 5 3 0-20 8 37 0-15 1-13 1 33 1-39 4 0 8 18 0 26 15 0 2-32 1 31 1-30 6-4 1 26 1-12 3-34 7 20 2-15 6 18 5 27 3-44 3 42 3 9 6-41 13 1 1-12 6-1 0 41 1-25 1-14 0 3 6 12 1 10 3-16 2 11 0-27 19 1 1 11 2 31 4-19 1 22 2 10 3-37 1 9 3-12 0 8 11-16 2 2 5-2 2 40 1-2 2-6 3 16 5-4 2-37 6 16 12 20 1-8 8 5 10-29 16-3 0 8 5-11 8 37 9-43 0-7 5 12 3-5 6 30 1-6 4 0 0 9 3 1 3-40 3 0 8-1 4 24 2 14 3 2 1-21 5-18 3 19 1-9 2 42 2-20 1-8 3-20 17 19 2-19 3 19 3-2 7 29 10-1 2-28 22 16 34-32 33 34 2-33 74 50 41-29 108-13 115-14 94 100-22 18-100-47-127 4-71 11-32-2-1-5-27 34-73-27-35-9-6 18-36-27-5 49-29-15-14-43-12 16-11-7-7 31-7 10-23-26-3 16-3-27-1-13-6 41-12-16-23 12-1-1-32-8-1-25-2 48 0-46-4 20-5 0-1-21 0 50-7-43-1 2-1 15-4-23-2 13-1-5-6 36-2-40-2 0-2 32-8-19-3 26-6-20-4-11-6-4-1 28-5-29 0 35-1-30-6 22-1-36-3 9-7 32-1-22-8 18-6 3-13-43-2 54-3-33-1-9-2 29-5 17-1-22-4-33-1 31-2-27 0 50-1-11-1 4-1-43-2 9-7-5-9-6-4 42-2-45-1 29-1 14 0-19-5 9-8-1-5-5-3 29-1-47-1-7-3 25-11 13-6-29-2-4-8-6-1 6-2 48-3-5-6 3-4-18-1 4-1 5-5-8-3 6-2-25-5 29-2-42-10-4-1 13-5 19-4 6 0-1-2-28-1 42-16-15-2-1-5-3-3 19-2-35-3 39-7-40-5 6-5 15-25 14-1 1-4 3-3-50-4 51-2-17-13 16-5-16-10-26 0-2 0 24-12-1-3-15-31 23-1-20-4-19-1 52-1-15-15-23-3-11-14 29-8 21-9-36-2 13-3 2-2-12-4-4-4 1-8 33-16-36-7 7-6 20-3-28-9 20-19-8-2-12 0 39-6-12-10-11-2 8-48-2-13 10-3-41-50 45-3-11-42-25-8 11-75-11-21 11-4-2-2 27-20-42-44 10-25-1-30 25-19-45-12 48-49 1-12-36-23 18-50-20-87 21-17-10-29 90 13-25 26-6 76 7 11 18 44-32 2 32 17-35 3 4 4 32 13-3 2-22 18-17 9 44 0-3 1-3 15-18 22-11 3 24 30 10 25-10 1-24 26 39 30-18 13 5 7-33 12 39 33-38 19 24 2-8 16 4 15 2 17-18 15 39 13-31 1 35 20-2 1-27 16 0 15-16 2 8 6-15 7 55 9-32 29-21 6 28 0 26 6-43 2 21 27-23 6-14 8 49 1-36 6 11 9 10 11-10 2 26 4-37 6 28 0-11 3 27 13-5 1 5 1-24 1-20 16 9 4 11 5-10 25 19 0 8 8-19 1 23 4-44 3 49 6-27 6-25 3 47 0 0 5-19 1 8 11-9 0 18 4 5 1-4 20-15 0 8 20 2 4-25 3 24 13 4 4-42 6 31 6 8 5-29 0 23 1 6 6-26 7-21 0 48 1-43 21 0 0 52 7-36 0-13 2 1 4 45 5-44 2 2 0 0 3 36 20-36 2-12 6 25 2-5 0 2 2-11 6 45 1-46 4-7 5 55 4-22 33-23 3 0 15 11 1 17 2 9 1-5 3-30 1 16 5-12 12-7 3 17 1-28 6 37 6-7 2 12 22-5 2-36 3 49 1-21 20 28 1-53 5 1 8 23 0 15 2-13 4-3 1-13 10 19 1-21 14 35 3-35 8 27 2-12 1 8 12-6 2 26 2-40 1 27 6-41 6-1 1 36 21 0 1-31 42-4 5 33 10-30 4-2 15 1 39 1 83 29 104-18 43 10 32-15 33 26 29-5 117-6 35 33-3 25-8 22-69-4-64-23-24 38-34-29-60 26-2-45-33 15-28-20-25 36-26-30-44-5-35 42-33-11-24 19-24-30-23-14-24 32-8-34-14-2-3 16-8 5-13 7-20 19-55-42-13 24-7 7-11-36-8 47-13-28-14 25-10-6-7 3 0-28-11-8-5-9-2 11 0 27-15-34-5 41-5-9 0 11-13-31-2 8-18-20-6 33-4-20-7-13-3 8-1-14-12 18-13 2 0 10-11 15 0 7-5-14-1 10 0 0 0-27-4 3-22 19-2-33-5 8-8 17-12 20-4-6-1-49-9 6-1 25-5-20-12 31-9 4-1-21-6-9-3 23-3 3 0-14-8-14-3-11-8 28-5 17-6-33-1 12-7 1-7-6-1 33-1-18-5 20-1-52-1 23-8-12-2 21-3-32-6 37-2-30-4 19-3-21-3 46 0-57-8 37-2-29-4 31 0 18-1-54-1 48-3 5-1-39-4 28-2-11-11 13-5-6 0-32-2 43-11-11-2 17-1-21-4 18-1-29-5-3 0 13-3-5-2 15-13-9-20 4-4-2 0-34-3 6-2 11 0 7-5-27-6 10-3 1-1 27 0-11-3-26-8 43-10-39-1 23-11-13-6-18-1 50-3 5-12-6-2-43-5 41-7-46-4 11-9 37-5-38-8 27-5 8-16-5-7-13-2 18-12 1-3-21-1-11-1 11-8 11-6 15-6-37-4-7-2 21-4-9 0-17-1 43-10-45-3 50-6-35-6 3-4 33 0-21-21-11-10 20-32-24-2-6-3 47-39-38-8-8-2 9-13 23 0-3-4 0-2-15-26 5 0-22-1 26-8-33-1 54-2-26-10 30-1-18-28-39-6 47-4-8-12-27-1 28-23-13-1 30-15-31-4-8-2 22-7-11-3-30-2 57-1-53 0 20-3 0-30-25-12 8-9 2-5 48-2-35-9 17-6 4-4-38-1 31-24-5-12-31-4 50-3-15-18-8-2 19-25-34-16-4-5 27-11-5-4-16-2 25-11-2-66 72 28 9 63-3 5-18 3-7 16-16 19 44 3-31 0-13 11 25 0 11 10-19 0 7 3-21 1 14 1 20 1-2 0-32 1 6 2-21 2 34 5-26 3 3 13 30 12 5 18-7 0 7 1-15 3-30 9 6 4 13 2-21 10 26 3 0 1-21 5 38 3-33 4 43 8-17 0-15 3 18 8-26 0-11 1 48 5-10 0 12 8 4 0-6 14-7 2-3 0-32 5 38 0 11 18-50 2 48 5-22 8-11 4 4 4-22 3 22 5 13 1-33 5-8 1 8 4-6 10 2 7 27 3 0 0 20 5-12 12-1 0-16 4 5 8 30 2 0 2-9 3-25 3-13 3 4 5-2 2 33 8 9 13-36 1 38 4-7 3 1 4-24 1 12 5-19 4-17 4 56 0-51 1 34 2-35 8 32 2 3 11 1 0-25 2 31 1-38 6-6 6 55 2-12 7-32 2 20 8 21 8-9 8-1 22 0 5-24 4 17 1-3 1 21 4-43 2 6 3 20 14-34 11 16 17 5 9 0 6-7 12 29 1-37 0-5 2 43 6 9 2-48 7 38 4-26 7 7 9-15 5 9 0-14 9 18 1-11 10-6 0 47 12-52 4 20 2-1 3-20 0 12 1 36 7-26 6-1 1-21 4 0 11 45 2 0 4-10 3-4 10 1 0-36 5 57 1-16 6-18 11-5 10-13 6 23 3 24 7-17 4-6 3-11 2 40 5-15 1-26 6 5 1-3 0-11 6-5 20-1 12 31 1 0 5-31 0 39 21-21 2 11 2-8 5 11 2-13 1 22 7-16 5-28 12 11 9 18 26-8 4 21 5-41 11 48 4-39 0 0 7 47 12-45 0 26 18-22 27-10 11 44 28-1 18-29 9 7 7-6 11 14 47-22 5 2 3 41 14-13 4-35 3-5 14 24 38-20 46 10 24 24 25-4 48-11 1-24 49 41 38-15 45 5 61 13 40-37 3 28 103-23 128-8 52 0-145 67-14 4-6 13-189 2-28-14-3 25-41-38-175 42-8-44-3 37-49-10-85-26-22 24-8-14-21 19-35-20-17-1-6 25-1-4 0-11-18 37-4-23-37-3-8-24-21-9-37 56-27-14-14-29-52 7-11 6-8-23-1 9-1 26-1 0-4-7-7 9-4 9-8-49-13 16 0-7-10 21-3-3-2-4-3-6-9-5-4-7-7 11-22-6-1 11-2-19-11-1-3 5-1 28-9 12-12 9-1-2-6-23-5 22-7-51-5 30 0-1 0-26 0 36-6-36 0-1-17 41-13-13-2 7-6-35-5 34-1 7-7 3-5-30-1 5 0 32-2-52-13 34-1-11-6 7-8-22-6 40-1-45-2 30-9-4-2 23-7-51-1 18-4-21-2 7-7 39 0-22-11 12-2-14-6 26-1 9-6-25-3 18-3-10-2-20 0 22-1-3-3 4-4-30-5 15 0-20-2 21-5 6-3-8-12 21-1-37 0 45-16-2-3-41-3 1 0-13-1 29-1 27-5-42-1-3-3 23-12-27-9 34-7-24-2 21-2 7-7-8-11-36-1-1-6 4-1 28-6 26 0-49 0 45-2-10-1-7-4 11 0-27-1-5-4 30-3-10-5-16-5 30-4-21-4-22-1 48 0-16-1-26-8-7-6-4-3 29-10 25-3-6-3-43-11 46-1-13-1-11 0-28 0 3-1 39-2-16-1 2-1-24-4 10-3 8-1 6 0 8-8-22-2 17 0-6-7-15-5-2 0 34-3 4-7 1 0-46-1 17 0-1-1 33-1-40-2-8-3 32-1-26-3 4-6-13 0 37 0 15-9-18-4-2-1-4-2-17-3 40-2 4-1-5-8-8-4-16-6 19-1-21-3-18 0 52-2-38-5 31 0 2-4-31-5 2-3 26-13 8-1-37-1-14 0 46 0-14-2-38-1 52-1-42-11-5 0 28-5 1 0-26-7 28 0 6-1 12-10-54-5 38-1-6 0-19-3 3-4 14-2-23-10-3-4 43-11-34-6-2-3 40-13-10-7-41-2 38-14-37-9 28-14 23-6-10-9-13-5-22-1 23-3 6-4-32-1 4-9 42-1-44-2 5-4 46-1-27 0 8-1-38-3 12-2 37-1-3 0 11-4-24-1 19-2-38-5 37-2-35 0 4-3 25-2-46 0 45 0 8 0 3-1-27 2 70 2-23 3 37 2-4 0-41 5 29 1 19 1-42 1-12 2 46 1-32 0-3 6 37 1-49 5 41 0 15 1-34 0 27 1-11 1-3 6 21 1-14 1 12 7-8 3-3 3-31 2 8 1-1 2 23 1 13 8-8 1-30 10-3 0 33 4-15 7 24 1-49 12 34 6-22 3 10 3-1 9-4 0 19 0-1 2-13 3 9 4-36 2 29 1-12 5-10 3 22 1 10 4-13 0 7 1-27 0 48 0-50 2-2 10 44 3-37 2 29 4 5 2 2 1-45 5 2 2 44 2-19 7-7 3 23 6-36 1 36 0-19 2 10 0-29 1 21 5 17 2 4 2-18 0 26 3-54 2 3 2 38 1-31 1 2 7 35 3-3 2-20 2 1 5 28 1-23 3-5 3-7 2 7 5 8 0-15 5-16 3 43 2-40 12 39 2-9 6-37 4 38 4-23 4 6 0 13 1 12 1-39 0 7 3 21 2-30 0 50 1-7 0-28 15 26 0-4 1 8 5-53 4 20 5 13 1 11 2-17 4 4 6-21 1 3 15-7 0 22 2-12 7-13 2 42 3-30 2 19 3-5 11 21 3-7 4-39 1 48 2-26 3-24 0 38 5-33 2 14 1 3 4-12 8 22 1 7 3-32 2 35 7 8 6-26 1 4 6 6 1 13 16 6 6-29 12 27 7-5 8-32 12 35 2-6 7-1 1-10 24 3 4 2 1-27 1 2 4 12 1-2 4 0 0 6 1 10 1-19 8 38 0-49 1-10 3 38 4-30 15 18 1-4 7-2 10-18 1 15 5 23 15 9 3-24 3 6 22-9 2-11 6 42 0-31 16 2 7 20 1-22 1 20 11-16 9 6 2 2 9-34 17 50 18-44 2 10 12-7 22-9 2 40 3-16 8 2 8 27 6-30 1-22 1 4 5 19 1 8 0 18 7-45 8 32 2 11 4-3 15-45 2 40 1-13 13 1 12-26 8 36 9 5 0-25 6 16 50 21 3 2 3-29 6-27 18 20 57-15 15 18 67 18 59-34 78 49 165-33 119 12 70 15 10-39 67-9-222 61-50 10-13 26-95 10-127-39-16 10-68 28-58-48-93 23-36-8-46-8-23 19-18 20-44-29-6-1-7-8-2 9-24-17-5 31-5-20 0 30-1 6-20-24-3 13-9 14-7-6-3-38-8 45-6 3-37-51-10 43-35-35-1 22-19-24-5 37 0-28-1 27-6 8-1 0-2-31-41-16-1 33-6 13-4-47-9 15-12-21-6 34 0-16-7 34-6 4-28-9-18 12 0-55-1 0 0 17-1-14-2 22-6 19-18-46-5 8-2 28-1 0-10 8-2-3-2-28-2 5-2-18-3 13-3 20-6-16-13 29 0-12-3-35-3 50-4-46-1-4-9 52-1-44-12-1-3 49-2-50-1 34-1-16-3-13-4 29-1-25 0-3 0 3-4 17-7-3 0 26-6-24-3-19 0-6-11 11-3 4-4-17-1 11 0 7-7-9-4-3-1-2-5 39-2-32-2 23-2-23-21 14-1 2-4-23 0-4-2 2-2-5-4 10-7 37-5-6 0-21 0 20-11-42 0 8-2 42-6-50-24 54-1-24-2 2-2-23-2 14-3 19 0 5-2-37-1 10-1-7-5 22-2-15-4-12-1 17-5 9-1-34 0 40-9-20-10 18 0-33-1 31-1-19-5 32 0-33-5 30-1-22-1 17-4 15-8-28-1-18-1 34 0-13-2 6-1 10-1-5-1 2 0 14-4-1-7-30-1 19-4 3-2-49-2 4 0 26 0 26-2-6 0-25-2 26 0-36 0 29-1-26-3-13-5 7-4 30 0 11-2-4-1-16-1 11-1-35-2 29-1 20 0-1-1-13 0-10 0-29-3 17-4 10 0 0-1-13-2 5-2 15 0-14-1 15 0-6 0 14-1 9-1-31-2 11 0-16-1 25 0-10-1-32-1 55 0-59-1 26 0-23-1 30 0 22-1-12-3 6 0-39-1 24-1-26-2 7 0 5-1-6-2 65 1-2 1-4 0 26 1-16 1 12 0-17 1 28 0-36 0 28 1-35 0 44 1-39 1 35 1-16 1 18 0-43 0 24 1 19 1-35 1 15 0 29 0-7 2-4 1-6 1-13 0 29 1 1 1 0 1-25 0-19 0 26 1-33 0-1 3 55 0-3 0-43 1 47 2-2 0-55 1 49 1-41 3 21 0-16 0-9 1 7 0 46 3-8 1-28 2-21 0 41 1-2 1 16 1-34 1-1 1 0 1 2 3 12 5-4 2 11 1-40 0-1 0 32 2 4 2 19 0-24 1-25 1 29 2-22 1 44 1-20 1-11 0 28 4 2 7-13 9 15 0-37 13-8 2 20 2-29 1 20 0 15 1-9 2-25 18 11 4-6 1-9 0-2 4 32 3 1 3 4 4 7 0-22 3 11 1 11 2-20 6 31 2-13 4-39 2 10 2 3 0-13 6 12 2 32 6 5 5-36 1 16 11-32 3 3 4 54 0-35 2 18 9-9 0-6 1 7 2 5 1-18 9 19 1-37 8 57 1-25 1-31 5 38 27-7 1-2 14-5 15 18 2-34 3 43 9-50 9 29 16-2 1 15 4-40 1 20 3-22 18 2 11 51 7-50 2-5 45 48 2 8 3-23 2 21 1-32 25 0 2-12 11-9 6 14 5 36 3-35 20 2 0 20 0-27 8 45 5-54 14 49 1 4 6-44 14 2 3 8 0-6 11 0 5-4 35 6 42 29 58 7 23-36 13 22 78-19 75-16 135 15 67-3 7-1 61-10 127 9-448 50-47 21-108 18-82-25-18 23-33-34-9 47-3-35-20 13-39-27-4 27-99 9-30-16-7-8-32 25-4-19-12-14-11 9-1 19-12-27-3 5-16 17-9 3-52 13-1-12-3-2 0 2-2-18-5-17-2 42-4-42 0-1-19 16 0 6-2 10-16 15-3 9-2-37-12 37-2-19-1-35-2 28-10-20-6-11-2 40-1-24-6 28-1-6-1-18 0-20-4 42-1 13 0-32-11 11-2-20-7 12 0 25-1-21-2-10-1 24 0-41-1 9-3 13-1 33-2-8-1-11-1-25-2-12-1 42-2 12-2-22-1-24-6 20-1-11-1-13-2 45 0-6-1-9-2-2-1 1-1-31 0 28-1 12 0-29-1-13 0 13-1-9-1 15 0 9 0 21-2-15 0-4-1-2-1 19 0 3 0-1-1-14-1-33 0 43-2-31 0-14-1 28-1-26-1 12 0 29-1 14-1-30-1 9-2-35 0 47-3-29 0 28 0 1-1-19-1-8 0-7-3 5-1 17 0-4-1 16 0-2-1-27 0-15-1 4-1 28 0 7-2-8 0-10-1-13-1 32-1-32 0 92 0-44 1 12 0-14 0 27 1-5 1 12 1-3 0-9 0-4 1 22 0-22 0 18 1 1 0-24 1-9 0 18 0 34 1 0 1-8 0 3 1-43 1 22 1-24 0-4 1 55 2-33 0 5 2-1 0 2 1-13 0-3 0 20 1-18 0 33 1-10 0 18 1-7 0-9 1-20 2 29 0-20 0 13 1-34 2 4 2 1 1 8 1-7 0 44 1-6 1-33 0-1 2 31 2-3 3 8 1-12 0 14 0-5 1-35 2 29 0-35 0 40 0-35 1-15 1 42 2-25 1 16 3-8 0 7 2-30 0 51 1-22 0-20 1 2 1 23 2-18 0 15 1-24 0 17 1 3 1 9 0-31 2-6 3 49 2-35 1-4 1-12 2 47 1 1 1 8 2-53 0 22 4 25 2-18 2-12 2-1 1 17 1 1 1 9 3-32 8 10 1 7 2-27 2 3 4 35 1-27 1 12 2-22 0 29 1-29 3 28 0-32 5 45 8-15 5-26 3 33 8-9 17 6 1-28 4 19 19 0 24-13 35 24 35-29 31 14 132 30 5-40 10 10 50 13 62 4 32-31 20 41-77 32-15-2-43 35-160-53-38 20-26-12-27-2-10 29-1 20-3-54-26 57-10-14-47-5 0-26-15-1-5 21-3-6-1-18-3 24-6-31-5 46 0-42-7 3-4 42-7-36-3 23-4 18-1-8-3 9-7-57 0 33-10 4-2 20 0-17-5-14-1-5 0 22-1-16-1-11-3 16-1 0-6-8-1 13 0-1 0-3-1-16-1-9-2-4 0 49-1-36-1 10 0-25-1 22 0 26-1-32 0-19 0 6 0 23-2-26 0 28-1 26 0-55 0 49 0-2 0-36-1 41 0-35-3-13 0 47-1-10 0-37 0 16-1 0-1-3-1 5 0 1-1-10-1 31-1-39 0 2 0 21 0 20-1-12-1 4 0-36 0-5 0 19 0 24-1-23 0-12 0 29-1-5 0-1 0-15-2 3 0 5-1 7-1-4-1-25-1 6 0 8-1-1-1 33 0 5-2 0 0-2 0 11 1 29 1 0 0 10 1-30 0 3 0 13 1-4 0-5 1-1 0 11 1-29 0 41 0-35 2-3 1 48 0-34 1-16 0 47 2-14 0-10 0-5 1-10 1 44 1-28 1-5 0 8 2 17 2-35 0 49 3-52 2 19 1-10 0 37 0-27 3 0 1-6 0 23 3 0 1-3 1 8 0 7 2-44 1 20 0 11 2-25 0 3 1 39 0-4 1 3 1-32 2 32 0-13 2-37 1 0 2 4 2 42 0-4 1-42 4 1 2-4 0 9 3 21 1 21 0-53 2 25 2-5 0-19 4 19 5 2 1-13 2-1 2-6 0 50 10-11 4 11 5-25 3-6 13 34 49-35 4-15 33 34 5-13 72 30 16-9 24-15 130-30-137 69-90 6-86 11-34-8-1 14-19-37-4 38-8-11 0 28-13-18-3-14 0 14-4 1-2 16-2-33 0 31-1-2-2-26-2-22 0 55-1-42 0 19 0 15-2-27-1-16 0 42-2-42-1-3-2 8-3-5 0 8-2 11-1 19 0 11 0-49-1 28 0 21-1-7-1 5-2 2-1-53-1 43 0-10-1-2-1 24 0-6-2-37-1 42-2-11 0-40-2 29-1 8-1-13-1-19-1 8-1 41 0-25-2 2 0 4-3-35 4 103 1-47 0 25 0-24 1 23 0 17 0-19 1-14 2 33 1 0 0 14 1-14 0-40 1 30 1-13 2-6 0 39 2-18 1 4 0-32 3 7 1 33 0-32 5-5 0 31 2 19 1-2 11-20 0-15 1 16 1 17 0 3 5-58 1 33 3 19 16-28 101-9-67 51-21 6-10-10-21 5-6 40-2-8-13 1-4 11-6-4-4-32-1 39-1-28-1 26-5 4-1-39-5-11 0 27-1 2 2 68 0-22 8-21 19 1"/></g></g>
<line x1="84.09" y1="711.3" x2="302.7" y2="587.94" stroke="#000" stroke-width="1.1" stroke-dasharray="3.38 1.46"/>
<rect x="73.5" y="580.25" width="240.1" height="169.1" fill="none" stroke="#444" stroke-width="0.7"/>
<path d="M84.09 749.35v2.7M120.09 749.35v2.7M156.1 749.35v2.7M192.1 749.35v2.7M228.1 749.35v2.7M264.1 749.35v2.7M300.11 749.35v2.7M73.5 731.62h-2.7M73.5 711.3h-2.7M73.5 690.98h-2.7M73.5 670.67h-2.7M73.5 650.35h-2.7M73.5 630.03h-2.7M73.5 609.72h-2.7M73.5 589.4h-2.7" stroke="#000" stroke-width="0.73"/>
<text x="84.09" y="760.55" font-size="9.5" text-anchor="middle" textLength="5.55" lengthAdjust="spacingAndGlyphs">0</text>
<text x="120.09" y="760.55" font-size="9.5" text-anchor="middle" textLength="16.64" lengthAdjust="spacingAndGlyphs">500</text>
<text x="156.1" y="760.55" font-size="9.5" text-anchor="middle" textLength="22.19" lengthAdjust="spacingAndGlyphs">1000</text>
<text x="192.1" y="760.55" font-size="9.5" text-anchor="middle" textLength="22.19" lengthAdjust="spacingAndGlyphs">1500</text>
<text x="228.1" y="760.55" font-size="9.5" text-anchor="middle" textLength="22.19" lengthAdjust="spacingAndGlyphs">2000</text>
<text x="264.1" y="760.55" font-size="9.5" text-anchor="middle" textLength="22.19" lengthAdjust="spacingAndGlyphs">2500</text>
<text x="300.11" y="760.55" font-size="9.5" text-anchor="middle" textLength="22.19" lengthAdjust="spacingAndGlyphs">3000</text>
<text x="67.5" y="735.02" font-size="9.5" text-anchor="end" textLength="23.95" lengthAdjust="spacingAndGlyphs">−500</text>
<text x="67.5" y="714.7" font-size="9.5" text-anchor="end" textLength="5.55" lengthAdjust="spacingAndGlyphs">0</text>
<text x="67.5" y="694.38" font-size="9.5" text-anchor="end" textLength="16.64" lengthAdjust="spacingAndGlyphs">500</text>
<text x="67.5" y="674.07" font-size="9.5" text-anchor="end" textLength="22.19" lengthAdjust="spacingAndGlyphs">1000</text>
<text x="67.5" y="653.75" font-size="9.5" text-anchor="end" textLength="22.19" lengthAdjust="spacingAndGlyphs">1500</text>
<text x="67.5" y="633.43" font-size="9.5" text-anchor="end" textLength="22.19" lengthAdjust="spacingAndGlyphs">2000</text>
<text x="67.5" y="613.12" font-size="9.5" text-anchor="end" textLength="22.19" lengthAdjust="spacingAndGlyphs">2500</text>
<text x="67.5" y="592.8" font-size="9.5" text-anchor="end" textLength="22.19" lengthAdjust="spacingAndGlyphs">3000</text>
<text x="193.55" y="575.95" font-size="11.4" text-anchor="middle" textLength="209" lengthAdjust="spacingAndGlyphs">InformerLite: Predicted vs Real (Train)</text>
<text x="193.55" y="772.75" font-size="9.5" text-anchor="middle" textLength="125.87" lengthAdjust="spacingAndGlyphs">Real Generated Power (kW)</text>
<text x="38" y="664.8" font-size="9.5" text-anchor="middle" textLength="149.05" lengthAdjust="spacingAndGlyphs" transform="rotate(-90 38 664.8)">Predicted Generated Power (kW)</text>
<text x="187.3" y="806.8" font-size="21.6" text-anchor="middle" fill="#000" style="fill:#000;stroke:none">(e)</text>
<clipPath id="cf"><rect x="412.5" y="580.25" width="240.7" height="169.1"/></clipPath>
<g class="sc" clip-path="url(#cf)"><g transform="scale(.1)"><path d="m6308 5911 1 42 23-49 12 119-39-45-49 36-70-39-9 16-62-13-82 13-11 28-15-35-4 1-46 38-26 8 26 37 5-18 57 23 35-2 26 9 18-36 13-8 15 24 2 22 25-22 5 13 15-39 10 31 0 17 59-8 5-18 7 17 12 8 27-5 2-45 3 20 7 10 5 0 9 4 10-31 2 12 24-13 8 8 18-16 5 53 11 58-24-13-20-9-3-9-10 10-5-4-2-19-1 35-17-26-11 16-8-9-4 33-4-45-16 45-4-28-22 15-4-32-5 21-1-2-9 16-8-2-18-41-1 10-3 37-4 0-6-44-1 37-1-28-2-6-3 21-2 27-5-26-6-31-2 13 0 23-2-23-15-14-6 5-2-3-14 57-4-18-11-12-25 29-7-1-6-13-7 1 0 6-9-36-3 26-20 10-10-23-14 3-6 28-19-4-4-49-11 43-2-3-10-31-15 33-55 8-4-37-19 30-108 1-46-30-19 22-23 8-34-1-218 61 16-33 32 7 62 29 18-26 3 29 36-28 8-15 106 45 2-11 22-46 12 57 47-37 1-6 25-2 15 9 11 23 49-17 16 12 2-37 19 51 2-1 5 2 4 2 5-56 0 20 2 30 8-33 1 36 1-8 28-28 8 5 0 10 2-14 2 2 5 28 9-9 10 16 1-23 3 24 3 1 2-49 0 43 5-23 16 18 1-24 8 35 6-4 6-6 2-32 7 21 1 18 1-53 0 22 0 28 3-3 0 3 5 5 1-1 6-13 5-30 2 38 2-32 10 39 0-37 2 0 1-2 6 12 1 5 0-19 2 9 0 25 0-35 6 7 2-4 3-2 3 21 8 11 0-5 0 1 1-33 1 45 3-40 4 10 4 31 4-7 2-5 1-17 2 14 5-5 0-10 1 9 1 18 4-23 1-20 6 47 1-8 0-28 0-16 2 50 0-19 2 6 3-3 2 16 0-22 2-22 8 5 10-1 5-11 3 14 3 0 11-12 7 43 9-14 9-1 4-27 13 34 12-30 3 32 13-4 8 18 3-25 1-25 1 30 0-7 3 10 8-42 26 2 14 55 0-31 19-17 11 6 2 34 2-45 4 7-76 55-2 6-21-4-12 48-2-52-17 48-1 7-1-51 0-1 0 2-18-8-3 1-6 44-16 11-1-45-1 9-4 7 0 1-1 29-4-26-1-26-3-3-5 34-3 14-2-5-2-5-8-22-4 28-1-45 0-2-5 11-4-6-4 43-1-39-1 4-6 26-4 13-1-43 0 35-14 1 0-13-2-24-1 34-3-7 0-15-1 26-2-11-2 18 0-50-8 24-1 10-5-8-1 7-2 22 0-5-1-9-6-3-1-9-6-15-1 20-7-2-1 20-3-40-7 27-2-17 0-15 0-3-2 12 0 20 0-31-2 36-2-31-1-12 0 2 0 56 0-59-1 23-1 17-2-2-1 17-1-19-3 12-3 4-10-5-6-9-1-19-2-18-1 11-8 36-4-1-1-41-1 23-1-14-3 0-2 1-2 0 0 35-5 5-2-11-1 4-2-38-1 16-1 22-1-25-1 34-1-54-2 17-6 31-2-5-2 11-2-7-1-23-2-4-1 35 0-54-4 48-1-17-1 22-1-1-2-7-1-16-2 0-9 3 0-26-3 12-5-2-2 18-1 14-7-4-1-9 0 6-1-36-9 31-14-1-1-40-1 12-1 39-1-44-4 33-5 5-3-25-5-18-3 53-11-1 0-8-4-8-1-6-8 24-1-28-8-13-1 17-1 18-2-24-8-2 0-10-3 28-12 7-2 5-5-12-2-36-3 29-12 15-1-25-21 9-1 22-11-18-7-1-2-31-2 18-1 15-55 13-2-17-14-11-2 18-10 13-46-36 0 33-19-41-8 19-9-27-68 19-11 9-7 3-23-1-81 19-7-31-14 23-15 1-20-20-90-8-11-5-7 35-103-38-139 5-19 23-70 2-58 4-1-3-42-22-234 59 0 27 192-35 76 0 9 45 36-12 51 10 24-40 17 39 56-20 24 15 45-43 15 49 20-18 6-5 211 18 6-30 16 12 41 21 3-8 19-40 41 9 0 42 61-42 6 45 18-40 7 26 20-13 15-27 1 39 21-18 8 2 5-23 0 51 14-11 28-17 3 23 1 11 1-58 22 53 12-31 1 29 8-8 3-9 0 10 5 3 7 8 1-49 2 16 4 17 11-6 3-21 2 40 2-6 4 0 7 8 9-47 4 49 1-27 1-6 7 35 3-29 2 8 4 3 2 0 2 5 1-17 1-15 1 41 11-38 2 28 7-25 1 36 2-55 6 32 2 16 1-26 2 4 0 14 1-37 4 10 4 13 1 31 2-52 2-1 2 19 0 8 1-29 0 40 1 11 3 0 4-6 2 5 0-30 2 28 5-47 1 9 0 1 1-7 1-6 0 20 5 38 1-17 0-27 2 3 4-18 6 37 0-16 1 35 1-26 3 10 1 15 0-49 1 45 2-10 3-10 6-12 0-19 1 36 0-17 2 11 6 3 1-1 3 10 1-6 0 14 7-49 4 8 5 2 3 0 1 14 1 0 2 22 3 6 1-51 0-2 3 8 4 29 3 9 0-25 2-10 0 27 2-27 2 15 2 15 1 7 0-30 5-18 2 10 0 41 1-14 0 15 11-22 1-16 1 26 1 7 2-11 0-22 0-9 2 8 7 16 1 30 5-20 0-32 3 4 0 43 4-16 3 3 2-34 2 20 0 15 2 3 3-18 2 24 0-32 5 35 4-3 0-15 8-13 7-21 2 17 0 3 3-22 1 7 1 41 2-42 2-4 2 8 5 47 5-49 3-5 0 29 0-3 5-23 1 7 1 40 0-20 4-13 11 20 3-12 2 26 0-53 3 22 1 8 5 2 1-27 6 7 10-4 3 13 13 5 0-13 9 45 7-16 7-41 3 42 6-6 2-38 5 58 24-53 10 43 23 2 22-12-42 31-5 43-3-27-44-13-32 5-15 37-14-15-8-2-13-30-10 38-8-22-1 16-5-23-27-16-2 32-8 3-7-11 0-20-6 13-13 9-2-16-9 47 0-12-6-39-1 17-9 10-4 12 0-20-1 22-5-35-12 41-1-52-3 34-1-33 0 2-1 19 0 9-3 5 0-4-1-23-5 13 0-19-3 30-3-13-7 7-2-1-10-5 0 8 0-28-3 34 0 1-1-17-7 7-5 26-5 4-2-50 0 39-9 4 0-48-4 8-1 4-5 25-3-4-3-4-5-6 0-14-7 18-1-2-3-25-5 31-1-22-1-4-4 8 0-11-2 31-1-4-1 22-2-35-2 24-1-36-2 14 0 32-7-42-2 44-1-6-3-15 0-29-1 10-6 22-4-34-1 19-6 35-1-39-1-6-4-11-10 36-6-14-3-7-2 2-3 16-2 9-1 16-1-47-1 41-2-18-1 14-2-18-3-22-1 49-8-32-2 4-1-14-1-8-6 15-1 0-1 7-2-16-3-9-1 26-3-21-3 46-6-30-1-9-5 27-3-25-3 23-6-27-1 44-1-48-1 12-4-3-3 15-1-28-8 14-1 13-1 6-9-5-4 17-6-47-7 44-7 2 0-42-10 27-3 3-5 10-2-24-4 8 0-11-2 38-3-19-3-21-2 13-4 19-6-42-3-7-4 55-3-38-9 13-6-20-12 40-3-50-1 13-7 44 0-7-3-15-5-18-2-17-25 11-23 44-1-11-9-36-39 9-1 15-5 1-42-12-28 25-5-40-13-8 0 59-6-3-3 2-1-39-5 25-9-3-27 4-11 9-19-33-2 20-119 1-58-17-50 10-34 1-73-17-46-19-20 15-10 14-41 24-12-2-80-34-11 39-18-7-214-49-87 115 68-4 19-44 21 11 181 35 54 2 9-3 40-6 307 11 50 1 23-52 24 15 11 25 92-43 1 50 2-46 10 28 13-33 11 10 7 23 10 1 2 8 3-12 5 25 19-39 14-6 12 10 8 11 14 24 0-53 9 37 5 15 1-51 4 35 4-37 37 35 12-33 4 48 0-49 7 24 4-28 5 34 10-21 9-2 1 17 1-25 0 12 6 42 7-7 2-50 13 22 4 11 2 16 4 3 1-17 0 16 1-17 8 3 2-29 5 26 13-16 3-9 2 35 2-10 1-32 3 4 7 5 1 47 4-12 2-36 2 10 2-9 2 28 10 5 0 9 2-14 2 0 4-23 2-10 3 48 8-51 10 38 8 3 4-15 3 6 1-11 7-19 4 50 0-47 2 49 0-42 8-15 1 24 5 2 2 14 2-13 8 25 2-2 1-25 1 4 0 30 9-21 6 15 1 6 1-19 9 11 0-2 1-27 2 3 2 22 0-31 2 15 0 0 2 28 6-47 2 29 1-5 6-13 1 16 4-6 1-24 1-9 0 59 6-47 0 25 7-24 2 39 1-29 4 32 7-9 1-32 0 26 1-32 1 26 9 13 13-33 3-4 1-1 4-8 0 16 1 16 0-6 1-19 6 3 1 35 4-16 28-28 0 40 33-39 20 25 16-26 1 36 11 19 1 1 17-7 1-30 17 36 7-39 13 2 15-1 14 28 17 0 56-46 2 55 43-5 46-51 27 50 5-29-30 87-43 6-4-53-33 20-4 3-99 12-19 19-15-48-10 11-35 1-14-16-5 12-39-15-24 10-15-7-8 20-17 13-5-32-6 49-6-48-6 45-5-32-2 22-3-14-1-10-14 24-6-28-1 3-2 22-4-10-6-5-9-18-7 20 0-10-5 26-2-25-6-4-1 46-2-15-2 6-1-3-4-9-7-5 0 2-6 12-2-35-9 37-9 6-2-48-4 15-1-14-1 14-1 8 0 26-1-24 0 16 0 8-4-16 0 10-4-9 0-6-1 1-3-30-4 1-1 13 0 17-4-11 0-19-5 47 0-14-1 2 0-27-4 26-3 9-9-14-6 8-1 12-2-47-6 36-1 0-2 9-4 3-7-43-2 30-3-30-4 32-1-24-1 17-5-23-4 41-3-46-3 36-3 4-5 10 0-4-1-19-11 15-2-12-3 17-2-40-1 43-4-46-7 34-5 3-6-45-1 6 0 5-1 24-6-5-4 12-1 1-8-31-1 5-1 10-2 8-9-37-1 22-18 4-6 22-9-4-2-34-4 7-2 37-3-31 0-11 0 8-2-11-3-7-10 34-19-20-2 23-4-23-12 8-12 24-6-32-3 37-4-19-6-5-2-30-5 25-1 24-1-20 0 21 0-21 0 15-2-13-19 21-4-24-5-12-18 18-12-19-3-14 0 18-4 32-2-30-13 27 0-20-8 12-2 14-3-35-24-12-1 26-10 12-18-20-6 12-5-11-4-19-3 7-8 21-15-15-7 35-4-5-11 1-5 0-20-18-1-20-23 27-8-21-103 5-54 28-64-43-20 25-2-26-15 14-132 5-36 13-42-41-41 55-37-54-70 14-162 93 96-41 34 25 308 3 14-34 51 32 12 9 17 0 38 12 59-32 36 24 15-8 1-4 15 23 2-27 5 8 13-2 53 9 1-22 3 25 1 6 12-21 2-31 17 10 5 44 9-45 28 9 5-16 9 2 3 19 6 4 4 22 3-36 21 19 9-9 2-4 42 8 12 24 3-52 7 38 2-17 4 11 3 0 3-33 2 11 5 14 3-8 0 29 3-20 13-15 2 28 4-26 4-4 3 5 0 15 4 11 2 11 9 5 0-56 2 56 4-39 0 22 10-3 1 11 0-8 9-35 2 35 0 8 6-35 9 7 0-1 2-7 1 27 7 11 0-48 2 27 17-5 1 4 4-19 1 15 7-8 0 37 4-7 1-10 2 6 2 3 9-33 3 27 0-37 1 12 15 23 7-36 3 3 2-2 1 50 0-18 0 17 4-13 5-11 4-4 0-15 0 11 3 39 0-1 6-19 1 8 5-26 4-19 6 22 1 10 7-10 15 13 1-36 1 16 5-16 3 58 2-5 0-33 4 38 0-29 8-29 2 42 3 16 0-36 1 37 1-47 6 26 4 6 0-12 1 4 5-8 0 3 15-7 15 7 0 13 13 13 1-13 3 4 1-47 1 14 2 2 13 32 2-28 2 20 2-27 4 38 1-15 15 0 1-34 4 52 4-16 5-3 1-24 12 38 21-24 2-3 1-23 18 41 9-10 11 3 26-31 1 48 28-49 171 43 1-24 13-15 31 16 17-4 148 35 92-53-254 77-71-11-4 52-87-37-153 3-13-4-3 24-15-5-3-12-8-18-1 2-2 18-41-25-16 49-2-24-9-3-8 9-2 10-3-18-2-23-1 17-1-3-4 31-11-11-9-29-2 8-1 3-12-19-4 2-4 13-1-4-5 3-9 33 0-47-5 21 0-12-2 19-3 9-8-21-2-8-1 13-5-15 0 20-1-14-5-12-4 31-1-23-1 19-6-10-3 9-7-23-3-1-1 0-3 3-14 16-2 9-1 1-8 17-2-14-1-19-7 18-4-4-8 15-3-1-4-40-2 24-3 29-1-13-6-10 0 1-4-6 0-21 0 30-9-14-15 6-2 18-2-24-5 12-3 13-1-41-1 16-4 4 0-6-15 28-8-30-1-8-10 35 0-1-2 0-2-45-2 47-2-15-1 26-8-27-4-26 0 4-1 9-2-10-7 39-4-6-9 8-8-43-5 21-4-12-1 29-1-3-6-29-4 33-7-19-2 5-9-22-4 34-5-27-4-6-1 46-14-28-5-10-1 19-11 16-6-15-8 6-5-34-5 34 0-43-9 17-2 4-4-17-2 23-1-8 0-9-3 6-4-1-18 12-9 25-4 1-2-46-8 2-1 29-9-17-4-20-3 0-9 41-2 4-4-6-7 1 0 1-2 5-6-1-5-29-17 9-4 29-10-14-10-13-12-10-13 20-5 18-18-4-8-51-9 29-3-19-3 22-1 14-16-14-10-29-5 19-7 11-28 16-7-6-16 5-27-30-19 16 0 21-58-40-5 37-12-45 0 13-35-14-16-1-33 50-10-41-61 30-22 4-54-47-24 54-106-7-76-14-5 75 63-37 11 36 71-10 20 9 39 7 53-3 16-26 0 16 14-20 15 17 35 8 16-9 3 6 19 1 5-22 10 22 19-27 28-2 1 24 14 7 9-42 20 7 6 16 8 23 15-31 5 12 7 8 11-9 13-16 2 6 20 24 6-46 1 37 10-20 3-18 0 56 2-6 6-33 0 26 8-43 4 31 1-24 7 51 3-9 6-7 4 9 3-40 5 43 2-22 0-15 12 40 9-27 1 12 0 1 3 0 18-9 2 21 3-3 6-10 0-14 2 25 18-2 4-11 8-6 9 2 4 8 3-20 3 19 1 4 13-13 9-24 1 48 4-57 2 56 2-24 2 23 4-16 4-21 12 4 2 9 6 12 2-5 3-13 2 7 12 21 2 1 1-29 1 10 16-30 1-4 1 24 1 2 2 1 3-8 0 29 2 9 10-10 0-28 8 4 2 23 1-16 12-29 4 19 2-7 16-12 1 16 0-18 3 15 4 2 5 5 6 35 3-34 7-21 6 13 9 34 13-35 8 12 0 12 4-22 5 40 6-20 0-3 1-17 2 35 5-24 5-11 2 34 3-32 2-10 3 29 0 10 4-47 5 18 1 30 7-49 1 37 6-24 8 40 1-25 7 13 2-29 4 11 5-7 2 41 1-36 7 0 2-5 1 41 3-51 0 19 2-14 8 24 7 19 4-40 7 10 4-17 4 47 1-49 1 52 4 2 3-46 9-8 5 9 3 35 10-19 9-24 2-5 19 50 11-40 1 9 4-1 4 32 4-31 8 3 3 36 3-37 2 15 6 3 2-1 7-11 2-19 1 12 1 37 2-4 13-51 6 17 7 10 14-10 8 17 2-36 5 6 12-2 2 15 20 30 12-44 7-1 3 42 11 11 46-19 10-29 19 28 9 9 10-12 4 16 68-6 12-18 5-27 13 57 3-17 5-39 6 9 142 24 76-12 7-13 135 87-43-19-35 32-40-44-42 27-64 24-129-12-11-38-92 50-66-17-28-27-60 38-34 9-66-38-2 15-25 15-19-9-4-23-6-5-6-13-5 50-6-17-10-12-4 3 0-13-8 28-1 12-3-11-2 9 0-4-3-36-2 2-13 3-2 15-1 4-8-1-5 23-7-17-6-9-3 27-6-27-2-28-17 6-5 39-12-11 0-4-3-19-3 13-9-5-8 38-3-24-5 9-6-22-1 18-6-11-6 29-3-13-27 3-4-39-10-1-7 47-2-12-9 0-3-36-3 51-2-29-6 19-3-19-2-6 0-2-4 9-1 23-1-45-8 39-2 6-5 1-5-53-1 56-5-29-4 26-1-45-9 38-4-21-12-23 0 37-9-39-23 3-2 23-1 11-4 14-2-43 0 22-3-27-15-4-8 24-2-14-1-10-2 11-1 12-2-15-6 7-4 28-1 16-6-49-1 7-3-1-6 15-13 27-12-39-1 26-12-28-10 16-6-9-1 2-2 13-2-3-1-21-10 40 0-13 0-31-3 25-3-16-3 3 0 6-2-18-11-5-1 12-3 41-5-4-8-19-4 21-1-18-4 4-7 7-3-12-5-6-4 3-6 9-1-3-9 10-7-17-1-3 0 5 0-27-3 27-12-2-3 3 0-30-1 48-10-53-13 48-6-35-5 27-10-27-3-3 0 41-1-29-6 2-1 16-13-35-1 33-4 17-1-25-5 8-2 5 0 4 0-42-1 40-7 7-17-17 0-16-5-12-4-6-6 56-2-27-1 16-14 7-4-11-14-36-2 6-9 40-8-25-3-5-10 29 0-34-10-18-8 25-4-24-3 6-11 50-4-48-31 34-12-41-7 54-1-7-8-16-6-18 0 26-36 10-22-51-33 36-3 12-3-23-13-11-7-7-6 15-1 13-13-28-4-8-18 44-4-1-2-26-16 0-4 6-7 30-12-48 0 27-56 22-6-30-29 14-65 76 6 0 7 0 8 3 12-3 4 3 36-37 36 15 3-9 4 33 1-31 9 7 25-25 11 27 7-19 5 21 4 12 5-41 1 10 19 12 14 15 1-32 2 11 1 7 16 22 19-15 5-11 9 30 10-35 3-7 9-12 1 42 4 2 23-38 1 3 1 11 7 16 0 10 2 4 3-49 8 22 8-12 0-6 4 11 10 36 2-9 18-31 3-5 5 33 0-9 3 4 11-22 2 16 1-2 8-7 7-3 5-16 7 27 0-25 1 29 5-35 16 33 3 18 13 4 9-42 3 6 2-11 12 36 1 3 6 9 3-8 4-6 6-25 3 40 7-56 0 34 3-33 3 48 0-28 2 23 4-47 5 56 4-30 1 5 2 25 1-17 7 0 10-15 4-19 6 24 2 11 6-33 1 45 0-15 4-2 1 12 11-36 3 26 3-10 4-21 8 12 5-8 10 3 2 18 0-7 9-6 0 16 6-13 0 9 2-21 4 40 1 0 13-7 3-31 2 10 1 29 1-16 1-18 9 41 1-47 7 21 3 11 10-3 0-8 1 9 0-1 7-15 6 1 0-18 1 21 7-9 2 11 12-4 2 12 10-21 12 2 3 3 2 4 6-18 6 30 3 11 4 5 0 5 2-15 3-16 4-28 12 30 2-1 2-6 4-8 7 8 1 23 2-16 2-26 8 3 0 47 27-28 8 23 12-23 8-26 10 18 9 23 4 14 5-45 10 14 2 9 0-10 1-13 3 2 1 19 1-13 1-4 2 35 13-18 2 23 2-52 13-2 1 14 39-13 20 30 3-2 1-14 0-13 35 23 26 22 11-30 1 24 2 3 22-30 7-1 5 27 10-18 25 9 27-17 5 7 4 13 31 17 5-51 18 24 15-19 24 6 16 11 16 27 138-10 62-15 28-11 14 24 113 13 4-17 49-10 271-13 104 13-498 41-153 30-9-4-20-1-66-2-41 9-23 13-5-36-7-4-60 45-90-21-13 22-1 2-12-40-7 23-3 17-26-30-48-7-31 5-12 6-7-3-1 4-15 1-16-24-17 8-3 28-22-19-1 25-8-50-16 26-14 14-3-2-10-26-6 20-18 5-6-5-12 17-7-27-16-14-8 27-13-15-3 15-3 3-5-7-7-11 0 22-14-33 0 36-17-32-2 31-2 2-1-47-10 12-3-3 0-2-7-7-9 52-6-23-7-6-1 20-4-2 0-35-1 30-6 17-11-48-4 25-2-3-1-1-7 16-2-42-9 41-11 9-2-16-1-14-8-6-1 38-2-1-1-8 0-33-2 15-1 7-1-1-3-9-6-6-4-14-7 36-7-6-1 12-4-36-3 42-4-30-7 9-5-16-9 2-2 31 0-11-5-30-8 45-1 5-1-3-6 0-1-30-6-3-1 20-1 8-1-2-9-17-3-6-2 2 0 1-1 24 0-24-9-24-1 22-8-12-9 36-7-47-4 50-9-20-4 22-2-36-20 29 0-34-4 41-6-38-5-3-5 19-4 4-1-11-11 22-15 4-3-19-1-28-1 19-3 25-6-26-1 37-1-22-1-32 0 52-4-4-5-19-1-22 0 18-11 15-9-16 0-5-15 2-3 5-2 10-3-38-3 27-1-11-2 9-1-12-2 33-2 12-11-4-18-14-2-26 0-3-1 31-3-9-3 17-1-39-1 28-1-12-2-5-6 6 0-14-1 24-2 9-2-15 0 17-1 8-6 1-3-13-4 3-5-1-1-5-11-40-9 22-2 6-1 13-2-38-2 53-3-20-2 1-6-21-10 35-1 3-9-34-2 11 0 16-7 8-1-3 0-9-6 3-3-13-1 5-2-21-1 11-1 18 0 2-13-2-1 2-1-1-27-30-4-11-5 4-5 8-14-19-9 47-1 7-12-52-2 0-4 45-10-1-1-22-4 21-5-1-6-43-2 15-1 27-1 6-4-44-2 6-5 30 0-23-7 11-4-12 0 19-4-31-1 40-2 11-1-24-5 75 1-9 1 2 2 0 0-14 1 9 3-23 2-8 1 34 0 4 0-6 3-34 0-4 0 7 3 34 0 13 1-11 1-3 3 15 0-19 2-30 4 47 3-14 1-8 1-31 2 6 1 3 1 39 1 7 3-45 0 29 1-5 1-5 2-25 0 40 0-14 2-18 3 39 2-15 1-21 6 24 1 0 8-1 2-20 6 31 3 5 3-7 1 7 9-31 3 11 6 6 7 12 2 0 6-34 2 37 2-29 0 23 11-40 8 16 1 34 4-51 6-4 1 20 0 33 19-47 8-4 0 23 4 24 2-45 0 4 1-11 0 56 1-51 5 11 1 26 1-35 2-7 3 41 4 13 1 0 1-34 6 20 3-8 0-32 6 29 0 8 1-26 0 45 2-33 0-3 11-11 2 33 5-43 2 36 3-29 7 4 2 14 1-5 7-5 0 18 2 13 2-1 0 8 0-29 4-3 1 34 10-11 0-6 6-28 0 45 4 0 0-53 1 39 3 3 2-33 1-6 11 42 2 0 5 12 1-11 1 6 6-28 1 14 5 17 2-11 2 12 1-34 12 11 4 7 3-9 1-3 0 25 1 1 1-25 4-11 1 38 0-51 0 42 1 7 2-55 1 25 0-23 0 14 0 40 5-45 3 4 2 11 5-25 2-1 0 32 7-17 2-2 17 17 5 12 1-7 10-19 0 13 7-26 11 0 0 44 3 7 6-32 0-3 0 12 13 16 2-35 14 8 1-2 5 21 2-26 4 32 0-25 0 9 4-2 6-7 1 6 1-9 12 26 17-32 5 28 2-25 21-5 14 18 8-25 12 23 1-6 10 9 3-21 4 15 1 34 6-34 14-22 31 37 9-21 0 24 1-11 5-21 4 28 1 16 4-42 0 28 14-33 19 42 9-30 6 13 3-24 2-2 1 50 8-45 5 1 6 7 15 12 16 23 15-36 22 24 0 12 56-39 32 16 33-7 7-1 16 5 50 23 62-12 38-22 53 30 59-21 23 5 16-3 2 17 8-17 1-22 93 17-260 70-14-27-24 41-11-41-18 3-3 9-33 14-37 4-81 21-64 3-29-17-11-41-41 11-23 45-35-17-14-8-23-17-10 24-9 15-7-19-2-12-20-22-6 37-24-32-4 32-9-25-6 7-2-17-4 54 0-45-15 36-23-37-6 22-21 24-2-30-7 17-1-12-3 9-1-16-1 33-6-14-2-31-14 21-6-6-4-28-4 40 0 14 0-42-1 3 0 31-1-16-2-13-2 11-2-12-2-2-1 10-5-15-2 18-4-7-5-8-2 24-12 22 0-22-1-16-1-1-1-8-8-11-1 22-1-2 0-9-1-4-1 3-4 37-2-5-1-36-3 5 0-8-4 48-5-10-1-14-3 14-3-37-2 54-2-56-6 12 0-2-5 12-3-4-1 25-3-25 0-5-7-14-2 10 0 5-3-12-3 31-2-11-2 15-5 3-1 8-11 1-4-43 0 17-1 14-2-2-2-14 0-6-2 30-16 5-1 0-6-43-2 43 0-40-7-12 0 12-2 34-1-43 0 48-4-20-2-18-3 28-9-6-1-29 0 11-3 37-3-35-1 9-4-5-1-9-2 12 0-7-3 28-1-45-2 20-2 0-2 29-7-16-6 16-3-37-1 42-4-42-3-6-4 2-12 47-1-52-4 22-4-24-2 38-4 16-3-21-6-28-1 24 0 20-8-21-2-22-1 28-6-31 0 14-11 26-2-21 0-14-1 45-1-27-1-8-1 7-3 6 0-15-7 19-2-34-1 7-6 40-3-28 0 19-3-1-3-30-3 21-1 6-1 11 0 9-8-43-1-8-6 10-5-12-1 11-3 12 0 23-1 6-3-5-2 5-1-49-8 26-1-2-1-13-1 32-1 5-1-35 0 26-1-14-2 13-1 4 0 2-1-25-1-8-2 22 0 11 0-50-1 17-1 36-1 2 0-33-1-15-1 29-1 4-1-10-1-14-1 10 0-7 0 10 0 1-3-2-2-25-1 9 0 38 0-46-3 2 0 18-1-20 0 51-1-28-1 21 0-37 0 1 0 43-1-7 0-42 0 25-1 0 0 10-1 14 0-33 0 0-1-8 0 39-1-50 0 18 0 18 0-27-1-10 3 61 0 9 1 10 0-13 0 35 1-8 0 11 0-9 0-11 1-27 0 26 1-10 0-10 0 17 0 28 0-44 0 43 1 1 1-38 0 32 1-6 0-1 1 11 0-33 1 26 0 9 0-20 1 16 0-10 1-32 0 10 1-14 0 32 0 22 0-2 1-11 0-23 0 25 0 9 1-22 0 19 2 1 0-41 1 33 0-21 0-8 1 31 1-4 1-13 0-21 1-2 0 34 3-13 1 9 1 10 1-44 1 32 0 15 0-35 1 23 0 7 0-19 1 28 0 2 0-3 1-17 1-31 1 12 1 22 0 19 1-1 1-28 0 23 0-34 1 11 1 0 3 18 1 9 1-45 1-4 2 4 1 48 1-9 1-20 3-6 2 13 4-36 3 6 0 42 1 9 1-15 1 12 1-42 2 8 2-12 2 45 1 1 4-21 2 18 2-43 1 7 3 21 2-29 5 45 5-17 2 21 5-10 3 9 0-3 1-47 2 43 5-37 1-5 1 27 1 10 9 4 2-11 4 22 1-33 3 11 1-4 7-13 0-12 0 24 2-32 2 22 9 26 14-20 3 2 2-13 3 9 6-18 0-2 9 38 0-32 2-1 6-1 0 48 0-49 3 33 11-10 0 10 0 10 5-23 0 22 4-50 1 3 2 38 1-30 4 27 3-30 7 29 1-23 1 3 1 7 7 34 3-36 2 21 3-8 0-18 1 25 4-39 1 22 6 4 2-6 7 7 5 1 1-18 4-7 0 19 1-19 1 45 6 0 2-2 0 0 3-1 3 4 5-5 8-30 2-6 5 0 4 11 0-1 5 14 1-29 3 50 1-46 1-3 13 46 5-50 2 44 21 0 4-3 7-14 1 6 0-20 8-5 1 23 25-30 6 49 13-15 4 6 2-13 1-4 4-19 2 28 8-13 1-9 10-11 153 30 19 17 9-16 7 13 151 6 12-24 67-30 47 41 4-41 32 37 6-1 54-31-286 55-51 27-202-14-26-11-53 38-12-39-24 17-29 14-11 16-5-48-1 20-9-12-5 16-6-21-8 26-1-22-1 5 0 1-14 14-13 14-2-23-13 11-1 4-1-33-8 0-6 18-7 27-10-39-6 30-3-3-3-11 0-2 0-3-1 3-3-9-2 15-21-26-1 18-4 12 0-28-10 33-4 4-3-37 0 15-4-16 0 30-3-9-2 37-4-32 0-14-10 8-1-19 0 18-3 16-1 19-3-26-11 16-2-26 0 2-2-19-15 5-10 26-4-19-1 31-3-45-2 33-3-9-1-21-2 13 0-13-8 17-8 8-1-26 0 11-3 21-1-18 0-7-3 48-1-35-2-2-5 32-1-30-1 8-1 23-2-38-1 28 0-23-1 2-1 35 0-52-1 36-1 1 0-17-1 2-1 31-1-57-1 1-1 52-1 1-1-49-1 42-1-22-2 31-1-22 0 14-1-32-1 38 0 3 0-7-1 1-1-11 0-29-2 45-1-5 0-51 0 36 0 8 0 4-1-9 0-1-1-29 0 14-1-18-1 38 0-42 0 38 0 10-1-29 0 14 0 21-2-31-1-2-1-17 0 11-1 29 0-15 0 0-1 18 0-34 0 32 0-8-1 1-1-1 0 6 0-26 0 17 0-21-1 12 0 20 0 3-1-34 0 32 0 4-1-43 0 35 0-39-1 54-1-23-1-28 0 49-1-7 0-46 0 19-1 11 0-34-1 25-1 5-1 18 0 4-1-33 0-16 0 45 0-48 0 24 0-4-1-18 0 43 0 4 0-37-1 18 0 26 0-56 0 25 0 14 0-3 0 20-1-31-1 17-1 61 1-16 0-12 0 36 0-8 1-15 0 22 0-24 1 29 0-8 0-20 1 29 0-56 1 59 2-4 1-32 0-12 0 15 0 29 1-23 0 16 0-36 1 29 1-3 0-30 1-5 0 14 0 13 2-13 1-2 0 20 0-7 1-17 0 6 1 26 4-33 0 49 1-45 0 27 1 10 0-13 0-3 0-34 1 14 0 1 2 4 3 29 1-23 0 26 1-45 1 45 1-52 1 41 1-20 0-9 2 32 2-8 0-24 1 37 1-32 0 8 0-1 4-7 1 1 0-2 3 23 0 13 1-23 0 16 0-9 2-31 0 52 2-10 1-19 1 16 1-10 6-27 0 27 2 0 0 18 3-32 2-14 0 21 0-18 0 44 2-49 0 0 1 17 0 28 1-20 3-3 1 5 2-2 10-28 1 12 3-11 5 24 7-18 4 21 7-15 0 41 2-6 0-49 5 4 5 20 14 24 1-34 2 10 2 23 10-41 1 2 1-1 8 16 7 27 7 9 3-53 5 28 1 25 30-36 2 13 4-20 18 5 20 7 14 19 40-30 11 18 6 17 50-51 40 31 128-25 4 31-164 27-64 29-10 24-50-44-5 0-54-12-4 1-40 1-9 30-6-24-9 11-15-8-3-3-3 29-19-15 0-5-1-19-3 17-2-11-2 8-12 5 0 15-7-23-6 45-7-6-1-44-2 51 0-54-4 5-1-7-1 24-5 26 0-22-2 19-5-39-3 1-1-5-1 8-2 1-4 37-4-26-1 26-1 5-1-31-1-22 0 32 0-28-1 2 0 36-1-34-1 13-1 9 0 18 0-28-2 13-1 19 0-41-1 0 0 27 0-7-1-6 0 4 0 4-1 4 0-28-1 3 0 36-1 2-1-32 0 31 0-40-2 44-1-28 0-20-1 1 0 21 0 25-1-24-1-15-1 9-1-14-1 12 0 35 0-28 0-15 0 38-1-28 0 14 0-7-1-24 1 101 1 6 0-35 0 16 1-35 1 21 1-15 1 20 0-2 0-6 1 3 0-8 0 7 0-6 2 0 0 19 1 14 0-42 1 19 0 2 1 13 0-40 0 56 0-15 0-11 1-27 0 15 2 20 2-9 0-19 1 22 1 22 1-13 1 11 3-45 1 7 1 11 0-20 2 4 1 10 1 24 5-13 2 0 2-28 0 50 4-22 2-12 3 25 1 16 0-36 16 36 22-39 3-14 3 23 0-11 5 17 36-28 8 32 6-7 94-26 1 1-162 105-1-30-11-5-4 10 0 6-10-29-6 15-1 4-1 5-1 23-1-7-1-31-4 3-3 37-6-19-4-26-3 5 0-8-1-1 0 5-4 25-5-9 0 10-1-23-1 18 0 22-1-33-4 17 0 15-1-45-1 18 0-16-1 1 0 7-1-4-1 27 0-31-2 96 1 0 1-16 1 25 0-19 1-8 1-16 3 21 2-3 1-15 3 38 5-16 1-24 0 21 8 11 6 4 147 2-158 13-8 8"/></g></g>
<line x1="423.12" y1="721.3" x2="642.27" y2="591.36" stroke="#000" stroke-width="1.1" stroke-dasharray="3.38 1.46"/>
<rect x="412.5" y="580.25" width="240.7" height="169.1" fill="none" stroke="#444" stroke-width="0.7"/>
<path d="M423.12 749.35v2.7M459.21 749.35v2.7M495.3 749.35v2.7M531.39 749.35v2.7M567.49 749.35v2.7M603.58 749.35v2.7M639.67 749.35v2.7M412.5 742.7h-2.7M412.5 721.3h-2.7M412.5 699.9h-2.7M412.5 678.5h-2.7M412.5 657.1h-2.7M412.5 635.7h-2.7M412.5 614.3h-2.7M412.5 592.9h-2.7" stroke="#000" stroke-width="0.73"/>
<text x="423.12" y="760.55" font-size="9.5" text-anchor="middle" textLength="5.55" lengthAdjust="spacingAndGlyphs">0</text>
<text x="459.21" y="760.55" font-size="9.5" text-anchor="middle" textLength="16.64" lengthAdjust="spacingAndGlyphs">500</text>
<text x="495.3" y="760.55" font-size="9.5" text-anchor="middle" textLength="22.19" lengthAdjust="spacingAndGlyphs">1000</text>
<text x="531.39" y="760.55" font-size="9.5" text-anchor="middle" textLength="22.19" lengthAdjust="spacingAndGlyphs">1500</text>
<text x="567.49" y="760.55" font-size="9.5" text-anchor="middle" textLength="22.19" lengthAdjust="spacingAndGlyphs">2000</text>
<text x="603.58" y="760.55" font-size="9.5" text-anchor="middle" textLength="22.19" lengthAdjust="spacingAndGlyphs">2500</text>
<text x="639.67" y="760.55" font-size="9.5" text-anchor="middle" textLength="22.19" lengthAdjust="spacingAndGlyphs">3000</text>
<text x="406.5" y="746.1" font-size="9.5" text-anchor="end" textLength="23.95" lengthAdjust="spacingAndGlyphs">−500</text>
<text x="406.5" y="724.7" font-size="9.5" text-anchor="end" textLength="5.55" lengthAdjust="spacingAndGlyphs">0</text>
<text x="406.5" y="703.3" font-size="9.5" text-anchor="end" textLength="16.64" lengthAdjust="spacingAndGlyphs">500</text>
<text x="406.5" y="681.9" font-size="9.5" text-anchor="end" textLength="22.19" lengthAdjust="spacingAndGlyphs">1000</text>
<text x="406.5" y="660.5" font-size="9.5" text-anchor="end" textLength="22.19" lengthAdjust="spacingAndGlyphs">1500</text>
<text x="406.5" y="639.1" font-size="9.5" text-anchor="end" textLength="22.19" lengthAdjust="spacingAndGlyphs">2000</text>
<text x="406.5" y="617.7" font-size="9.5" text-anchor="end" textLength="22.19" lengthAdjust="spacingAndGlyphs">2500</text>
<text x="406.5" y="596.3" font-size="9.5" text-anchor="end" textLength="22.19" lengthAdjust="spacingAndGlyphs">3000</text>
<text x="532.85" y="575.95" font-size="11.4" text-anchor="middle" textLength="203.2" lengthAdjust="spacingAndGlyphs">SimpleRNN: Predicted vs Real (Train)</text>
<text x="532.85" y="772.75" font-size="9.5" text-anchor="middle" textLength="125.87" lengthAdjust="spacingAndGlyphs">Real Generated Power (kW)</text>
<text x="378.1" y="664.8" font-size="9.5" text-anchor="middle" textLength="149.05" lengthAdjust="spacingAndGlyphs" transform="rotate(-90 378.1 664.8)">Predicted Generated Power (kW)</text>
<text x="526.5" y="806.8" font-size="21.6" text-anchor="middle" fill="#000" style="fill:#000;stroke:none">(f)</text>
<clipPath id="cg"><rect x="71.1" y="848.55" width="242.5" height="169.1"/></clipPath>
<g class="sc" clip-path="url(#cg)"><g transform="scale(.1)"><path d="m2637 8688 196 0 87-49 92 99-4 9-14-39-9 39-30 7 0-38-11 41-23-6-70-21-9 7-2 6-5 3-5-18-11-7-5-21-2 47-27-14-1 25-20-34-40-3-38 34-3-1-42-20-19-4-25-13-93 22-178 70 27 0 69-14 37 8 17-38 18 26 13 3 8-22 62-4 1 40 8-39 0 16 3-13 5 38 47-12 7-31 3 4 23 25 2-18 3 13 1-15 9 38 12-17 6-22 0 11 5 2 5-26 2 9 3 37 16-10 9 8 2-10 2-3 2 15 1-29 9-4 2 7 0-14 4 21 1 25 3-11 8-20 8-12 6-5 13 23 2-21 3 18 2-8 3 1 5-11 1 39 1-43 3 22 3 12 2 12 7-5 1-24 18-15 17 49 4-35 3 4 14 1 8-16 11-8 2 42 1-17 14 32 10-20 13-22 1 23 15 9 13-36 12 31 27 6-15 50-38 11-2-38-25 46-2-20-7 0-3-28-5 13-13 15-9 3-6-7-4 0-1-6 0 28-1-5-16 0 0-3-20 7-4-25-1-6-2-25-5 12-2 36-2 11-4-36-1-5-4 36-4-37-1 1-1-5-6 28-3-13 0-15-5 33 0-12-2 6-7-16 0 30-2-20-2 9 0 5-1 9-8-15 0-5-2-8-3 6-3-13 0-4-3 25-5-29-9-3-12 25-1-11-1 17-1-1-2 11-1-39-2-11-12 48-11-4-11-6-2-9-1 24-11-36-3 3-2 33-3-30-1 24-1 8-9-8-5 7-1-41-4 36-3-30-7 6-4 31-2-28-3 22-1 7-1-1-4-47-1 36 0-19 0 15 0-14-6-12-5 13-8 2-6 18-6-21-5 9-4-10 0 21-3-8-13 4-1 0-2-13-6-23-2 3-7 30-1-7-15 13-3-2 0 13-16-49-3 17-8 2-7 19-19-14-4 5-5-11-2 0-39-19-43 50-5-18-38 12-14-38-20 12-3-23-5 54-38-15-15-28 0 28-13-2-20-34-48 49-94-27-60 21-76-12-296 60 67-13 20 34 10-58 10-1 8 0 95 59 20-3 7-55 14 33 21 22 33-48 19 38 28-27 3-5 11 34 0-33 75-9 49 27 30 21 0-31 9-2 25-19 2 45 32-20 14-22 35 8 5 5 11 4 16-1 25-15 10 41 5-12 16 16 30-10 0 14 9 2 14-21 2-5 1-4 12 32 2-18 8-12 3-10 0 13 14-2 6-25 9 39 6-13 14-22 19 10 3 26 1-5 3-20 5 18 0 1 4 6 7-5 3-11 2 28 2-41 0 32 2 0 4-9 5-34 4 18 4-1 3-16 5 53 0-4 2-45 19 2 5 21 5 18 0-34 3 11 0 9 4 16 2-1 4-46 0 23 1-12 4 26 4-30 2 22 1-3 2 9 1-28 3 26 0-7 3 10 1 6 6-38 3 29 3-29 7 4 0 9 11-10 19 1 0 45 0-38 2-1 0-4 6-13 1 36 6-23 1-3 0 31 1-25 1 31 2-15 2-35 0 15 1 15 10-5 1 5 4 26 0 0 1-54 1 2 0 28 13-31 7 20 1 28 1-4 3-11 1 2 1-22 1-13 5 43 1-39 0 3 2 2 1 33 2-35 12 9 0-10 8 5 0 31 1-16 1 24 1-48 0 52 2-41 12-4 1 16 2 22 10-8 1-8 0-31 1 4 3 16 8-4 0 6 1-14 5 16 11-23 12 39 22-6 7 21 6-34 1 14 10 10 11-37 9 5 14-2 64 43-63 45-23-19-13 35-10-47-14 19-1 19-10 4-10-40-18 29-42-3-4 12-2-39-19 4-12 2-15-15-1 2 0 14-1-6-12 12-3 10-4 4-2-28 0 24-1 2-3-19-5 41 0-39-4 7-3 22-2-23-4-12-1 37-1-43-3 47-4-1-5-23 0-2 0-10-2 26-6-38-1 39-3-27-1-14-5 13-2-6-4 14-10 5-3 7 0 23-1-15-3-27-2 20-1 5-1 1-1-17-1-11 0-13-1 47-1-39-3 39-6-26-7-14-2 2-2 17-2 23 0-36-8-7 0-7-3 17-1 22-6-14 0 1-8 27-2-5-4-8-1-32-1 45-1-6 0-8 0-2-2-36-1 53-5-27 0 9-1-15 0 22-1-18 0 24-4-9-1 15-1 1-1-14-2-25-1 9-1-17-5 3-1-8 0 28-5 1-7-11 0 31-1-51-1 1-4 51-2-12-4-41-4 21-4 23-3-32 0 23-9-13-3 9-6-25 0 15-1-13-1 48-3-55-1 24-4-13-1 0-4 14-7-27-1 21-5 28-1-38-7-4-1 45-3-24-9 8-4-2-5 4-21-36-8 50-12-16-5-9-5 26-5-28-9 3-3 17-7-8-3-37 0-1-3 34-1-22-1 13-15 7-3 1-5-23 0 10-3-17-2 6-9 37-2 6-2-10-4 16-7-1-13-43-3-10-18 31-4 10-9 12 0-57-7 35 0 9-1-3-16-33-2 4-5 0-1-7-1 50-3-49-15 12 0 30-4-33-50 24-13 19-3-2-1-47-6 13-33-11-5 37-25-19-9-13-20 31-46-3-17-43-3 56-7-44-7 30-73 0-22 6-24-27-101-4-56 38-27-54-1 14-27 34-5-15-222-2-210 0-27 16-6 53 38-7 2-23 83-8 39-3 21 55 14-30 135-4 30 4 22 26 25-2 13-26 18 0 77 13 20 13 13-23 22 29 61-23 0-33 7 49 46-45 78 20 55 25 4-48 9 33 6 11 16 13 9-45 7 36 2 10 5-44 0 22 12 17 4-52 3 16 26 34 7 1 0-42 19 24 2 11 24-5 3-10 1-7 3 11 5 6 5-36 1 39 4-7 22-26 3 11 4-16 17 45 3-9 6-32 9 28 5 17 4-35 4 9 9 23 7-29 1-4 9 18 2 12 5 5 8-11 4-9 3-14 12-2 1 38 1 3 0-42 3 20 16 11 7-8 1-31 2 45 2-23 0-15 7 20 0-2 7-13 1-20 3 29 2-13 2 4 5-3 0-6 4 23 2-16 7 16 2 23 0-27 2 19 6-1 1-9 3-39 3 49 0-24 5 29 2 0 1-15 3-39 1 54 12 1 2-5 3-43 1 25 7 3 4 23 1-52 4 8 0 4 8 12 4-16 7-2 1 41 2-8 1 10 0-34 12 3 0 13 1 6 1-22 0-9 4 22 0 16 1-9 4 8 8 7 1-35 2 1 0 14 1-18 3-8 1-9 4 49 3-2 0-28 2-10 4 28 0-21 1 9 2-3 1 25 3-23 2-21 6-3 1 55 0-21 1-18 1 24 0-22 0 17 5-4 0-2 0-3 1-20 0 24 3-30 7 41 3-26 5 21 1-32 5 35 1 15 0-48 1-8 0 16 4 1 3-6 3 9 0 17 7 20 4-54 6 1 4 45 5-12 4 12 2-45 1 0 5 41 0-23 0 29 1-24 5 24 9-48 2 50 2-50 1 23 3-5 6-15 2-1 2 37 2-38 1 23 2 1 10 16 4-27 5 39 6-1 1-27 1-21 24 22 2-19 0 40 2 9 6-10 5 7 5-40 5 23 4 17 8-56 1 23 4 20 0-22 3 5 3-18 1 36 26-44 1 44 0-35 3 16 5-4 5-15 82 56-30 32-28-32-54 26-10-1-2-14-1 4-14-10-10 8-14 0-6 30-2-36-19-1 0-2-8 34-32-14-2-17-13 38-7-26-15 19-20 9-3-25 0 8-4 15-1-18 0 15-11-34-1 37-4-11-2-26 0 13-2-18-1 51-1-12-8-31-1 9-5-1-1-17-16 9-4-10-8-3-6 2-2 26-2-26-4 3-6 54 0-38-2-4-8-4-2 8 0-8-1 0-2 16-2 0-1-28 0 4-10 11-1 32 0-18-5 1-2-11-19 4-12-23-1 8-3-6-2 12 0 20-3-29-2 12-2 37-1-6 0 6-1-23-2-6-4-7-2-4-1 14 0 28-2-15-1-10 0 5-1 16-1-31-6 20-2 16-8 0-4-55-2 20-4 23-1-14-1-31-5 12-2 37-13-50-1 51 0-41-2-1-3 46-1 1-3-24-5 7 0-10 0-25-9-4-3 37-2-7-2-29-3 21 0-1-4 37-6-11 0-33-1 8-6 1-8 17-9-4-11 9-1-27-4-7-1-4-3 0-3 25 0-19-1 33-10-4-15-21-1 31-4 4-9-36-9 1-8-8 0 45-9-45-10-4-7 10-2 13-12 6-5-16-1-4-1 2-4 28 0-33-2-7-1 28-2-26-4 41-1-9-14-4-1 17-1 1-3-8-3-27-3-4-2 7 0-18-5 47-3-2-3-24-1-13-15 26-5-21-1-4-13 28-1 15-4-11-1-39-14 43-4-49-1 0-13 52-29-8-1-5-7-32-14 47-14-51-4 36-7-21 0-4-17 2-25 38-10-23-1 10-2-43-18 47-14-12-58 22-24-54-41 7-163 42-11-33-29 5-117-6-52 21-58 18-72-4-101-26-1 28-29 0-21-8 61 43 209-4 119-21 101 11 107-15 9 34 8-31 19 52 37-43 8 16 4 8 13-28 72 17 5 19 7 13 2-33 5 21 10-7 7-9 2 29 11-20 6-1 2 15 8-11 2-18 4 9 10-4 7 12 6-16 1-3 1 22 3-23 5 34 3 2 3 2 14-25 3-32 14 47 8-28 3 8 1 23 3-26 8 17 6-40 5 24 1 13 1 12 7-23 3 24 1-39 2 18 1 20 1-34 1 20 1 3 0 4 2-18 3 1 7-24 1 8 5 28 0 15 4-7 2 6 1-51 1 17 3 6 3-4 7 27 3-44 3 12 1 24 1 8 2-10 4-33 3 39 7 0 6-45 0 13 16 38 5 3 1-42 0 14 7 29 2-21 5 20 4-31 1-2 9 0 3-12 4 6 2 5 3 24 1-28 12 29 1-34 11-11 1 24 3 25 11 2 4-50 0 41 1 0 2-35 9 39 3-27 2 6 9-12 14 36 2-12 1 11 2-26 5 35 1-35 0 30 8 4 1-16 0-8 0 5 0-9 3 30 3-8 1 1 2-46 3-2 3 2 1 54 8-37 4 1 6 3 2 5 4-11 0 36 6-12 1-6 1-16 2-2 7 35 2-18 4-21 4 43 1-41 6 39 3-26 3 27 6 1 2-39 9 6 1 23 0-47 2 30 0-29 1 18 6 3 10 8 6 12 8-40 9 50 0-16 3-17 0-21 1 20 0 0 10 4 3 9 8-1 0-5 2-24 6 35 0-29 7 46 6-30 6 28 7-30 1-22 12 45 10 4 11-14 2-36 10 33 3-12 34-9 6 15 25 20 12 2 24 2 73-6 28 6 5-37 17-4 8 16 76-1 45 15 60-40-65 71-164 46-3-12-57 7-10-38-77-7-42 17-37 2-2-26-8 45-4-38-16 48-15-55-5 2-6 13-26 16-20 18 0-40 0 49-4-30-5-27-3 16-1 0-5 2-7-12-5-6-1 52-2-51-8 19 0 4-3 12-22-20 0 42-5-42-1 34-2-31-1-15-2-1-11 27-8-4-5-4-2 21-8 15 0-24-1 0-5-22-3 10-15-12-2 26-8-33-5 4-8 42-1-16-3 9-3-7 0-21-4 19-3 10-10-32-3 37-2-6-3 12-5-40 0-9-1 12 0-10-6 22-5-16-2 3-3-5-3 37-2-35 0 22-4-21-7 15 0 14-3-5 0 8-3-28-8-4-4 40-5-41-1-12-9 46-3-10 0-35-2 16 0 3-4 5-8 27-12-37-2-17-14 6-3 49-2-7-6-40-4 39 0-40-1 19-2-20 0-1-5 35-11-10-2 7 0-20 0 32-2 8-12-57-1 30-3-14-5 34-4-36-2-8-9 44 0-7-5-29-1 8-2 27-5-19-8-4-3-6-3 3-2 6-6-16-1 25-4-38-13 7-3 6-25 15-2 17-6-44-4 31-3 4-1 15-8-14-18 12-1-35-2-4-17 22-7-9-7-14-10-2-11 48 0-15-6-29-3 24-6 21-3-18-2-12-6 5-2-1-1 27-9-32-15 31-15 0-1-26-43 26-41-41-25-12 0 51-48-42-23 45-11-43-15 45-12-9-3-37-13 6-5 8-26 32-11-37-29 24-27-36-3 34-32-24-6 1-35 25-25-25-58 19-100-19-171-2-25-14-12 44-5-7-6 35 34 32 56-26 14-8 78 24 78 18 4-28 29-22 28 14 12 34 16-2 14 1 209-44 15-6 1 53 2-44 16 29 36 17 12-10 91-39 30 37 19-34 15 2 7 17 11 13 14-18 11 22 12-13 1 18 4-4 12-40 6 33 1-23 3-4 4 8 3 17 3 14 6 2 6-36 1 5 5-14 3 13 4 10 9-29 5 32 4 17 0-12 2-5 6-5 0 17 0-10 1-25 13 23 4-4 2 20 6-52 3 22 4 14 5-34 2 14 4 14 1 9 3-17 1 13 4 16 7-20 1 9 2 15 24-11 3 1 4-26 5 8 1 27 1-23 6-32 17 39 3-38 6 17 2 7 12 4 1 4 2 8 0-21 2 24 1 0 2 0 1-36 6 12 2 23 4 3 1-27 6-13 0-1 1 43 2-13 11 16 9-22 9 5 4-20 2 13 6-18 4-4 13 23 10-7 11 4 1 33 8-20 6-17 1 6 4-1 3-21 2 18 1 0 1-10 0 5 3-6 8-2 7 45 4-13 3 0 0-3 8-35 5-2 11-2 12 14 0 20 0-26 5 24 2-23 7 47 5-19 21-30 10-1 1 9 1 6 12 30 1-33 2-5 20-1 4 10 0 10 4-29 7 33 1-15 8 37 7-50 2 23 12 5 1-30 5 29 30 8 23-34 2 43 8-25 8 3 14-11 26 19 36-9 6 10 55-34 93-2 110 6 65 29 146-24-310 101-177-17-14 12-13-43-12 37-138 1-3-40-51 7-5 10-9 14-26-24-23-5-2-2-5-5-7 3-8-3-12 2-1 14-2 36-14-53-15 25-5 11-9-10-5-1-5 14-5-34-14 14-25 13-10-2-6-12-2 40-15-50-2 18-17 14-21 5-1-25-1-17-1 47-6-11-4-32-1 41-2-33-9-7-3 31-14 18-2-38-11-8-1-1-3-5-1 34-1-16 0-13-3-10 0 5-1 21 0-26-8 46-1-43-4 12-13 31-13-22 0 16-21-21-2 34-16-32-12 14-4-1-1-26-4-2-7 40-8 9-2-37-2-16-12 16-9 13-1 19 0-6 0 11-6 2-1-7-9-48-3 43-3-28 0 3-3 30-1-8-2-2-11 18-3-40-7 18-9 1-5 14-15-7-1-11-1-14-8 3-17 15-1-8-4 13-8 15-24-15-4-2-2 18-3-16-5-41-6 9-7 30-7 8-5 7-8-55-17 16-15 5-3 4-9-24-4 27-16-21-37 47-3 2-15-2-11 0-8-41-3 1-21 2-3 15-16 22-12-36-2-4-4 34 0 4-21 6-7-27-12 27-1-24-13-28-3 40-22 9-29-10-4-11-2 23-34-48-34 46-3 2-17-17-9 19-1-55-25 48-13-28-15-10-42 37-23-39-6 48-23-5-46-9-33 11-19-16 0-33-8 30-4-30-6-2-19 9-7 103 30-47 4 22 8-17 40 29 36-3 17-27 16 32 27-15 8 23 1-38 14 39 4-55 17 23 17 17 3-13 0 24 10-12 3-16 6 17 48 6 6-45 4 56 13-34 24 25 4-29 5 17 18-10 6 1 8 6 5 2 12-16 6-3 11 34 0-11 6-39 10 36 4-24 0 15 23-16 2 35 24-32 18-8 6 23 1-6 6 35 12 1 0-10 9 5 1-28 4 10 14-18 2 33 5 7 1-1 0-29 18-15 1 1 9 3 2-16 9 49 4-7 8-6 3-17 19 30 10 8 5-12 2-11 0-15 2 23 25-42 9 32 1-14 2 8 11-6 22 0 1 12 5 12 1 1 0 3 6 4 1-17 1-20 3 8 6 33 4-43 4-4 1 9 3 0 0-14 0-3 3 47 2-22 18 27 16-39 0 11 17-6 4-9 6-1 7 29 8-8 2-16 16-5 8-9 1 50 1-48 3 48 14-8 1 14 4-57 8 0 1 49 2-22 6-16 0 42 8-1 4-33 2-8 3 31 5-13 12-26 12 9 4 3 2 13 7 27 2 3 45-30 2-1 1 8 16-10 17-6 5 13 10 7 4-38 6 58 2-52 27 0 17 6 3 31 3 12 2-28 0 21 10-12 37-36 26 26 8 7 4-28 6 7 54 11 6 33 13-41 29-3 43-7 21-2 2 17 1-9 16 31 2-42 69 21 43 9 134-22 40-3 25 12 4 15 49 14 36-29 94 33-374 23-49 27-128-25-23 8-31-8-22 43-27-39-70-20-73 39-37-10-1-24-21-4-12 48-2-11-4-17-34 11-5 16-26-1-9-43-13-3-13 47-3-1-7-46-8 38-2-15-5-22-3 44-10-24-13 16-14-1 0-34-9 7-1 3-8 46-4-37-15 4-8-18-1 17-4 32-5-23-1-8-1 2-4-4-15 8-7 15-5-39-1 45-1-6-1-13 0-15-1 1-7-5-7-5-13 15-1 9-3-19-3 2-3 10-5-2-6 19-5-42-1 15-1-5-4 38-1-1 0 0-5 4-3-33-2 38-1-23-15-3-8 12-8 6-1-7-2-25-2 14-6 11-6 4-16 9-8 1 0-4-4-17-6-10-1 25-3-6-2 11-6-41-7 9-6 32-5-39-4 28-4-23-11 17-11-31-3 18-4-12-5-3-3 18-1-13-1 39-11-27-2 30-9 0-1-31-5-22-1 42-3-32-1 13-10 30-3-36-4 12-2 20-3-25-2 28-12-10-4-12-2 11-11-11-2-35-2 51-4-12 0-17-1 15-7-22-4 0 0 17-9 23-2 0 0-29-7 8-1 13 0-26-1-18-5 35-3 18-2-27-11 26 0-52-1 38-1-40-15 54 0-14-2-38-1-3-2 22-2 3-4 26-14-38-6 21-5 7-3-27-1-11-4 22-1 18-8-25-11 27-1-14-8-20-4 30 0-23-10 20-11 4-8-40 0 34-5 0-10 9-10-19-2 3-10 21-6-13-4 16-6-18-1 18-1-21-8-28-5-2-4 2-1 52-6-2-1-10-9-18-14-26-5 20-6 10-2 21-5-11 0 4-5 11-2 2-7-19-10-18-6-7-3 45 0-26-14-22-1 26-10 8-1-27-25 16-3 14-12 2-18-30-17 2-78 31-51 57 8-3 11-9 19 10 1-32 9 20 6-7 10 16 11 8 9-18 4 23 23-29 1 13 7-12 13 17 8-18 5-5 1 7 1-14 0-10 6 53 2-37 0 28 6 0 6 1 4-13 8 5 4 13 4-13 7 9 1-42 0 24 10 3 2-6 6 20 3-18 1-9 0 31 0-50 5 25 10-20 12 17 4 15 6-12 0-20 0-5 4 16 3 27 0 3 6-4 11-16 8-1 0 29 2-1 3-11 2-13 6-21 4-11 5 28 1-6 0-14 1-3 1 29 3-25 1 17 12-4 0-17 2-7 5 24 11-19 2 48 9-48 2 8 7 29 1-32 6-10 2 12 4 13 1-1 2 31 2-51 6 26 5-24 4 8 4 41 1-8 3-40 0 12 9-6 7 14 4 15 8 4 5 5 10 1 0-12 0-12 7 1 7-14 1 24 1-24 0-2 4-1 0 41 1-19 8 8 18-24 0 40 7-31 0-20 9 46 1-27 6 15 0-33 2 24 0 1 8 5 1-3 2-26 3 28 5-16 19-17 3 9 3 20 5-10 1-23 11 19 3 19 2-15 4-17 3 48 5-33 0-11 1 20 2-16 10 18 6-28 5 40 3-22 2-5 2 27 3-40 10 47 1-28 6-18 8 44 3-19 2 24 5-45 1-9 2 31 7 14 9-23 5 11 10 25 11-37 1 23 1-38 2-5 6 15 9 23 8-27 4 34 1-18 7-15 1 30 7 15 6-53 4 42 6-30 3-6 5 25 8 7 6 15 5-55 7-2 2 26 1-27 7 25 3 28 1-40 0 36 8-18 14-25 1 38 4 8 6-41 13 9 6 34 0-15 16-34 6 54 14-13 5 10 2-35 3-9 1 31 1-36 14 32 1-31 3 31 17-20 5 28 7-24 5 33 6-37 12 17 1 2 20 6 1 4 2-6 4-12 22-23 6 45 4-26 31-16 29-8 34 14 21 10 9 24 6 6 41-56 4 42 55-28 22 20 76-3 17 8 92 20 68-29-197 57-12-8-18-18-40 18-1-12-4 20-37-24-91 6-55 47-37-24-7-12-5 21-26-33-32 21-3 19-21 9-11-57-6 25-1 23-17-48-7 48-3 4-19-28-26-20-3 10 0 9 0 25-7-35 0 9 0-4-5-6-5 0-7 7-16-15-21 37-2-28-28 16-1 2-12 3-7-20-1 26-3-11-3-9 0-15-7 4-4 16-3-12-2 34-22-23-8 8-2 24-5-23-4 25-34-39-2 32-4-24-5-23-2 6-10 25-12 3-12-11-4 9-1-9-2-25-12 28-2 20-3-29-19-17-3 21-6 25-2-37-3-11-6 35-9 21-4 1-4-3-4-23-8-30-1 34-16 10-1-25-2 5-4-7-4 20-3-40-6 23-12-22-4 46-3-8-11 15-9-47-9 38 0-20-4 11-1-21-6 37-3-11-1 14-5-3-16-37-1 1-5 18-1-31-2 40-6-28-4 18-10 18-1 4 0-51-7 25-1-20-7 35-1 0-3 6-3-11-1 3-3 11-2-15-2-7-5-27 0 7-10 40-7 2-5-5-9-10-3-26-11 46-9-45-4 43-1-5-2 7-1-12 0-8-1-22-1-3-2 11-2 35-9-39 0 8-1-14-3 7-3-20 0 58-3-34-7 8 0 21-12-39 0 36-2-23-4-1-1 27-11-46-6-4-3 24-4 27-3-16 0-3-3-13-2 19-4-20-4-9-2 10-7 33-2-51-4 37-1-15 0-18-1 21-5 3-1 14 0 9-2-41-2 29-4-43-2 12 0 33-4-30-5 18-1-28-10 29-8-34-7 51-1-45-1 1-4 12-7-7-15 15-2-3-4 15-8-10-3 14-2-12-1 14-24-12-3 3-4-21-4 28-13-35 0 46-1-7-2-10-1 7-10-15-1 1 0 26 0-12-1 11-1-31-1-10-2-15-2 40-4 17-1-24 0 12-1 14 0-34-1-8-6 27-1-2-3 7 0-40-1 40-1-18-3 14-1-1-1 42 0 23 2-23 1 15 4-24 0 32 4 3 1-25 0-3 1-17 2 26 0 11 1 12 1-27 1-6 0-11 1-6 3 48 0-36 1 7 0 27 0-22 2-29 1 46 0-17 0 1 0-30 1 1 0 50 0-6 1 4 0-33 3-6 1 42 0-14 0 3 2-10 0-3 2-15 2-10 2 16 0 28 1 2 0-16 1 15 0-38 1 1 0 26 3 6 4-2 4-26 4 18 0-23 6 15 1-20 2 47 14-14 22-22 14 32 1-17 5-14 2 9 1-16 0-5 11 46 1-11 3 11 1-42 2 3 15 31 0-41 1 28 2 27 3-18 3-15 0 21 1-22 0 3 1-11 3 18 6 9 3-27 3-14 2 23 11 3 5 29 1-14 5-25 0 10 2 3 1 0 0 22 1-38 4 14 5-6 3-3 1 9 0-2 1 27 0 4 4-35 0 20 4-30 3-7 3-5 9 25 1 29 3-13 5-20 1 4 3-21 5 16 2-18 3 28 7-2 4-18 0 37 6-41 1 7 2 22 1-6 6-1 0-8 2 11 1 14 7 2 1-10 8-35 4 7 1-6 9 15 3-8 1 6 4 23 0-26 3-4 4-6 0 14 1-12 2 11 2 30 5-39 2-3 5 0 1-4 3 12 4-8 0 53 6-44 6 27 3-6 8-16 5-15 0 0 1 28 7-32 1 29 9-11 2-16 1 56 9-42 3 25 2-29 0-6 3 17 0-11 9 17 1 28 0-34 4 35 24-20 5-21 3 8 1-18 4 27 3-23 1 3 7-9 5 20 13-13 3 20 5 22 6-44 0 13 21-20 1 5 1 11 0-12 9 10 15 25 4-34 0 30 1-4 6-18 7 19 9-13 0-21 4 8 2 10 21 40 4-29 0 17 2-39 2 47 1-20 1-4 6-5 4 11 1-7 20 21 14-2 0-23 42 23 21-23 10 25 17-45 25 1 8 41 2-43 5 21 6 2 8-13 22 29 5-24 23 38 5-41 1 6 10 2 3-12 73 18 25 26 36-34 50 28 5 6 1-26 3-8 71-23 56 0 1 59 37-24 170-33-240 90-84-27-51 17-4 1-1-5-41-11-12-2-25 30-15-4-17-29-65 2-2 37-22 6-20-29-30 12-1-4-5 28-23-37-39-11-13 17-4 12-5 24-6-15-21-29-28 24-9-27-15 32-60-39-6 49-16 3-5-37-29-7-4 4-10 33-10-40-3 46-25-33-13 3-9 19-15-9-4 8-1-6-2-18-2 2-11 10-4-19-6 3-2-8-6 33-2-13 0 25-1-18-3 8-6-32-4 44-9-38-10-17-11 41-2 6-7-26-4-14-6 31-3 13-2-32-11 18 0 20-10-55 0 24-2-18-2 41-2-40-5 9-1-16-7 5-6 50-1-32-5 22-3-29-3-8 0 42-4-5-5 5-6-19-1 22-3-50 0 52-4-41-2-9-1 21-2 2-7-30-5 50-2-47-2 22-1 5-1 25-4-41-1-13-2 19-1-16-2 12 0 2 0 23-2-16 0-18-1 36-7-26-6 27 0 5-6-18-1 4-1-33 0 49-3-37 0 29-1-43 0 38-10 15-2-11-2-33-1 43-6-3-4-42-1 8-4-9-5 7-4 15 0-27-4 45-2-28-2-5-1-2-1-5-1 42-4-2-3-41-2 30-3 24-3-36-10 22-1-17-8-12-1-16-2 36-2-9-4 22-3-23-2-24-3 52 0-13-2-1-2 1-1-29 0 44-4-11-5 1-2 4-3-27-1 23 0-42-1 34-1-28-1 37 0-25-1 17 0 17-1-6-1-26-1-19-3 16-4 38 0-16-1 6-1-33-1-2 0 41 0-25-1 26-2-34-3-2 0 37-1-16 0-22-1 40-1-34 0 7-1 10 0-9 0-22-2 36 0 5-1-31-1 37 0-5-1-14-1 13 0-28-1 9 0-25 0 17-2 8-1-2 0 21-1-32-1-11-1 5-1-1 0 18-1-2-1 14-1 14 0-37 0 1-1 29 0-40 0 19-1 0 0-20-1 14 0-22-1 30 0-1 0 5-1-14 0 8 0 9-1-16-1-3-2-12 0 8-1 43-1-15 0-14-2-8 1 95 0-24 1-4 0 22 0-29 1-9 0 11 1 11 1-10 2 6 0 17 1-46 1 52 1-44 0 30 2-15 0-7 1 28 0-12 1-24 0 16 0-20 1 30 1-32 0 36 0-28 1-3 0 12 1-4 0-3 0-1 0 44 1-1 0 2 1-17 1 3 1-24 1-7 0-9 0 29 1-16 0-14 0 45 1-17 1 21 0-2 0-8 1-8 0 1 0-30 1 23 0 21 0-38 1 1 0 32 0-25 1 35 0-47 0 42 0-8 1-32 1 26 2 17 0-21 0 28 1-2 0-18 0-16 2 36 1-13 0-2 1-19 1 27 0-23 1 20 2 7 0-38 1 6 0 21 1-43 0 46 0-11 1 12 1-10 1-3 0-29 0 11 1-8 0-3 3 49 0-1 0-48 0 28 2-19 1 5 0-10 2 38 0-2 0-33 2-6 0 45 4-3 6-27 1 28 1-13 4-10 3-2 1-13 4-11 4 45 0 12 2-33 1 1 2 15 1-25 0 38 1-37 1 15 2 10 11-34 6 42 8-5 0-18 1 7 4 19 0-18 2-34 1 36 1-17 0-14 4-5 3 34 3 9 3-32 2-7 7 53 0-37 1-19 12 51 4-2 2-3 1-47 2 48 0-13 9 5 4 17 5-19 3 5 5-3 12 6 1 4 0 6 8-4 8-13 3-26 1 1 3-15 2 40 2 8 3-19 2 19 2-21 18-27 1 4 6 35 8-21 0 5 7 26 12-14 12-24 5-7 9-4 12 0 2 34 2-22 20 29 1-39 3 48 3-48 4 23 3-12 1-6 18 2 3 38 4-36 45-2 21 22 2-19 4 18 3-10 7 14 4-28 38 6 26 34 33-38 34 0 9 8 1-1 83 0 3 0 47 7 18 22 45-36 53 4 52 11 33-11 68 4 1 16 49-26-218 56-9 9-91 5-48-1-63-3-28 33-1-24-17-8-79 35-49-37-102 42-16-50-9 39-26-4-15-31-2 15-9 32-6-5-14-46-13 28-4-10-25 35-1-37-3 4-2 20-10 5-9-17-2-14-4 7-4 2-2-7-13 8-19-11-9 43-13-2-1-26-1 19-1-26-6 20-2-3-1-21-4 4-2 17-7-38-3 13 0 6-2 17-5-13-2 10-1-2-1 22-2-45-1 6 0 28-4 3-1-44 0 7-1-1-1 31-1-1-1-23-6 33-10-48 0 32-3-11-6 19-1 10-1-51-3 45 0-13 0 16-1-23-2-22 0-4-1 1-3 56 0-23-1 20-2 3-1-41-1-10-2 28 0 7-1 0-1-10 0-23-1-5-1 38-3-11 0 24-2 2 0-18-2 4 0-2-2-1-1-29-1 27 0-18-1-17 0 19-2-15 0 2 0 39 0-46-1 40 0 11 0-11-1-23 0 7-1 9 0 5-1-38 0 42-1-6-2-10-1 0 0-26-1 49-1-15-1 0 0-6-1-9-1 6-1-15-1-8 0 12-1 21 0-18-1 28 0 6 0-19 0 10-2-17 0 24-1-8-1-35 0-3-1 42-1-46-1 10 0 40-1-18-1 27 0-54 0 7 0 1 0 17-1-9-1 23 0 10 0-15 0-37-1 33 0-25 0 5 0 13-1-20 0 16 0-17 0 17 0 24-1-41-1 35-1-6 0 63 0-33 0-3 1 40 0-24 2-17 2 41 0 7 0-20 0-24 1 52 0-46 1 30 0-22 0 7 1-18 0 47 1-20 1-6 0 9 0-1 1-10 0 3 1 22 0-9 0-28 1 15 1-11 1 15 1-29 1 10 0 34 0 7 0-2 0-55 1 58 0-54 1 8 2 15 2 13 1-28 0 45 1 1 1-39 0 30 2-30 0 39 1-8 0-27 0 9 1-5 0 25 1-49 1 32 0-23 0-5 1 35 1 16 0-35 0 14 0-12 0 23 0-40 2 8 0-9 1 44 1-28 1-18 4 53 3-20 1-1 2-6 1-5 1 6 3 12 0-2 4-34 3 32 1 8 3-48 1 9 5 44 0-20 6-20 2 23 2-10 4 3 4 16 3-26 3 21 1-23 9-15 9 7 7 35 5-20 8-3 4 22 7-23 0 10 5 18 2-29 4 35 2-21 3-26 2 8 5-5 14 15 20-10 3-14 19 9 5 31 8-16 17 2 12 0 4 4 12 1 43-21 38-7 2 32 154-17-228 59-37 28-17-22-4-22-35 5-14 12-20 6-12-22-6 21-1 23-5-47-1 46-17-44-13 3-44 18 0 1-6 20 0-26-11 10-2-14 0 6-3 11 0 9-3-37 0 18-2 2-4 16-1-4-1-7-1 1-1 15 0 13 0-31-1 18 0-10-1-21-1 30 0-5-1 13-1-39-1 39-1-15-1 17-1-41-5-11-1 9-1 20-2-16 0 14-2 27-2-48 0-1 0 0 0-6-1 15 0-2 0 5 0 30-1 0-1-25 0-4-1-15 0 32-1-33 0 43 0-9-1-14 0-12-1 48-1-32 0 7 0 24 2 39 0 2 0-8 2-6 1 0 0 13 0-17 1-6 4-14 1 10 2-10 0 13 1-1 1 20 1-27 1 12 1-2 0 9 0 20 2-32 0 36 0-42 0-4 2 32 0-23 1 24 1-8 1-3 0 29 2-6 0-31 0 20 1-34 1 55 1-24 0-32 0 2 2 16 2 9 1 10 0-36 2 18 2-1 0 11 2-15 4 37 4-14 1-8 3 18 9-26 1 0 3 23 3-21 4 21 11 12 9-45 4 5 6-17 3 30 8-29 0 24-45 62-10-18 0-4-12 10 0 16-2-18-3 9-8 35 0-5-2-30-3 8 0 3 0-8-1-7 0 31-2-17-6 9-2-25 0-15-3 29-2 25-1-1-1-16-2-30-4 2 0 22-2-8 0 23 0-7-2-23 19 45 1 5 5-4"/></g></g>
<line x1="81.8" y1="997" x2="302.59" y2="856.53" stroke="#000" stroke-width="1.1" stroke-dasharray="3.38 1.46"/>
<rect x="71.1" y="848.55" width="242.5" height="169.1" fill="none" stroke="#444" stroke-width="0.7"/>
<path d="M81.8 1017.65v2.7M118.16 1017.65v2.7M154.52 1017.65v2.7M190.88 1017.65v2.7M227.25 1017.65v2.7M263.61 1017.65v2.7M299.97 1017.65v2.7M71.1 997h-2.7M71.1 973.87h-2.7M71.1 950.73h-2.7M71.1 927.6h-2.7M71.1 904.47h-2.7M71.1 881.33h-2.7M71.1 858.2h-2.7" stroke="#000" stroke-width="0.73"/>
<text x="81.8" y="1028.85" font-size="9.5" text-anchor="middle" textLength="5.55" lengthAdjust="spacingAndGlyphs">0</text>
<text x="118.16" y="1028.85" font-size="9.5" text-anchor="middle" textLength="16.64" lengthAdjust="spacingAndGlyphs">500</text>
<text x="154.52" y="1028.85" font-size="9.5" text-anchor="middle" textLength="22.19" lengthAdjust="spacingAndGlyphs">1000</text>
<text x="190.88" y="1028.85" font-size="9.5" text-anchor="middle" textLength="22.19" lengthAdjust="spacingAndGlyphs">1500</text>
<text x="227.25" y="1028.85" font-size="9.5" text-anchor="middle" textLength="22.19" lengthAdjust="spacingAndGlyphs">2000</text>
<text x="263.61" y="1028.85" font-size="9.5" text-anchor="middle" textLength="22.19" lengthAdjust="spacingAndGlyphs">2500</text>
<text x="299.97" y="1028.85" font-size="9.5" text-anchor="middle" textLength="22.19" lengthAdjust="spacingAndGlyphs">3000</text>
<text x="65.1" y="1000.4" font-size="9.5" text-anchor="end" textLength="5.55" lengthAdjust="spacingAndGlyphs">0</text>
<text x="65.1" y="977.27" font-size="9.5" text-anchor="end" textLength="16.64" lengthAdjust="spacingAndGlyphs">500</text>
<text x="65.1" y="954.13" font-size="9.5" text-anchor="end" textLength="22.19" lengthAdjust="spacingAndGlyphs">1000</text>
<text x="65.1" y="931" font-size="9.5" text-anchor="end" textLength="22.19" lengthAdjust="spacingAndGlyphs">1500</text>
<text x="65.1" y="907.87" font-size="9.5" text-anchor="end" textLength="22.19" lengthAdjust="spacingAndGlyphs">2000</text>
<text x="65.1" y="884.73" font-size="9.5" text-anchor="end" textLength="22.19" lengthAdjust="spacingAndGlyphs">2500</text>
<text x="65.1" y="861.6" font-size="9.5" text-anchor="end" textLength="22.19" lengthAdjust="spacingAndGlyphs">3000</text>
<text x="192.35" y="844.25" font-size="11.4" text-anchor="middle" textLength="163.28" lengthAdjust="spacingAndGlyphs">TCN: Predicted vs Real (Train)</text>
<text x="192.35" y="1041.05" font-size="9.5" text-anchor="middle" textLength="125.87" lengthAdjust="spacingAndGlyphs">Real Generated Power (kW)</text>
<text x="38" y="933.1" font-size="9.5" text-anchor="middle" textLength="149.05" lengthAdjust="spacingAndGlyphs" transform="rotate(-90 38 933.1)">Predicted Generated Power (kW)</text>
<text x="187.3" y="1075" font-size="21.6" text-anchor="middle" fill="#000" style="fill:#000;stroke:none">(g)</text>
<clipPath id="ch"><rect x="412.5" y="848.55" width="240.7" height="169.1"/></clipPath>
<g class="sc" clip-path="url(#ch)"><g transform="scale(.1)"><path d="m6368 8565-131 108-53 6-127 60 39-26 15 14 18-9 9-6 1 32 2-5 19-40 4 6 19 11 3-19 3 14 18 32 26-2 43-20 5-5 5 18 10-40 50 32 45-30 14 98-16-22-42-22-1 20-3 9-1 3-20-1 0 5-7-12-11 12-3-20-4-12-2 29-2-37 0 29-5-9-3 32-15-3-14-41-1 3-6 0-1 29-1-38-1 14-7-9 0 12-1 8 0-7-4 4-1 28-2-22-2-28-1 54-3-44 0 2-3 1-4-11-2 14-2 8-4 9-7 6-13 8-2-47-6 18 0 14-2 0-2-11-11-3-11 31 0-9 0-18-7 2-3-9-1 26-2-5-5-23-4 20-14 18-1-1-2 5 0-56-2 57-7-5-2-52-6 30-2 3 0-10-3 15-2-15-13 0-7 14-9 8-2-32 0 31-10-20-14 17-15 8-1 4-46-3-12 2-5-45-7 17-19 30-20-17-16 18-130-4-332 61 54-23 34 9 24 15 55-10 2 0 9 4 4-14 25-12 67 13 33 22 78-28 10-18 3 16 8 20 16-10 19 19 3-56 13 49 11 6 13-23 9 8 17 12 3-9 4 3 7-27 3-3 16 10 3-11 4 18 1-4 5 21 1-6 7 6 5 2 4-32 2 10 1-26 12 15 3-4 18 11 5 18 5-5 3 19 1-14 1 10 2-25 5 14 1-8 1 19 3-4 2-19 1 7 9-3 4-24 0 42 1-23 2-7 0-12 1 1 3 42 4-1 1 4 2-46 1 0 1 7 4 30 0-15 2-12 1 5 0-11 1 32 3 7 11-1 3-12 2-8 4 23 0-17 3-4 2-20 4-10 4-3 1 48 1 4 0-37 4 19 7-19 1 2 1 38 4-32 3-19 2 28 0-4 1 25 2-15 5 15 1 1 0-11 1 9 1-8 4-31 2-15 13 53 2-8 3-3 3 14 0-55 2 0 0 30 1-14 3 22 4 7 2-32 2 3 3 41 4-55 2-4 0 11 1 23 8-26 1 29 1-28 7 46 7-24 4-10 0 20 15-27 3 16 1-21 7 33 6-6 8-3 4-14 5 24 5 8 1 1 3-15 5 2 4 3 6-40 4 6 5 44 3-31 5 13 16 0 10 18 32-28 12 2-18 42-33-6-47 34-3-23-8 8-5-9-1-12-6 9-1-1-8 22 0 17-5-11-5-11 0 19-12-32-12 19-1 2 0-8-9-9-5 8-3 34-3-17 0-19-5 27-2-41-3 7-1-6-4 9-7-5-2-3-6 25-1-3-2 3-1 17-9-42-4 41-3-11-3-22-2 2-2-7-6 26-2-17-5-7-9-8-2 16-3 35-1-21-5-1-3-11-1-25-1 11 0 10-4 8 0-25-1 39-1-23-1 23-1-31-2 33-2-25-3 21-1-6-1-30-4 19-17-5-10 8 0-10-1 8-1-16-1 33 0-3-3-10-1-9 0 21-2-28-6 0-4 44 0-21-3 4-2-11 0-23 0 37-3 7-2-38-2 5 0 32-5-11-2-25-1 20-5-7 0 15-2 14-1-3 0-13-1-12-1-24-1 36-1 11-1-46 0 28-2 14-3-39-11-6-2 13 0-3-3 31-5 8 0-13 0-24-5 31-1-9-2 14-4-49-1 9-1 12-5 31-6-29 0 32-3-2-4-3-2-1-10 1-3-25-2 16-2-9-7-21-4 45 0-7 0-30-2 35-2-8-1-24-7-3-7 28-1 0-2-6-2 11-1-9-1-30 0 39 0-2-2-32 0 39 0-14-1 6-9-18-4-20-6 20-1 8-3 15-12-30-3 14-5-8-2 12-27-3-8-3 0-31-7 28-12 5-7 5-4-3-1-36-8 37-13 18-16-16-8-10-23 2-3 11 0-35-2 40-23-22-2 18-1-11-3-2-9 19-25-3-14-16-34 4-57 9-23 5-22 4-7-37-60 22-4-1-2 0-10-38-21 30-9 12-18-12-55 8-23-4-45 10-44-11-55 20-561 45 15-11 18 7 72 4 101 6 69-46 98 17 58-10 21 46 5-24 212-18 26-9 11 10 167 40 83-7 40-3 1 12 12-10 14-17 2 18 31-3 18 17 1-1 0-23 6 0 10-9 1-13 5 12 8 9 14-3 10 26 1-54 0 14 10 8 5 9 0 24 6-12 6-44 10 22 0 32 5-39 2 13 3-12 4 15 3 13 1-39 2 7 7 5 4 28 12-33 7 33 4-8 10-5 0-34 1 20 6 33 0-29 4 26 2 3 3-36 2-15 7 50 2-1 3-19 3 6 3 19 7-14 8-4 3-29 2-3 4 24 4 6 7-28 0 19 1 16 5-26 6 17 3 19 2-35 1 10 1 29 1-16 3-4 0-14 8-15 4 21 2 22 5-1 0-15 2-26 4 18 2 5 1 4 3-27 3-8 5 57 0-34 1 27 0-31 1-6 1 38 1-10 1 16 2-29 0 3 4 1 1-33 1 10 2 27 3 1 3-37 0 43 0 14 4-20 0-39 5 19 5-6 1 6 2 4 3-18 3 51 7-2 8-15 2 10 1-18 0 7 0 3 4-18 2-8 1 27 1-22 0 4 0-18 4 29 3-4 6 18 3-1 4-8 0-7 5-6 8 10 2-2 0-23 9 16 4-9 11 18 6 19 5-52 1 15 10 40 1-43 1 21 5 2 3 5 0-27 3 6 1-13 4 48 2-37 3 17 4-8 12-3 16-24 0 5 1-7 8 6 4 4 3 34 19-10 6-13 3 22 9-38 45 11 11-4 52-10 3-3-67 96-51-33-6-1-60 54-18-5-7-47-6 24-6 11-1-37-8 27-5 22-1-41 0-10-1 22-31-2-3-2-1 17-1 3-4-20-4 4-1-16-14 34-6-16-9 33-7-19-1-27-1-7-11 0 0 36-1-24-3 13-4 26-1-29-6-21-12 30-8 22-1-57 0 27-2-23-4 15-1 25-1-26-1-13-3 50 0-43-3 43-2 0-2-15-3-20 0 14-4-29-3 18-1-20-2-1-6 41-5-30 0 19-1 4-7-2-3 2-2 10-3 12 0-1-5-42-2-15-3 27 0-9-5 16-3-7-1 30-1-14-1-22-1 25 0-14-10-27-1-1-2 14-3 11-7 10-2-29 0 8-1 26 0-1 0-43-1 22-1-6 0 11-2-26-4 1-1 16-4 18-1-22-5 8-1-7-1 31-1-21 0 11-1 6-1-4 0 18 0-29-3 7 0-15 0 18 0 7-1-41 0 37-1 7-5 12-1-50 0 16 0-21-2 32-2-36-1 55-3-5-4-7 0-43-3 53 0-37-6 5-4 38-1-36-3 13-1-9 0 14-1-8-6-13 0-6-1 5-2-15 0-3-4 21-5 31-1-46-1 23-1 4-4 19-8-53-5 43-1 9-2-42-14 13-30 19-8-20-4-11-6 22 0 5-4 8 0 9-1-30-6 6-2 5-3-33-4 27-5 3-7 16-9-44-3 7-2 0 0 26-16-35-7 36-13-38-1 30-15-3-4-11-7 37-7-35-2 35-16-21-41-12-5 11-3 12-2-17-20-15-12-10-1 9-2 26-14 22-2-16-12-39-12 33-9-7-18 21-4-14-20-11-12 3-6 14-57-17-37-8-61 39-16-52-30 50-14-21-38-4-8 10-45-3-35-2-3 0-51-25-34 40-19-16-124-19-14 1-41-12-175 55-48 36 102-27 38 35 182-22 23-16 67 20 104 0 31 30 48-49 9 19 163 6 9 25 11-43 30 18 25 12 7 2 25-14 12 10 5-23 4 21 32 7 1 11 2-51 21 34 4-27 7 37 15-24 9-7 4 6 0 30 1-29 1-7 1 25 2-20 0 35 10-54 6 24 8-9 2 39 6-43 9 7 5-12 7 5 20-3 6-1 8 40 0-19 1 13 3-39 1 21 5-12 6 38 4-6 5-6 0-35 3 26 3-14 21 11 6 3 9-15 3 13 3 10 2-1 3 8 7 6 5 4 1-8 3 1 4-33 11-7 6 43 3-20 2-32 5 37 6-9 2 6 1-19 3 4 5 24 11-41 3 28 4-20 2 10 2-11 1 42 3-2 6-43 3 11 3-5 2 29 2-31 2 33 1 2 6-14 3-27 1 34 1-30 0 38 3 4 2-1 0 3 6-36 10 15 1-13 8 38 4-51 13 4 3 5 1-8 3-4 0 6 0-2 3 40 3-25 0 18 5-19 2-20 0 13 2-8 3 52 1-26 1 10 1 2 2-16 0 22 2-40 6 7 12 14 0 13 3-34 6 38 2-23 6 26 3-37 3 20 11-14 0 27 5-22 2-12 7-6 0 11 4 1 14 39 1 0 0-17 1-28 1-13 12 15 7 2 6-18 4 18 10 23 21-10 2 9 7-25 19 9 21 2 0 23 39-7 33-6 11 19 14-32 31 30 27-24 100 10 26-29-40 101-85-42-15 27-32 4-44-15-21-20-8 15-27 7-28-26-49 35-3-24-55 35-2-10-15 2-3-30-10 5-12 33-13-39-1-6-11 32-19-21-7-9-5 11-6 2-2 25-19-32-4 47 0-52-2 0-2 0-8 21-10-13-2-5-1 14-1-5 0 12-3-20-4 2-4 31-4-24 0 19-4-11-4 29-1-25-2 4-1-18 0 0-6-4-1 10-1-5-2 27-10-33-2 24-11-12-4 18-1 0-3-20-4 27-2-23-1 20-10 4-3-31-8-13 0 31-4-33-5 3 0 25 0 20-1-38-1 6-1-18-6 54-5-7-2-16 0-31-3 16-2-8-2 44-3-6-3-37-3 18-1-7-1-9-3 14-2 11 0-1-1-6-3 13-3 6-1-23-2-11-3 44-7-17-4-16-4-7-2 16 0 0-6 14-3-30-1 40-10-44-4 19-6 11-4-8-1-20-4-17-1 17-6 0-1 36-4 6-2-30-2-24-3 0-9 52-4-11-1-40-1 35-3 17-4-17-6-31-23 24-12 11-3-37 0 6-1-4-11 26-4-26-9 35 0-7 0-35-1 3-3 10-10 12-11 13 0-4-4 16 0-22-4-4-5 26-2-51 0 33-5-35-2 38-1-23-3 27-4-13-11-2-5 15-2 6-2 3-41-27-5 5-1-29-2 54-3-26-5-18-6 45-3-24-1 1-29 18-8-22-17 7-4-31-2 28-13 27 0-1-3-31-43 6-13 22-2-21-43-2-149 5-8-7-81-25-68 47-165-26-115-3-130 55 12 20 67-34 49 40 102-31 16-5 12 19 47 24 1-33 204 0 48 1 21 22 3-7 43 0 40 1 34-21 51 6 2-18 3 12 8 3 6 26 14-33 34 16 10 6 1 24 3-21 5 20 6-55 1 38 3 8 6-40 10 31 0-35 20 31 2 0 7-19 3 19 3 1 14-20 1 0 1 36 16-12 4-2 2 13 5 3 2 4 1-54 3 43 2-18 13 31 11-10 4 7 0-46 7-8 1 49 1-9 6-19 3 9 2-24 1 24 6 21 0-46 3 34 1-24 2 39 11-7 4-41 6 33 8 14 1-44 0 17 3 16 5-24 2-4 1-14 1 53 1 1 4 1 3-37 1 23 5 3 2-17 1-1 15 17 2-36 0 34 3-1 8-18 0 17 8 19 0-31 1-4 1-10 1 22 2 9 1-32 2 29 5-39 0 46 4-34 5 21 1-1 1-26 18 28 3 13 17-32 1 32 4-21 3 4 2-23 3 32 1 17 3-19 2-16 0 3 2-21 1 27 5-19 2 11 4 7 1 16 0 0 5-3 5-43 2 55 3-18 9-10 4 20 1-19 1-18 7-12 2 40 1 15 0-55 3 17 12 3 0 23 7-5 7 19 11-22 0-29 1 41 4-18 5 0 4-1 3 19 12-42 8 45 6-18 5-16 13 4 6 17 1-19 1 3 4 15 2-2 22-25 34 32 21 14 10-22 1 1 19 21 11-6 14-49 5 54 15-1 3-20 1-2 3 26 4-28 22 2 4 21 104-28 36 11 37-28 3 12 95 33 56-22 70-26-174 79-194 9-42 26-32-52-4 5-3 33-3-13-14-4-2-10-28-2-12 25-2 2-6-4-41-36-13 32-8-24-13 29-3 16-4-27-21 14-1 4-3-29-1 29-6 5-10-3-12-46-4 53-4-16 0 11-18-39 0 31-1 5-3-16-1 8-1-29-5 4-8-13-3 2-12 37-1-26-4 9-13-18-1 40-2 3-4-22-6-3-5 2 0 33-1-40 0-17-4 23-1 9 0-25 0 24-11-19-6 35-3-1-1-47-10 43-6-16-10-20-4 51-4-25 0 8-1-14 0-17-11 16-4 9-7-12 0 14-1-34-4 48-3-30-4-17-9 23-4 32-5-53-3 20-3 9-4 21-2-44-7 11-4-1-5 20 0 7-1 1-2-23-2-17-5-4-16 16 0 9-3-22-8 48-3-24-1-20-1 8-1 14 0-24-16 36-3-15-3 5-2-7-3-17-3 16-10-24-5 20-2-25-3 29-2 14-4-25-1 26-1 14-18-42 0 6-6-4-11 38-1-29-2-27-22 12-9 33-5-8-7-13-13-10-4 43-10-3-7-13-1-14-3 21-2 9-17-5-6-21-3-5-5-17 0 10-1 40-4-43-2-1-17 4-8 12-11-17-5 20-9 5-3-6-18 24-11-38-8 40-20-43-13 13-5 25-21-31-29-22-15 25-4-9-5 26-25-20-4 34-19-13-13-16-7 23-16-28-36 16-9 19-10-3-16-26-31 16-108-6-40-8-14 10-23 6-47-20-39-22-65 45-45-50-16 14-11 16 44 49 46 38 41-24 9 24 72-27 88 7 106 3 42-26 7 30 25-1 10 12 42-10 22-14 12-13 2-14 6 3 0 35 0 3 2-27 27 21 4-5 3-24 20 14 5 17 8-6 3-4 23-27 7 23 3 8 7 9 13-16 8-1 3 25 1-45 7 9 0 10 1-15 5 17 2 4 14-16 1-4 14-1 2 17 3 7 5 14 9-9 2 6 3-33 5 17 1-27 6 41 24-19 10-7 4 3 7 22 11-16 7-17 21 0 1 10 0 26 2-43 0 38 1 17 2-6 5-10 12 0 2 7 0 10 5-33 0-13 4-4 2 29 1 12 0 5 2-26 11 7 3-22 1 3 3-12 1 31 0-15 1 21 6-29 15 41 1-13 2-27 2 29 0-43 4 12 5 13 3-8 10 41 8-30 0 11 6-10 5 12 4-23 2 12 1 10 9-30 0 32 1-37 5 44 4-9 3 17 2-33 3 12 5-21 2 33 7-37 3 14 23-24 2 24 21 24 0-6 1 9 1-27 5-10 0 43 8-27 6-31 5 1 4 12 3 4 21 1 0 25 7 2 0-18 6-6 3 35 2-41 2 23 16-8 1-30 2 53 3-49 55 47 11-42 4 5 0 14 2-7 13 35 4-55 20 9 2-10 22 22 37-20 24 54 8-14 93-17 1 5 48 28 7-35 69-2 44-2 17-8 57 36 0-8 11-23 211 14-222 84-56 0-54-25-61 5-4 14-9 9-105-47-58 44-52-25-35-7-49 7-19 23-10 0-49-27-13-24-10 36-10-26-30-10-12 26-2-5-1 0-42 27-2-37-1 39 0-51-3 5 0 25-1-4-21 14-1-25-4 23-11-9-1 1-6 27-8-54-1 18 0 12-2-23-6-10-3 24-1-2 0 4-7-23-3 53-9-14 0-23-7-16-1 32-8 7-1-37-14 43-1-42-5 28-2-2-5-25 0 20-18-2-7 1-3 0-14-24-7 19-3 33-4-54-5 43-14-33-3 7-4 8-2 7-4 17 0-1-10 9-10-14-2-23-3 17-8-14 0 22-3 10-2-9 0-1-5 14-1-53-3 43-5-47-2 7-9 11 0 39 0-18-11-34-6 49-1-4-10-46-4 36-2 4-3-17-2 28-1-32 0-6-5 28-7-16-5 19-4-43 0 31-2-32-3 39-5-13-7-7-1-13-2 19-14-22-17 45-11-42-7 11-10-18-8 26-2 9-7 4-2-3-8-20-2 16-3-15 0 27-1-12-9 9 0-1-8-39-11 45-12-23-6 5-2 23-7-32-11-16-6 24-16 4-9-10-2-3-4 31-9-15-2 2-50-41-6 26-7 11-6-5-3 2-56 9-39-19-15-11-53 38-38-44-2 40-45-2-11-22-8-23-53 12-19-6-63 17-29 27-6 7-11-16 46 37 5 23 4 18 13-19 13-27 12 30 3-43 31 34 5-33 0-1 1 27 36 32 9-22 20-15 8 22 7-1 12-16 5 27 0 4 32-58 16 25 3 31 66-15 15 12 0-52 27 23 8 5 2-26 2 1 7-1 18 30 3 15 11-5 2-11 3 14 1 0 1-18 8-26 2 56 4-16 2 15 2 2 3-49 34 44 1-7 1 0 0 11 0-27 6-16 5 2 5 11 6 2 9 9 3-11 9-8 1 11 2-22 0 36 1 1 7-43 14-1 3 54 2-13 3-2 9 2 4 10 1-5 5-13 4 22 4-19 3-1 34 10 2-27 2 31 7 8 2-4 2-14 1 5 16-3 2 3 0 13 2-11 4 2 6 8 14-27 2-16 3 17 0-24 2 13 16 27 3 5 10-36 1-3 4 34 4-21 6-1 0-26 10 17 1 32 0-40 9 2 1 44 7-26 1 1 2-8 0 3 5 24 2-25 0-20 3 34 1-8 10 7 7 12 3-17 5-6 5 3 3-15 1 2 10 3 1-5 0 44 1-43 1-4 16 46 2-53 10 9 10 10 9-21 21 52 0 0 30-43 6 10 3-2 9-14 3 29 19-34 7 16 7 8 6-14 5 38 16-34 5 14 6-15 38 21 14 0 13 16 3-19 10-20 1 31 9-36 0 8 20-13 4 24 10 34 4-35 10-13 23-4 17 17 47 31 50-8 5-15 12 18 172-11 45-5 44 19-141 20-111-6-87 41-3-23-7 25-54-27-4-18-9 28-139 6-11 1-62-12-6 29-1-57-33 47-37-37-1 33-10-12-7-19-4-1-10 19 0 15-9-19-4 12-17 1-6-37-3 18-2 14-12 22-8-33-2 36-6-54-3 30-1-11-3 9-8-21-7 30-3-21-3-18-5 41-8-4-2-20-2-6-19 26-7 4-8-44-1 49-2-12 0 0-1 3-8-33-3 19 0 12 0-12-10 13-3 0-4-37-6-2-7 29-19-20-3 29-3-30-7 25-11 13 0-9-9-26 0-6-2 7-1 13-2 10-22 10 0-40-7 22-9 15-6-5-9 22-1-15 0-9-2-19-1 0-3-5-9 2-2 28-1-30-2 24-5-5-1 21-2-17-4-21-5 13 0 2-5-20-2 50-6-3-5-7-11-8-2-3-8-25-1 14-3 15-6-18-4 33 0-46-6 20-12 19-7-46-1 53-15-9 0-8-4-6-6 4-11-1-16 17-12 4-7-9-4 5-20-23-5 2-10-24-5-8 0 40-5-15-5 32-6-49-1 43-10-42-1 22-12 19-1-32-2 3-16-14-3 24-5 12-11-17-12-3 0 19-11-36 0 47-1-12-7 9-4-24-1 5-3-25-3 20-2-8-16 25-6-31-6 0-3 45-2-39-30-8-1 27-1-11-5-15-3 26-17 5-1-34-20 41-3-35-3 11-9 17-22-19 0-18-26 53 0-40-15-4-33 9-29 15-69 69 3-2 9 14 3-32 4 13 0-12 47 19 3-1 2-43 3 51 19-7 1 11 22-24 6-15 5 12 2 2 5 26 3-49 3 40 4-41 9 1 3-5 3 3 6-1 9 26 3 14 2-6 4 13 4-3 12-3 1-30 1 14 1-19 1 22 0-9 0 3 2 2 6-3 0 3 4-15 1 2 5-3 5 16 4 17 5 7 6-36 7 10 4 19 0 10 1-50 3 16 7 21 0-45 12 46 3-27 1 36 2-49 0 38 2-38 10 51 3-38 9 23 4-11 0 14 1-43 2 8 0 14 2-21 6 45 1-39 1 15 1 35 3-34 2-24 0 51 2 4 1-7 9-40 4 39 9-35 0 37 1-21 3 8 3-27 0 21 1-10 3 24 2 0 6-27 4-13 1 8 1 34 3-31 0-15 2 52 7-4 7-48 3 29 2-12 4 21 3-27 7-11 0 30 1 1 12-25 7 44 4-16 2-7 4-17 1 34 3-38 20 26 3-23 2 36 2-3 3-1 9 17 1-9 2-48 9 8 4 34 1-34 4 21 3-14 1-1 4 36 0-8 1-41 5 11 1 8 19-21 7 52 7-9 5-42 3 30 8-27 6 8 1 8 9-15 7 20 4 6 0 9 6-29 3 37 6 10 2-48 4 34 6-2 15 11 3-46 15 49 3-54 1 19 2 6 3 20 2-11 18-15 2 4 1-26 19 37 17 7 13-6 4-8 6 29 1-10 0-49 6 37 1-6 22-16 3-12 6 36 21-3 11-35 3 1 8 43 2-12 0 20 1-9 1 1 3 0 0-11 4 16 6-21 10-3 16 12 0-4 10-11 10 4 8-6 15 2 2 4 40-16 4 44 6-4 9-45 3-2 7 45 12-32 10 15 28-4 16 1 11-15 37 13 14 1 55 21 48-21 6-26 49 10 1 16 30 10 39 5-223 71-97-51-7 19-23-2-38 15-1 18-11-9-4-12-7 13-86-29-38 23-15-25-23-12-10 24-19-25-7 5 0 13-3 15-1 17-9-4-3-22-2 18-3-12-3-4-9 32-7-49-8 24-7-8-9-23-11 44-9-31-1 34-9-41-12 26-10-2-4 10-13-17-1-6-5 23-8-10-10 14-6-40-22-7-1 45-8-20-6-8-6 12 0 13-1 7-1-16-4-17-5-11-3 40-2-15-1 17-1-12-15 1-1 20-3-50-4 44-2 7-17-48-4 47-1-9 0-37-16 24-7 10-5-15-2-12 0 2-6-16-1 3-9-2-3 50-6-27-11-13-1 36-1-37-6 1-3 16-3 10-2-10-1 25-10-17 0-14-5 27-1-17-6-24-9 11-2-7 0 39 0-13-4-5-1 15-3-13-1-5-9-31-16 0-1 44-1-8-1 2-2-21-1 8-2 14-3-11-1-10 0 1-8 2-1 10-10-28-1 26-4 5-2-25-2-1-2 17-11 10-2-25-3 9-2 34-11-3-6-36 0 37-3-8 0 5-1-41-3 3-3 1-2 28 0-11-3-6-3-10-1 1-1 33 0-44 0 49-2-51-1 27-2-13-2 14-2-12-8 11-7 13-2-12-7-4 0-9-5 43-1-54-4 0-4 6-1 17-1-13 0 0-1 2-6 21 0-29-4-4-3 10-3-11-2 40-4-10-1 2-34-13-2-17-19 50-2-1-6-40-16 34-3-19-4-20-8 40-7-24-2-6-8-5-10 5 0 3-9 17 0 19-3-8 0-23-2-9-7 22-2-20 0 37-1 0-1-53-1 31 0-33-3 39-1 9 0-15 0-7-2 25 0-17-5 12 0-34 0 41-1-23 0-4-2 22-5-8 0 0-1 0-1 2-3-12-2 7-3 16-1 0-1-9-4 28 0 41 0 3 3-1 0-57 0 50 1 2 1-12 3 16 0 1 1-38 0 13 1 24 1-49 1 22 1 21 0-19 0-14 1 30 0-31 2 22 1 6 3-5 1-9 0-7 1 19 0 16 1-32 1 7 0-21 1 30 1-18 2 28 1-27 1-23 1 33 0-11 2 15 1-38 0 54 0-28 1-8 0-16 1 54 0-54 0 36 6-39 0 48 1 7 1-34 0 6 6-4 1 21 2-2 0-4 2-8 1 0 1-14 1 29 0 8 2-26 1 7 3 3 0-17 3-4 0-15 5 30 2 11 1 2 5 14 2-2 7-38 1 24 0 8 1-2 2-25 5 2 9 16 3 16 1 0 3-21 4-29 4 28 0-11 5 26 1-15 1 14 2-7 1 15 4-49 4-2 1 41 2-40 3 15 2 4 7 17 0 7 2-9 3 10 4-27 1-11 1 36 3 9 0-18 2 18 12-26 0-4 3 15 2 2 3-29 5-16 0 26 10-20 6 25 0 2 2-27 6 48 1-25 0-23 2-6 1 48 4-44 2 52 5-51 1 39 0-21 3-22 2 45 5 5 1-30 0 35 0-3 1-1 1-6 1 7 1-17 1-7 4-16 3 40 3-1 2-13 1 4 5-22 4 2 5 4 1 21 0-45 3 36 3-7 5 9 0-38 1 11 5 31 3-17 3 28 2-54 0 50 7-37 1-14 6 42 2-3 2-41 1 22 2 13 5-27 2-1 2 48 3-55 5 56 1-29 3 25 1-26 5-1 0-16 1 50 0-51 8 43 1-13 6-34 1-3 3 17 0-10 1 4 2 35 1-5 5-10 18-32 0 1 1 2 10 42 5 6 0-42 5-6 2 35 0-11 7 3 0-23 4 38 2-16 2 20 14 6 4-19 1 21 3-35 1-17 32 12 7-5 3 43 19-50 3 7 4 46 5-55 6 11 1 7 1-7 7 12 0-12 19 6 2 29 3-2 6-10 4-37 3 12 0 17 5-2 14-12 16-14 1 19 1 20 0-11 0 13 31-28 3 41 26-36 35-11 5-3 38 45 1-34 11-11 2-5 5 51 37 4 9-52 14 23 13-3 26 15 21 11 8 7 8-54 34 21 23-21 23 10 34 21 74 1 27-3 62-25-267 82-62 0-17 12-32-40-79 2-64 22-16-16-3-8-9 24-2-8-16 8-16 0-11 21-4-35-13 20-7-10-9-11-27 36-17-43-2 31-12-17-14 15-16 1-18 6-3-1-23-5-1-26-25 38-2-33-6-8-9 15-12 36-2-49-11 54-1-3-3-22 0 18 0-31-13-13-11 25-7-9-3-19 0 24-3 10 0 6-3 10-2-49-4 10-9 14-2-9 0 31-1-38-2 2-1-5-3 9-2 17-3-14-1 25-4 11-1-12-6 4-4-40-2-1-2 0-1 9 0 6-12 9-6 1-5 15-1-23-4-5 0 3-1 0 0 14-1-17-1 21-3-20-3-8-1-3-9 7-4 36-1-16-2-6-4-10-2-20 0 32-2 12-4-34-2 32-1-37-7 17-1-16-1 1-9-6-1 19-1-17-3 53-1-11-3 10-2-37-2-13 0 38-1-8-1-27 0 44-10-27-1-27 0 48-1-25-3-9-1 9-5-8-1 12-2-5-2 4-3-14 0 41-4-3-1-8-5 9-5-16 0-3-2-15-1 6-4-15 0 46-2-26-5-24-3 29-9-14-1 10-1-15-3 36 0-47-1 19-2-21-1 3-2 48-2-17-1-22 0 20-4-26-3 15-1-23 0 19-1 5-3 1 0 18-1-38-2 26 0-15-3 41-1-14 0-37-2 49 0-19-2 6 0-23-1 12-1-21 0 28-2 13 0-21-5-12-1 15 0-15-1 4-2 37 0-35 0 6-1-20-2 21 0-8 0 33-1-39 0 42 0-49-1 19-1 30-1-35-1 21-1 12-1-5-1 5-1-6-1-43 0 34-2-4 0-25-1-5-2 3-1 36 0-21 0 16-1-2 0-37 0 50-1-22 0-23 0 44 0 6-1-47-1 41 0-21-1 23 0-31 0-5 0-12-2 18-2-17-1 40 0 5-1-36 0-2-1 18 0 10 0 1-1-33 0 45-1-7-1 2 0-33-1 23 0 18-1-45 0 26 0-34-2 50 0-29-2 7 0 3 0 2 0 17-1-26 0 2 0 2-1-19-1 42 0-28-1 14 0-29 0 1-1 7-1 5-1-21-1 6 0-1 0 26-1 13-1 9 0 29 0-8 0 31 1-11 0 8 1-16 1 20 0-11 0-40 1 8 1 8 0 12 0 5 1 13 0 13 0-18 1 14 1-10 0 7 0-38 1 34 0-5 0-3 1 15 0-20 0-32 0 55 1-40 0 36 0-2 0-35 0-6 1 0 0-4 0 35 0-11 1-4 1-2 0 28 0-30 1-14 0 25 0-7 0 15 1-6 0-2 0 14 0-10 1-1 0-21 1 18 0 14 0-37 1 30 1-23 0 17 0 18 0-25 1-14 1 40 0-38 0 14 1 17 1-7 1 17 0-18 0-7 1 25 0-23 0-20 1 41 0-11 0-11 0 13 1 8 0 3 0-6 1-31 0 18 1 21 0-24 1 20 0-54 0 32 0-1 1-23 0 13 1 37 0-1 0-5 0 5 1-6 1-23 1 5 1 24 0-5 0-2 0-28 1 29 1-20 1-10 0 34 1 1 0-17 1 11 3 1 0-13 1-36 0-2 1 6 2 49 0-45 0-10 3 51 2-39 0 21 0 14 1 6 5-23 1-30 1 15 0 37 4-28 2 8 3-18 0 24 1-29 0-2 0 14 2 27 3 3 0-52 4 33 0-24 2 27 1-16 1-17 3 15 2 13 2-15 2 22 1 16 0-50 4 29 13 8 1-31 3 8 3-6 4 41 2-19 2 24 0-23 0 5 3-34 0 31 3-30 10 27 20-10 1-2 2-17 1 23 1-22 1 1 0 4 11-11 2 56 1-32 3-21 3 44 4-30 5-17 0 17 4-13 4 50 10-18 26-5 3 2 1-4 11-1 2 13 5 12 3-25 4-3 1-18 2 36 9-42 3 15 12 40 4-47 3 44 3-1 1-26 5 3 10-4 10 30 0-39 4-15 2 6 8 9 3 21 9 10 6 7 11-6 7-15 10-11 12 20 4-3 15-6 10-13 20-19 8 5 18-5 16 36 29-6 32 24 6-42 72-8 17 24 38 13 61-27 36 13-224 40-63 12-9 8-76 8-15-7-40-2-11-14-9-4-25 48-9-39-10 37-32 2-5-56-13 30-12-20-12 14-3-8-8-9-1 36-8-4-5-37-29 30-17-24-2 11 0 7-1-16-10 36-15-5 0 6-4 1-11-20-3-15-2 30 0-10-6 8-2-2-3-20-1 37-1-11 0-13-1 7-4 5-2-9-1-31-3 22-2 6-2-2-1-10-1 23 0 7-1-3-2-48-1 47-1 8 0-38-6 40-1-27-3 18-3-11 0 1-1 3 0 2 0-39-1 4-1 43-1-14 0 2-1-4-4 20-1-42-1 19-3 22-2-36 0 3-3-19 0 39-1 6 0-25 0-16-1 48-1-15 0-33-1 20 0 23-2-38 0 30 0-19-1 11-1-8 0 28 0-20 0-20-1 0 0 30 0 2 0-33-1-12-1 10 0 14 0 16 0 14 0-11 0-38-2 40-1-1 0-36 0-7-1 31-1 13 0-16-1-15 0 6 0-8-1-11-1 45 0-39-2 19 0 1 0 20 0-14-1 21 0-1 0 4 0-7-1-4 0-20-1-8 0 13 0-21 0 17 0 22 0-2-1-38 0 28-1-14-1 4-1-19 0-3 0 43 0-43 0 24 0-4-1-2 0 15 0-30 0 48 0-29-1 12 0-23 0 14-1-21 0 26 0-4 0 22 0-21-1 5 0 2-1-26 0 0 0 23 0 12 0-29 0-7-1 33 0-12 0 13 0-28 0-12 0 48-1-32 0-17-1 17 0 19 0 14-1-40 1 68 1 11 0 20 0-23 0-21 3 7 0 11 1-10 0-7 0 32 0-2 1-33 0-1 1 45 1-48 1 1 0 19 1-17 1 5 0 11 1 18 0-25 1 10 1 19 0-27 1-14 0 53 0-24 0 9 1-20 1 37 0-16 0-24 1 29 0-46 0 16 1-14 2 47 1-33 0 1 0 17 0 10 0-43 1 7 1 32 1-18 1 25 1-1 1 4 2-14 0-19 0 0 2 4 0 15 1 7 0 9 0-14 0-4 1 1 0-1 0-30 1 10 0-9 1 38 2-44 0 13 1 7 0-14 2 12 1 18 2 19 2-19 0-8 3 5 1-14 0 0 4 20 1-32 0 50 3-54 0 4 6-8 0 53 1-7 2 7 4-46 1 19 2-19 3 21 5-4 0 21 8-35 0 3 17 24 0 7 7-31 3 18 7-18 10 30 18-10 10 4 9-23 53 10 41-24 38 4 40 34 18-31 3 2 65-2-256 57-43 54-34-49-1 4-12 4-2 14-7-14-16 15-2 18-6-42-1 38-4-12 0-13-1 15-1 23-3-38-1 23-3-33 0-4-1 10 0-14-1 5-1 0-3 29-1-26-6-6 0 36-1-32 0 17-3 5 0 22 0 1-1-23-1 13 0-9-2 1 0 20-1-12 0-34 0-4-5 38 0-38-3-2-1 33 0 15 0-36-3-3-1 36 0 9-1-28 0-24-1 37 0-21 4 76 3 15 5-46 3 3 0 29 1 17 2-26 2-23 3 13 10 15 5-17 3-3 1-2 4-11 1 50 0-10 7-24 9 25 18-30-66 77-2-24 0 3-1 8"/></g></g>
<line x1="423.12" y1="990.5" x2="642.27" y2="862.58" stroke="#000" stroke-width="1.1" stroke-dasharray="3.38 1.46"/>
<rect x="412.5" y="848.55" width="240.7" height="169.1" fill="none" stroke="#444" stroke-width="0.7"/>
<path d="M423.12 1017.65v2.7M459.21 1017.65v2.7M495.3 1017.65v2.7M531.39 1017.65v2.7M567.49 1017.65v2.7M603.58 1017.65v2.7M639.67 1017.65v2.7M412.5 1011.57h-2.7M412.5 990.5h-2.7M412.5 969.43h-2.7M412.5 948.37h-2.7M412.5 927.3h-2.7M412.5 906.23h-2.7M412.5 885.17h-2.7M412.5 864.1h-2.7" stroke="#000" stroke-width="0.73"/>
<text x="423.12" y="1028.85" font-size="9.5" text-anchor="middle" textLength="5.55" lengthAdjust="spacingAndGlyphs">0</text>
<text x="459.21" y="1028.85" font-size="9.5" text-anchor="middle" textLength="16.64" lengthAdjust="spacingAndGlyphs">500</text>
<text x="495.3" y="1028.85" font-size="9.5" text-anchor="middle" textLength="22.19" lengthAdjust="spacingAndGlyphs">1000</text>
<text x="531.39" y="1028.85" font-size="9.5" text-anchor="middle" textLength="22.19" lengthAdjust="spacingAndGlyphs">1500</text>
<text x="567.49" y="1028.85" font-size="9.5" text-anchor="middle" textLength="22.19" lengthAdjust="spacingAndGlyphs">2000</text>
<text x="603.58" y="1028.85" font-size="9.5" text-anchor="middle" textLength="22.19" lengthAdjust="spacingAndGlyphs">2500</text>
<text x="639.67" y="1028.85" font-size="9.5" text-anchor="middle" textLength="22.19" lengthAdjust="spacingAndGlyphs">3000</text>
<text x="406.5" y="1014.97" font-size="9.5" text-anchor="end" textLength="23.95" lengthAdjust="spacingAndGlyphs">−500</text>
<text x="406.5" y="993.9" font-size="9.5" text-anchor="end" textLength="5.55" lengthAdjust="spacingAndGlyphs">0</text>
<text x="406.5" y="972.83" font-size="9.5" text-anchor="end" textLength="16.64" lengthAdjust="spacingAndGlyphs">500</text>
<text x="406.5" y="951.77" font-size="9.5" text-anchor="end" textLength="22.19" lengthAdjust="spacingAndGlyphs">1000</text>
<text x="406.5" y="930.7" font-size="9.5" text-anchor="end" textLength="22.19" lengthAdjust="spacingAndGlyphs">1500</text>
<text x="406.5" y="909.63" font-size="9.5" text-anchor="end" textLength="22.19" lengthAdjust="spacingAndGlyphs">2000</text>
<text x="406.5" y="888.57" font-size="9.5" text-anchor="end" textLength="22.19" lengthAdjust="spacingAndGlyphs">2500</text>
<text x="406.5" y="867.5" font-size="9.5" text-anchor="end" textLength="22.19" lengthAdjust="spacingAndGlyphs">3000</text>
<text x="532.85" y="844.25" font-size="11.4" text-anchor="middle" textLength="211.73" lengthAdjust="spacingAndGlyphs">Autoencoder: Predicted vs Real (Train)</text>
<text x="532.85" y="1041.05" font-size="9.5" text-anchor="middle" textLength="125.87" lengthAdjust="spacingAndGlyphs">Real Generated Power (kW)</text>
<text x="378.1" y="933.1" font-size="9.5" text-anchor="middle" textLength="149.05" lengthAdjust="spacingAndGlyphs" transform="rotate(-90 378.1 933.1)">Predicted Generated Power (kW)</text>
<text x="526.5" y="1075" font-size="21.6" text-anchor="middle" fill="#000" style="fill:#000;stroke:none">(h)</text>
<path d="M7.4 3.9 H676.9 A3 3 0 0 1 679.9 6.9 V1080.8 A3 3 0 0 1 676.9 1083.8 H7.4 A3 3 0 0 1 4.4 1080.8 V6.9 A3 3 0 0 1 7.4 3.9" fill="none" stroke="#000" stroke-width="2.3" stroke-dasharray="11 5.4 1.8 5.35" stroke-dashoffset="16.6"/>
</g>
</svg></body></html>
